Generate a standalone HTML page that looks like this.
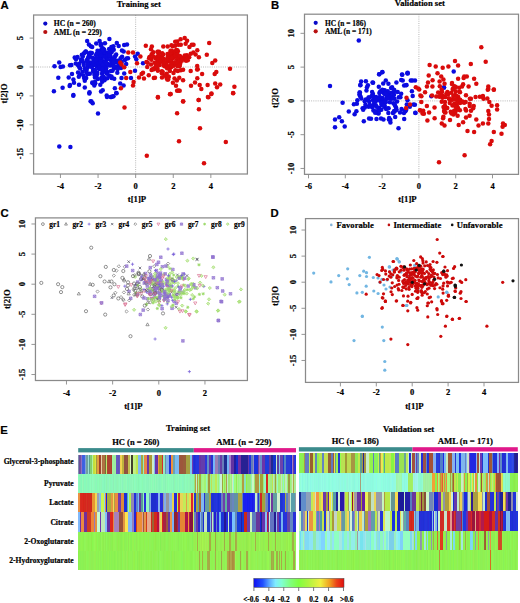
<!DOCTYPE html><html><head><meta charset="utf-8"><style>html,body{margin:0;padding:0;background:#fff}svg{display:block}text{stroke:#000;stroke-width:0.2px}</style></head><body>
<svg xmlns="http://www.w3.org/2000/svg" width="520" height="603" viewBox="0 0 520 603">
<rect width="520" height="603" fill="#fff"/>
<line x1="135.65" y1="15" x2="135.65" y2="174" stroke="#a0a0a0" stroke-width="0.75" stroke-dasharray="1,1.2"/>
<line x1="33.6" y1="67" x2="247.4" y2="67" stroke="#a0a0a0" stroke-width="0.75" stroke-dasharray="1,1.2"/>
<g fill="#0b0be0"><circle cx="103.02" cy="67.07" r="2.25"/><circle cx="106.73" cy="53.11" r="2.25"/><circle cx="99.57" cy="56.42" r="2.25"/><circle cx="91.87" cy="53.01" r="2.25"/><circle cx="97.32" cy="54.13" r="2.25"/><circle cx="90.6" cy="64.95" r="2.25"/><circle cx="103.75" cy="55.17" r="2.25"/><circle cx="119.75" cy="66.56" r="2.25"/><circle cx="96.85" cy="66.4" r="2.25"/><circle cx="95.24" cy="83.25" r="2.25"/><circle cx="109.12" cy="49.07" r="2.25"/><circle cx="107.46" cy="71.88" r="2.25"/><circle cx="104.32" cy="62.11" r="2.25"/><circle cx="91.37" cy="62.86" r="2.25"/><circle cx="102.63" cy="48.5" r="2.25"/><circle cx="111.69" cy="58.4" r="2.25"/><circle cx="86.2" cy="70.43" r="2.25"/><circle cx="97.28" cy="62.18" r="2.25"/><circle cx="79.23" cy="63.81" r="2.25"/><circle cx="86.88" cy="60.09" r="2.25"/><circle cx="79.98" cy="74.55" r="2.25"/><circle cx="100.06" cy="62.79" r="2.25"/><circle cx="87.16" cy="41" r="2.25"/><circle cx="106.39" cy="56.08" r="2.25"/><circle cx="104.96" cy="43.31" r="2.25"/><circle cx="96.27" cy="76.34" r="2.25"/><circle cx="102.39" cy="63.47" r="2.25"/><circle cx="104.42" cy="51.27" r="2.25"/><circle cx="83.87" cy="53.59" r="2.25"/><circle cx="97.03" cy="74.31" r="2.25"/><circle cx="90.77" cy="64.58" r="2.25"/><circle cx="92.89" cy="63.48" r="2.25"/><circle cx="116.26" cy="62.47" r="2.25"/><circle cx="92.91" cy="63.38" r="2.25"/><circle cx="102.59" cy="71.05" r="2.25"/><circle cx="114.05" cy="68.53" r="2.25"/><circle cx="95.7" cy="65.16" r="2.25"/><circle cx="101.6" cy="52.57" r="2.25"/><circle cx="104.38" cy="68.11" r="2.25"/><circle cx="103.8" cy="56.16" r="2.25"/><circle cx="87.69" cy="73.94" r="2.25"/><circle cx="103.95" cy="50.29" r="2.25"/><circle cx="119.99" cy="61.62" r="2.25"/><circle cx="83.66" cy="62.93" r="2.25"/><circle cx="113.74" cy="49.75" r="2.25"/><circle cx="104.49" cy="80.22" r="2.25"/><circle cx="94.98" cy="77.6" r="2.25"/><circle cx="128.01" cy="58.36" r="2.25"/><circle cx="112.53" cy="70.72" r="2.25"/><circle cx="88.01" cy="66.79" r="2.25"/><circle cx="110.21" cy="65.5" r="2.25"/><circle cx="100.64" cy="62.39" r="2.25"/><circle cx="111.54" cy="63.83" r="2.25"/><circle cx="102.17" cy="52.23" r="2.25"/><circle cx="111.34" cy="60.31" r="2.25"/><circle cx="120.98" cy="61.22" r="2.25"/><circle cx="94.55" cy="74.88" r="2.25"/><circle cx="105.54" cy="66.34" r="2.25"/><circle cx="97.21" cy="62.94" r="2.25"/><circle cx="104.59" cy="78.29" r="2.25"/><circle cx="88.16" cy="57.45" r="2.25"/><circle cx="95.76" cy="59.11" r="2.25"/><circle cx="100.55" cy="44.83" r="2.25"/><circle cx="114.23" cy="78.69" r="2.25"/><circle cx="117.32" cy="72.64" r="2.25"/><circle cx="86.46" cy="72.17" r="2.25"/><circle cx="93.07" cy="69.69" r="2.25"/><circle cx="111.09" cy="64.1" r="2.25"/><circle cx="78.09" cy="65.15" r="2.25"/><circle cx="97.21" cy="60.48" r="2.25"/><circle cx="101.78" cy="60.96" r="2.25"/><circle cx="118.71" cy="63.54" r="2.25"/><circle cx="111.62" cy="78.12" r="2.25"/><circle cx="98.91" cy="68.56" r="2.25"/><circle cx="98.39" cy="62.42" r="2.25"/><circle cx="99.87" cy="57.21" r="2.25"/><circle cx="122.04" cy="56.65" r="2.25"/><circle cx="97.65" cy="79.03" r="2.25"/><circle cx="99.2" cy="68.07" r="2.25"/><circle cx="107.41" cy="63.68" r="2.25"/><circle cx="101.49" cy="59.54" r="2.25"/><circle cx="100.53" cy="51.91" r="2.25"/><circle cx="89.07" cy="62.33" r="2.25"/><circle cx="102.86" cy="71.74" r="2.25"/><circle cx="97.46" cy="59.07" r="2.25"/><circle cx="117.58" cy="60.73" r="2.25"/><circle cx="111.16" cy="60.79" r="2.25"/><circle cx="102.7" cy="64.1" r="2.25"/><circle cx="111.35" cy="47.07" r="2.25"/><circle cx="98.75" cy="60.65" r="2.25"/><circle cx="116.15" cy="54.46" r="2.25"/><circle cx="102.93" cy="71.85" r="2.25"/><circle cx="110.29" cy="55.29" r="2.25"/><circle cx="86.86" cy="68.77" r="2.25"/><circle cx="107.33" cy="78.24" r="2.25"/><circle cx="81.9" cy="59.86" r="2.25"/><circle cx="77.56" cy="56.98" r="2.25"/><circle cx="99.19" cy="64.91" r="2.25"/><circle cx="91.75" cy="62.98" r="2.25"/><circle cx="105.05" cy="53.06" r="2.25"/><circle cx="92.6" cy="83.16" r="2.25"/><circle cx="95.2" cy="60.42" r="2.25"/><circle cx="105.57" cy="60.97" r="2.25"/><circle cx="109.16" cy="52.55" r="2.25"/><circle cx="100.79" cy="66.19" r="2.25"/><circle cx="100.43" cy="50.53" r="2.25"/><circle cx="111.78" cy="51.93" r="2.25"/><circle cx="109.5" cy="75.8" r="2.25"/><circle cx="90.08" cy="53.95" r="2.25"/><circle cx="102.01" cy="73.81" r="2.25"/><circle cx="103.44" cy="78.24" r="2.25"/><circle cx="89.82" cy="65.59" r="2.25"/><circle cx="106.25" cy="68.53" r="2.25"/><circle cx="92.28" cy="82.52" r="2.25"/><circle cx="115.15" cy="61.03" r="2.25"/><circle cx="105.41" cy="57.07" r="2.25"/><circle cx="104.12" cy="49.47" r="2.25"/><circle cx="95.61" cy="63.42" r="2.25"/><circle cx="101.52" cy="77.79" r="2.25"/><circle cx="78.03" cy="72.6" r="2.25"/><circle cx="88.86" cy="53.58" r="2.25"/><circle cx="107.54" cy="54.45" r="2.25"/><circle cx="113.58" cy="65.92" r="2.25"/><circle cx="81.17" cy="60.95" r="2.25"/><circle cx="112.46" cy="65.14" r="2.25"/><circle cx="92.43" cy="65.97" r="2.25"/><circle cx="112.74" cy="60.01" r="2.25"/><circle cx="104.64" cy="62.6" r="2.25"/><circle cx="83.79" cy="65.07" r="2.25"/><circle cx="118.61" cy="62.16" r="2.25"/><circle cx="121.02" cy="68.04" r="2.25"/><circle cx="102.18" cy="81.71" r="2.25"/><circle cx="99.58" cy="68.92" r="2.25"/><circle cx="101" cy="63.56" r="2.25"/><circle cx="90.81" cy="46.14" r="2.25"/><circle cx="116.73" cy="66.88" r="2.25"/><circle cx="96.21" cy="43.53" r="2.25"/><circle cx="102.36" cy="48.91" r="2.25"/><circle cx="93.08" cy="71.55" r="2.25"/><circle cx="95.17" cy="70.06" r="2.25"/><circle cx="87.03" cy="61.5" r="2.25"/><circle cx="118.71" cy="45.9" r="2.25"/><circle cx="101.07" cy="59.29" r="2.25"/><circle cx="115.07" cy="56.21" r="2.25"/><circle cx="103.17" cy="69.37" r="2.25"/><circle cx="94.32" cy="85.58" r="2.25"/><circle cx="98.92" cy="65.17" r="2.25"/><circle cx="96" cy="55.21" r="2.25"/><circle cx="103.1" cy="51.29" r="2.25"/><circle cx="98.31" cy="62.44" r="2.25"/><circle cx="99.25" cy="61.23" r="2.25"/><circle cx="85.77" cy="51.48" r="2.25"/><circle cx="92.91" cy="64.16" r="2.25"/><circle cx="123.68" cy="51.49" r="2.25"/><circle cx="94.61" cy="74.12" r="2.25"/><circle cx="89.82" cy="73.63" r="2.25"/><circle cx="107.22" cy="73.85" r="2.25"/><circle cx="120.59" cy="58.26" r="2.25"/><circle cx="84.82" cy="68.15" r="2.25"/><circle cx="100.39" cy="61.68" r="2.25"/><circle cx="95.1" cy="59.11" r="2.25"/><circle cx="80.99" cy="59.61" r="2.25"/><circle cx="112.19" cy="50" r="2.25"/><circle cx="102.71" cy="48.56" r="2.25"/><circle cx="103.89" cy="70.94" r="2.25"/><circle cx="93.6" cy="61.09" r="2.25"/><circle cx="108.68" cy="65.16" r="2.25"/><circle cx="96.26" cy="73.02" r="2.25"/><circle cx="101.21" cy="45.67" r="2.25"/><circle cx="89.15" cy="55.16" r="2.25"/><circle cx="87.8" cy="64.75" r="2.25"/><circle cx="119.69" cy="66.92" r="2.25"/><circle cx="96.66" cy="59.23" r="2.25"/><circle cx="106.65" cy="73.29" r="2.25"/><circle cx="102.58" cy="65.1" r="2.25"/><circle cx="97.49" cy="50.87" r="2.25"/><circle cx="96.65" cy="53.69" r="2.25"/><circle cx="110.88" cy="71.05" r="2.25"/><circle cx="99.23" cy="67.64" r="2.25"/><circle cx="101.11" cy="44.01" r="2.25"/><circle cx="103.28" cy="76.48" r="2.25"/><circle cx="117.71" cy="68.98" r="2.25"/><circle cx="111.51" cy="76.43" r="2.25"/><circle cx="107.78" cy="59.16" r="2.25"/><circle cx="95.96" cy="60.04" r="2.25"/><circle cx="85.73" cy="51.74" r="2.25"/><circle cx="114.87" cy="88.37" r="2.25"/><circle cx="115.08" cy="61.25" r="2.25"/><circle cx="101.24" cy="78.88" r="2.25"/><circle cx="109.77" cy="56.53" r="2.25"/><circle cx="112.77" cy="64.64" r="2.25"/><circle cx="113.39" cy="46.29" r="2.25"/><circle cx="114.52" cy="59.17" r="2.25"/><circle cx="97.3" cy="72.84" r="2.25"/><circle cx="121.94" cy="50.48" r="2.25"/><circle cx="87.42" cy="73.72" r="2.25"/><circle cx="113.77" cy="66.37" r="2.25"/><circle cx="109.17" cy="52.56" r="2.25"/><circle cx="113.92" cy="57.98" r="2.25"/><circle cx="126.49" cy="58.41" r="2.25"/><circle cx="121.56" cy="62.5" r="2.25"/><circle cx="88.69" cy="57.64" r="2.25"/><circle cx="81.89" cy="54.73" r="2.25"/><circle cx="113.21" cy="59.95" r="2.25"/><circle cx="90.31" cy="52.73" r="2.25"/><circle cx="102.84" cy="50.1" r="2.25"/><circle cx="113.5" cy="62.52" r="2.25"/><circle cx="82.45" cy="71.83" r="2.25"/><circle cx="106.24" cy="63.04" r="2.25"/><circle cx="103.55" cy="56.5" r="2.25"/><circle cx="99.93" cy="53.23" r="2.25"/><circle cx="103.48" cy="71.53" r="2.25"/><circle cx="92.24" cy="57.82" r="2.25"/><circle cx="84.08" cy="77.98" r="2.25"/><circle cx="100.92" cy="55.2" r="2.25"/><circle cx="90.85" cy="66.87" r="2.25"/><circle cx="82.46" cy="60.73" r="2.25"/><circle cx="109.32" cy="55.46" r="2.25"/><circle cx="102.23" cy="68.88" r="2.25"/><circle cx="54.5" cy="66.2" r="2.25"/><circle cx="59.2" cy="62.6" r="2.25"/><circle cx="60.6" cy="67" r="2.25"/><circle cx="62.9" cy="66.6" r="2.25"/><circle cx="58.3" cy="77.8" r="2.25"/><circle cx="53.9" cy="91.3" r="2.25"/><circle cx="62.6" cy="87.8" r="2.25"/><circle cx="70" cy="65.3" r="2.25"/><circle cx="71.4" cy="64.9" r="2.25"/><circle cx="73.4" cy="94.9" r="2.25"/><circle cx="69.6" cy="86.1" r="2.25"/><circle cx="70" cy="85" r="2.25"/><circle cx="68.7" cy="77.4" r="2.25"/><circle cx="72" cy="74" r="2.25"/><circle cx="73.4" cy="79.4" r="2.25"/><circle cx="74" cy="82.8" r="2.25"/><circle cx="74.7" cy="57.6" r="2.25"/><circle cx="76" cy="59.2" r="2.25"/><circle cx="75.8" cy="63.5" r="2.25"/><circle cx="79.4" cy="67.3" r="2.25"/><circle cx="80.1" cy="68.6" r="2.25"/><circle cx="79" cy="84.8" r="2.25"/><circle cx="78.8" cy="76.7" r="2.25"/><circle cx="84.8" cy="87.5" r="2.25"/><circle cx="83.5" cy="75.4" r="2.25"/><circle cx="84.8" cy="80.8" r="2.25"/><circle cx="86.2" cy="78" r="2.25"/><circle cx="89.5" cy="92.2" r="2.25"/><circle cx="89.3" cy="93.5" r="2.25"/><circle cx="91.5" cy="101.6" r="2.25"/><circle cx="82.8" cy="56.5" r="2.25"/><circle cx="84.8" cy="52.5" r="2.25"/><circle cx="88.9" cy="44.4" r="2.25"/><circle cx="99.6" cy="41" r="2.25"/><circle cx="92.2" cy="47.1" r="2.25"/><circle cx="94.9" cy="82.1" r="2.25"/><circle cx="101" cy="91.5" r="2.25"/><circle cx="100.3" cy="84.8" r="2.25"/><circle cx="109.4" cy="39" r="2.25"/><circle cx="116.8" cy="43" r="2.25"/><circle cx="127" cy="44.4" r="2.25"/><circle cx="124.2" cy="45.1" r="2.25"/><circle cx="135" cy="56.5" r="2.25"/><circle cx="137.7" cy="53.8" r="2.25"/><circle cx="136.3" cy="59.2" r="2.25"/><circle cx="143" cy="63.3" r="2.25"/><circle cx="124.9" cy="59.9" r="2.25"/><circle cx="126.2" cy="63.9" r="2.25"/><circle cx="135" cy="70.7" r="2.25"/><circle cx="131" cy="78" r="2.25"/><circle cx="124.2" cy="73.4" r="2.25"/><circle cx="121.5" cy="78.1" r="2.25"/><circle cx="120.2" cy="83.5" r="2.25"/><circle cx="123.6" cy="85.5" r="2.25"/><circle cx="116.2" cy="92.9" r="2.25"/><circle cx="113.5" cy="96.2" r="2.25"/><circle cx="106.7" cy="95.6" r="2.25"/><circle cx="110.8" cy="96.9" r="2.25"/><circle cx="102.7" cy="90.2" r="2.25"/><circle cx="73.3" cy="95.8" r="2.25"/><circle cx="90.6" cy="101.2" r="2.25"/><circle cx="92.7" cy="103.2" r="2.25"/><circle cx="98" cy="113.5" r="2.25"/><circle cx="107" cy="97" r="2.25"/><circle cx="111.2" cy="97" r="2.25"/><circle cx="59.3" cy="146.4" r="2.25"/><circle cx="70.4" cy="146.9" r="2.25"/><circle cx="116.6" cy="93.2" r="2.25"/><circle cx="112.6" cy="96.6" r="2.25"/></g>
<g fill="#d90b0b"><circle cx="169.91" cy="68.08" r="2.25"/><circle cx="180.14" cy="63.43" r="2.25"/><circle cx="171.36" cy="54.59" r="2.25"/><circle cx="157.34" cy="59.87" r="2.25"/><circle cx="170.62" cy="66.81" r="2.25"/><circle cx="184.94" cy="58.88" r="2.25"/><circle cx="159.77" cy="64.89" r="2.25"/><circle cx="171.47" cy="66.14" r="2.25"/><circle cx="148.75" cy="75.31" r="2.25"/><circle cx="180.8" cy="70.22" r="2.25"/><circle cx="157.4" cy="62.81" r="2.25"/><circle cx="147.61" cy="62.72" r="2.25"/><circle cx="171.2" cy="67.08" r="2.25"/><circle cx="186.93" cy="55.15" r="2.25"/><circle cx="151.42" cy="59.64" r="2.25"/><circle cx="157.31" cy="68.16" r="2.25"/><circle cx="161.97" cy="77.62" r="2.25"/><circle cx="156.75" cy="58.57" r="2.25"/><circle cx="177.12" cy="59.56" r="2.25"/><circle cx="161.1" cy="61.79" r="2.25"/><circle cx="162.26" cy="72.09" r="2.25"/><circle cx="179.87" cy="59.73" r="2.25"/><circle cx="161.8" cy="73.22" r="2.25"/><circle cx="177.84" cy="51.3" r="2.25"/><circle cx="158.89" cy="58.33" r="2.25"/><circle cx="155.64" cy="58.22" r="2.25"/><circle cx="147.22" cy="67.08" r="2.25"/><circle cx="197.13" cy="69.41" r="2.25"/><circle cx="167.68" cy="46.42" r="2.25"/><circle cx="175.29" cy="51.76" r="2.25"/><circle cx="171.58" cy="63.03" r="2.25"/><circle cx="174.16" cy="54.07" r="2.25"/><circle cx="172.67" cy="46.3" r="2.25"/><circle cx="197.76" cy="69.35" r="2.25"/><circle cx="157.97" cy="64.45" r="2.25"/><circle cx="150.97" cy="64.44" r="2.25"/><circle cx="158.34" cy="55.72" r="2.25"/><circle cx="153.98" cy="69.26" r="2.25"/><circle cx="182.08" cy="57.84" r="2.25"/><circle cx="183.08" cy="69.87" r="2.25"/><circle cx="159.02" cy="51.8" r="2.25"/><circle cx="153.23" cy="52.31" r="2.25"/><circle cx="167.21" cy="61.84" r="2.25"/><circle cx="190.78" cy="53.68" r="2.25"/><circle cx="179.11" cy="62.34" r="2.25"/><circle cx="157.48" cy="51.69" r="2.25"/><circle cx="186.04" cy="60.66" r="2.25"/><circle cx="157.45" cy="56.84" r="2.25"/><circle cx="168.15" cy="68.24" r="2.25"/><circle cx="151.67" cy="54.31" r="2.25"/><circle cx="158.81" cy="56.05" r="2.25"/><circle cx="190.71" cy="70.9" r="2.25"/><circle cx="183.08" cy="80.15" r="2.25"/><circle cx="166.58" cy="77.99" r="2.25"/><circle cx="160.25" cy="60.57" r="2.25"/><circle cx="146.43" cy="61.97" r="2.25"/><circle cx="166.69" cy="73.8" r="2.25"/><circle cx="171.58" cy="58.88" r="2.25"/><circle cx="170.87" cy="51.21" r="2.25"/><circle cx="170.73" cy="61.05" r="2.25"/><circle cx="156.86" cy="64.06" r="2.25"/><circle cx="171.11" cy="52.54" r="2.25"/><circle cx="171.48" cy="45.18" r="2.25"/><circle cx="189.42" cy="47.07" r="2.25"/><circle cx="197.2" cy="65.99" r="2.25"/><circle cx="170.15" cy="53.17" r="2.25"/><circle cx="161.65" cy="58.73" r="2.25"/><circle cx="171.12" cy="61.91" r="2.25"/><circle cx="163.8" cy="65.57" r="2.25"/><circle cx="161.98" cy="56.99" r="2.25"/><circle cx="171.21" cy="64.49" r="2.25"/><circle cx="157.92" cy="51.99" r="2.25"/><circle cx="180.18" cy="56.74" r="2.25"/><circle cx="170.6" cy="50.78" r="2.25"/><circle cx="175.38" cy="70.19" r="2.25"/><circle cx="169.53" cy="59.76" r="2.25"/><circle cx="162.18" cy="53.35" r="2.25"/><circle cx="159.2" cy="56.83" r="2.25"/><circle cx="168.8" cy="58" r="2.25"/><circle cx="164.59" cy="66.3" r="2.25"/><circle cx="175.16" cy="45.64" r="2.25"/><circle cx="171.94" cy="50.67" r="2.25"/><circle cx="153.61" cy="56.6" r="2.25"/><circle cx="172.91" cy="82.79" r="2.25"/><circle cx="153.87" cy="68.6" r="2.25"/><circle cx="163.68" cy="59" r="2.25"/><circle cx="168.03" cy="66.41" r="2.25"/><circle cx="143.98" cy="78.52" r="2.25"/><circle cx="173.24" cy="57.9" r="2.25"/><circle cx="174.04" cy="56.7" r="2.25"/><circle cx="169.87" cy="70.91" r="2.25"/><circle cx="166.27" cy="64.45" r="2.25"/><circle cx="166.96" cy="66.04" r="2.25"/><circle cx="158.82" cy="55.43" r="2.25"/><circle cx="168.36" cy="77.32" r="2.25"/><circle cx="164.54" cy="75.39" r="2.25"/><circle cx="173.24" cy="65.09" r="2.25"/><circle cx="155.74" cy="66.16" r="2.25"/><circle cx="175.18" cy="41.75" r="2.25"/><circle cx="173.93" cy="65.74" r="2.25"/><circle cx="170.09" cy="58.25" r="2.25"/><circle cx="166.07" cy="63.91" r="2.25"/><circle cx="179.46" cy="66.14" r="2.25"/><circle cx="149.53" cy="56.93" r="2.25"/><circle cx="178.22" cy="44.79" r="2.25"/><circle cx="175.28" cy="63.31" r="2.25"/><circle cx="175.83" cy="53.33" r="2.25"/><circle cx="177.17" cy="57.03" r="2.25"/><circle cx="163.18" cy="54.56" r="2.25"/><circle cx="168.5" cy="56.93" r="2.25"/><circle cx="180.6" cy="39.21" r="2.25"/><circle cx="177.81" cy="70.95" r="2.25"/><circle cx="174.79" cy="62.28" r="2.25"/><circle cx="151.56" cy="70" r="2.25"/><circle cx="179.26" cy="77.82" r="2.25"/><circle cx="187.79" cy="60.2" r="2.25"/><circle cx="185.63" cy="43.78" r="2.25"/><circle cx="175.16" cy="51.96" r="2.25"/><circle cx="150.97" cy="49.14" r="2.25"/><circle cx="184.72" cy="55.48" r="2.25"/><circle cx="170.01" cy="60.72" r="2.25"/><circle cx="177.09" cy="63.08" r="2.25"/><circle cx="151.86" cy="46.41" r="2.25"/><circle cx="154.5" cy="62.68" r="2.25"/><circle cx="163.43" cy="59.01" r="2.25"/><circle cx="189.18" cy="57.18" r="2.25"/><circle cx="166.99" cy="59.34" r="2.25"/><circle cx="175.66" cy="55.14" r="2.25"/><circle cx="195.6" cy="54.49" r="2.25"/><circle cx="193.52" cy="44.86" r="2.25"/><circle cx="170.6" cy="59.73" r="2.25"/><circle cx="168.74" cy="76.61" r="2.25"/><circle cx="154.98" cy="77.82" r="2.25"/><circle cx="162.62" cy="71.9" r="2.25"/><circle cx="177.74" cy="66.35" r="2.25"/><circle cx="177.34" cy="53.91" r="2.25"/><circle cx="173.49" cy="72.98" r="2.25"/><circle cx="185.43" cy="59.49" r="2.25"/><circle cx="161.57" cy="59.38" r="2.25"/><circle cx="171.24" cy="57.38" r="2.25"/><circle cx="181.87" cy="60.83" r="2.25"/><circle cx="179.89" cy="56.08" r="2.25"/><circle cx="186.46" cy="59.25" r="2.25"/><circle cx="177.36" cy="50.24" r="2.25"/><circle cx="167.82" cy="56.64" r="2.25"/><circle cx="176.89" cy="80.53" r="2.25"/><circle cx="158.46" cy="59.37" r="2.25"/><circle cx="149.87" cy="57.85" r="2.25"/><circle cx="179.84" cy="64.79" r="2.25"/><circle cx="171.26" cy="66.37" r="2.25"/><circle cx="176.16" cy="49.98" r="2.25"/><circle cx="149.08" cy="58.14" r="2.25"/><circle cx="167.07" cy="68.26" r="2.25"/><circle cx="163.9" cy="62.43" r="2.25"/><circle cx="160.33" cy="61.1" r="2.25"/><circle cx="141.56" cy="73.99" r="2.25"/><circle cx="167.48" cy="53.9" r="2.25"/><circle cx="128.3" cy="52.5" r="2.25"/><circle cx="133" cy="52.5" r="2.25"/><circle cx="120.2" cy="62.6" r="2.25"/><circle cx="121.5" cy="64.6" r="2.25"/><circle cx="124.2" cy="67.3" r="2.25"/><circle cx="130.3" cy="72" r="2.25"/><circle cx="126.2" cy="78.1" r="2.25"/><circle cx="133.6" cy="82.1" r="2.25"/><circle cx="133" cy="85.5" r="2.25"/><circle cx="120.9" cy="88.2" r="2.25"/><circle cx="139" cy="77.4" r="2.25"/><circle cx="143" cy="72.7" r="2.25"/><circle cx="137" cy="63.3" r="2.25"/><circle cx="140.4" cy="56.5" r="2.25"/><circle cx="153.8" cy="78.1" r="2.25"/><circle cx="152.5" cy="69.3" r="2.25"/><circle cx="157.9" cy="70.7" r="2.25"/><circle cx="161.9" cy="71.3" r="2.25"/><circle cx="157.9" cy="96.9" r="2.25"/><circle cx="166" cy="75.4" r="2.25"/><circle cx="167.3" cy="79.4" r="2.25"/><circle cx="170" cy="94.2" r="2.25"/><circle cx="145.8" cy="45.8" r="2.25"/><circle cx="163.3" cy="46.4" r="2.25"/><circle cx="184.7" cy="37.9" r="2.25"/><circle cx="187.1" cy="40.8" r="2.25"/><circle cx="177.3" cy="41.6" r="2.25"/><circle cx="180.8" cy="44.7" r="2.25"/><circle cx="191.8" cy="44.7" r="2.25"/><circle cx="209.2" cy="43.1" r="2.25"/><circle cx="197.3" cy="50.2" r="2.25"/><circle cx="193.4" cy="52.6" r="2.25"/><circle cx="206.8" cy="54.7" r="2.25"/><circle cx="198.9" cy="57.3" r="2.25"/><circle cx="212.3" cy="62.9" r="2.25"/><circle cx="215.2" cy="60.5" r="2.25"/><circle cx="230" cy="68.8" r="2.25"/><circle cx="216.3" cy="72" r="2.25"/><circle cx="214.7" cy="73.9" r="2.25"/><circle cx="202.1" cy="73.9" r="2.25"/><circle cx="197.3" cy="78.3" r="2.25"/><circle cx="207.6" cy="85" r="2.25"/><circle cx="215.2" cy="83.4" r="2.25"/><circle cx="217" cy="87.3" r="2.25"/><circle cx="220.2" cy="84.6" r="2.25"/><circle cx="234.4" cy="86.8" r="2.25"/><circle cx="233.1" cy="93.1" r="2.25"/><circle cx="211.5" cy="93.6" r="2.25"/><circle cx="208.4" cy="97.2" r="2.25"/><circle cx="198.6" cy="99.9" r="2.25"/><circle cx="183.1" cy="101.5" r="2.25"/><circle cx="170.5" cy="94.1" r="2.25"/><circle cx="178.4" cy="90.5" r="2.25"/><circle cx="176" cy="85.7" r="2.25"/><circle cx="191" cy="85.7" r="2.25"/><circle cx="195" cy="82.6" r="2.25"/><circle cx="199.7" cy="85" r="2.25"/><circle cx="201.3" cy="88.9" r="2.25"/><circle cx="168.2" cy="79.4" r="2.25"/><circle cx="174.5" cy="78.6" r="2.25"/><circle cx="124.5" cy="107.6" r="2.25"/><circle cx="157.9" cy="97.4" r="2.25"/><circle cx="170.5" cy="93.9" r="2.25"/><circle cx="177.1" cy="90.8" r="2.25"/><circle cx="179.7" cy="90.8" r="2.25"/><circle cx="183.2" cy="101.3" r="2.25"/><circle cx="198.7" cy="100" r="2.25"/><circle cx="207.9" cy="97.1" r="2.25"/><circle cx="211.3" cy="93.9" r="2.25"/><circle cx="233.2" cy="93.2" r="2.25"/><circle cx="198.9" cy="109.2" r="2.25"/><circle cx="177.1" cy="113.2" r="2.25"/><circle cx="200" cy="128.2" r="2.25"/><circle cx="179" cy="141.3" r="2.25"/><circle cx="225.8" cy="142.1" r="2.25"/><circle cx="146.8" cy="155.8" r="2.25"/><circle cx="204" cy="163.2" r="2.25"/></g>
<rect x="33.6" y="15" width="213.8" height="159" fill="none" stroke="#8a8a8a" stroke-width="1.25"/>
<line x1="60.45" y1="174" x2="60.45" y2="178" stroke="#8a8a8a" stroke-width="0.9"/>
<text x="60.45" y="189" text-anchor="middle" font-size="8.5" font-family='"Liberation Serif", serif' font-weight="bold" fill="#000">-4</text>
<line x1="98.05" y1="174" x2="98.05" y2="178" stroke="#8a8a8a" stroke-width="0.9"/>
<text x="98.05" y="189" text-anchor="middle" font-size="8.5" font-family='"Liberation Serif", serif' font-weight="bold" fill="#000">-2</text>
<line x1="135.65" y1="174" x2="135.65" y2="178" stroke="#8a8a8a" stroke-width="0.9"/>
<text x="135.65" y="189" text-anchor="middle" font-size="8.5" font-family='"Liberation Serif", serif' font-weight="bold" fill="#000">0</text>
<line x1="173.25" y1="174" x2="173.25" y2="178" stroke="#8a8a8a" stroke-width="0.9"/>
<text x="173.25" y="189" text-anchor="middle" font-size="8.5" font-family='"Liberation Serif", serif' font-weight="bold" fill="#000">2</text>
<line x1="210.85" y1="174" x2="210.85" y2="178" stroke="#8a8a8a" stroke-width="0.9"/>
<text x="210.85" y="189" text-anchor="middle" font-size="8.5" font-family='"Liberation Serif", serif' font-weight="bold" fill="#000">4</text>
<line x1="33.6" y1="38.1" x2="29.6" y2="38.1" stroke="#8a8a8a" stroke-width="0.9"/>
<text transform="translate(23,38.1) rotate(-90)" text-anchor="middle" font-size="8.5" font-family='"Liberation Serif", serif' font-weight="bold" fill="#000">5</text>
<line x1="33.6" y1="67" x2="29.6" y2="67" stroke="#8a8a8a" stroke-width="0.9"/>
<text transform="translate(23,67) rotate(-90)" text-anchor="middle" font-size="8.5" font-family='"Liberation Serif", serif' font-weight="bold" fill="#000">0</text>
<line x1="33.6" y1="95.9" x2="29.6" y2="95.9" stroke="#8a8a8a" stroke-width="0.9"/>
<text transform="translate(23,95.9) rotate(-90)" text-anchor="middle" font-size="8.5" font-family='"Liberation Serif", serif' font-weight="bold" fill="#000">-5</text>
<line x1="33.6" y1="124.8" x2="29.6" y2="124.8" stroke="#8a8a8a" stroke-width="0.9"/>
<text transform="translate(23,124.8) rotate(-90)" text-anchor="middle" font-size="8.5" font-family='"Liberation Serif", serif' font-weight="bold" fill="#000">-10</text>
<line x1="33.6" y1="153.7" x2="29.6" y2="153.7" stroke="#8a8a8a" stroke-width="0.9"/>
<text transform="translate(23,153.7) rotate(-90)" text-anchor="middle" font-size="8.5" font-family='"Liberation Serif", serif' font-weight="bold" fill="#000">-15</text>
<g fill="#0a0ac8"><circle cx="45.3" cy="23.6" r="2.1"/></g>
<g fill="#b81010"><circle cx="45.3" cy="32" r="2.1"/></g>
<text x="53.8" y="26.3" text-anchor="start" font-size="7.6" font-family='"Liberation Serif", serif' font-weight="bold" fill="#000">HC (n = 260)</text>
<text x="53.8" y="34.7" text-anchor="start" font-size="7.6" font-family='"Liberation Serif", serif' font-weight="bold" fill="#000">AML (n = 229)</text>
<text x="138.8" y="6.6" text-anchor="middle" font-size="8.6" font-family='"Liberation Serif", serif' font-weight="bold" fill="#000">Training set</text>
<text x="137" y="201.8" text-anchor="middle" font-size="8.7" font-family='"Liberation Serif", serif' font-weight="bold" fill="#000">t[1]P</text>
<text transform="translate(7,93.5) rotate(-90)" text-anchor="middle" font-size="8.7" font-family='"Liberation Serif", serif' font-weight="bold" fill="#000">t[2]O</text>
<text x="0.6" y="9.3" text-anchor="start" font-size="11.3" font-family='"Liberation Sans", sans-serif' font-weight="bold" fill="#000">A</text>
<line x1="418.9" y1="14.2" x2="418.9" y2="174.35" stroke="#a0a0a0" stroke-width="0.75" stroke-dasharray="1,1.2"/>
<line x1="304.5" y1="100.9" x2="518.5" y2="100.9" stroke="#a0a0a0" stroke-width="0.75" stroke-dasharray="1,1.2"/>
<g fill="#0b0be0"><circle cx="384.24" cy="102.48" r="2.25"/><circle cx="375.2" cy="101.68" r="2.25"/><circle cx="405.35" cy="111.36" r="2.25"/><circle cx="372.95" cy="93.93" r="2.25"/><circle cx="375.06" cy="99.11" r="2.25"/><circle cx="392.95" cy="112.89" r="2.25"/><circle cx="392.09" cy="87.13" r="2.25"/><circle cx="403.93" cy="112.92" r="2.25"/><circle cx="359.39" cy="94.61" r="2.25"/><circle cx="394.26" cy="89.99" r="2.25"/><circle cx="378.6" cy="113.6" r="2.25"/><circle cx="373.02" cy="100.03" r="2.25"/><circle cx="391.09" cy="88" r="2.25"/><circle cx="369.2" cy="97.41" r="2.25"/><circle cx="377.45" cy="112.92" r="2.25"/><circle cx="360.53" cy="96.73" r="2.25"/><circle cx="373.27" cy="105.06" r="2.25"/><circle cx="388.57" cy="108.14" r="2.25"/><circle cx="387.68" cy="94.55" r="2.25"/><circle cx="406.8" cy="104.55" r="2.25"/><circle cx="380.01" cy="100.68" r="2.25"/><circle cx="360" cy="95.64" r="2.25"/><circle cx="371.66" cy="96.08" r="2.25"/><circle cx="369.21" cy="101.67" r="2.25"/><circle cx="364.73" cy="101.3" r="2.25"/><circle cx="389.53" cy="95.35" r="2.25"/><circle cx="373.32" cy="96.74" r="2.25"/><circle cx="393.45" cy="103.14" r="2.25"/><circle cx="381.33" cy="109.85" r="2.25"/><circle cx="388.35" cy="113.02" r="2.25"/><circle cx="384.59" cy="106.89" r="2.25"/><circle cx="383.57" cy="92.75" r="2.25"/><circle cx="401.54" cy="109.08" r="2.25"/><circle cx="389.37" cy="97.82" r="2.25"/><circle cx="388.88" cy="119.56" r="2.25"/><circle cx="389.15" cy="118" r="2.25"/><circle cx="361.15" cy="81.46" r="2.25"/><circle cx="380.53" cy="91.31" r="2.25"/><circle cx="379.11" cy="107.64" r="2.25"/><circle cx="386.11" cy="108.9" r="2.25"/><circle cx="362.62" cy="108.37" r="2.25"/><circle cx="407.51" cy="100.29" r="2.25"/><circle cx="384.57" cy="105.55" r="2.25"/><circle cx="364.83" cy="107.53" r="2.25"/><circle cx="357.37" cy="100.22" r="2.25"/><circle cx="378.78" cy="111.27" r="2.25"/><circle cx="372.23" cy="107.34" r="2.25"/><circle cx="384.38" cy="90.66" r="2.25"/><circle cx="373.38" cy="110.59" r="2.25"/><circle cx="391.27" cy="98.71" r="2.25"/><circle cx="372.13" cy="92.11" r="2.25"/><circle cx="382.42" cy="104.74" r="2.25"/><circle cx="397.68" cy="91.89" r="2.25"/><circle cx="367.89" cy="85.33" r="2.25"/><circle cx="376.03" cy="100.73" r="2.25"/><circle cx="370.4" cy="105.97" r="2.25"/><circle cx="394.76" cy="111.23" r="2.25"/><circle cx="365.78" cy="99.58" r="2.25"/><circle cx="375.73" cy="111.48" r="2.25"/><circle cx="382.56" cy="101.18" r="2.25"/><circle cx="368.32" cy="100.07" r="2.25"/><circle cx="368.64" cy="106.74" r="2.25"/><circle cx="375.87" cy="111.58" r="2.25"/><circle cx="361.32" cy="98.56" r="2.25"/><circle cx="376.8" cy="99.39" r="2.25"/><circle cx="385.22" cy="101.83" r="2.25"/><circle cx="380.21" cy="92" r="2.25"/><circle cx="356.39" cy="111.28" r="2.25"/><circle cx="376.04" cy="97" r="2.25"/><circle cx="394.98" cy="105.62" r="2.25"/><circle cx="391.34" cy="92.75" r="2.25"/><circle cx="381.82" cy="104.59" r="2.25"/><circle cx="369.69" cy="104.92" r="2.25"/><circle cx="392.47" cy="96.79" r="2.25"/><circle cx="365.46" cy="104.71" r="2.25"/><circle cx="370.97" cy="118.77" r="2.25"/><circle cx="404.73" cy="110.59" r="2.25"/><circle cx="386.3" cy="94.38" r="2.25"/><circle cx="400.39" cy="97.18" r="2.25"/><circle cx="375.81" cy="105.36" r="2.25"/><circle cx="397.07" cy="101.61" r="2.25"/><circle cx="373.98" cy="101.49" r="2.25"/><circle cx="380.64" cy="98.14" r="2.25"/><circle cx="394.51" cy="98.75" r="2.25"/><circle cx="381.73" cy="104.72" r="2.25"/><circle cx="387.89" cy="93.74" r="2.25"/><circle cx="401.16" cy="93.85" r="2.25"/><circle cx="375.66" cy="98.81" r="2.25"/><circle cx="356.88" cy="103.73" r="2.25"/><circle cx="378.81" cy="86.68" r="2.25"/><circle cx="383.23" cy="83.51" r="2.25"/><circle cx="384.64" cy="90.34" r="2.25"/><circle cx="402.75" cy="80.58" r="2.25"/><circle cx="387.75" cy="91.33" r="2.25"/><circle cx="395.19" cy="116.91" r="2.25"/><circle cx="366.48" cy="90.43" r="2.25"/><circle cx="396.02" cy="107.51" r="2.25"/><circle cx="394.59" cy="103.99" r="2.25"/><circle cx="386.8" cy="97.8" r="2.25"/><circle cx="385.31" cy="100.4" r="2.25"/><circle cx="409.81" cy="106.69" r="2.25"/><circle cx="369.09" cy="118.56" r="2.25"/><circle cx="381.33" cy="102.95" r="2.25"/><circle cx="389.9" cy="102.24" r="2.25"/><circle cx="394.16" cy="91.27" r="2.25"/><circle cx="376.44" cy="106.83" r="2.25"/><circle cx="387.61" cy="98.54" r="2.25"/><circle cx="378.83" cy="109.32" r="2.25"/><circle cx="384.81" cy="100.56" r="2.25"/><circle cx="381.02" cy="118.41" r="2.25"/><circle cx="365.88" cy="81.17" r="2.25"/><circle cx="382.68" cy="98.03" r="2.25"/><circle cx="396.16" cy="109.81" r="2.25"/><circle cx="368.49" cy="97.49" r="2.25"/><circle cx="379.38" cy="93.08" r="2.25"/><circle cx="392.97" cy="98.34" r="2.25"/><circle cx="366.95" cy="87.2" r="2.25"/><circle cx="385.74" cy="102.19" r="2.25"/><circle cx="400.02" cy="112.45" r="2.25"/><circle cx="379.71" cy="96.95" r="2.25"/><circle cx="394.1" cy="111.04" r="2.25"/><circle cx="384.81" cy="92.79" r="2.25"/><circle cx="384.53" cy="94.1" r="2.25"/><circle cx="406.22" cy="109.85" r="2.25"/><circle cx="363.21" cy="109.65" r="2.25"/><circle cx="398.83" cy="97.26" r="2.25"/><circle cx="382.27" cy="89.82" r="2.25"/><circle cx="404.13" cy="85.5" r="2.25"/><circle cx="385.81" cy="94.01" r="2.25"/><circle cx="387.16" cy="108.5" r="2.25"/><circle cx="394.04" cy="94.7" r="2.25"/><circle cx="383.54" cy="105.81" r="2.25"/><circle cx="390.32" cy="119.68" r="2.25"/><circle cx="375.17" cy="112.73" r="2.25"/><circle cx="396.5" cy="109.69" r="2.25"/><circle cx="393.49" cy="112.58" r="2.25"/><circle cx="358.8" cy="40.5" r="2.25"/><circle cx="330" cy="85.9" r="2.25"/><circle cx="360.3" cy="85.2" r="2.25"/><circle cx="359.6" cy="92.5" r="2.25"/><circle cx="379.1" cy="74.2" r="2.25"/><circle cx="382.4" cy="72" r="2.25"/><circle cx="372.5" cy="82.6" r="2.25"/><circle cx="402.3" cy="74.8" r="2.25"/><circle cx="407.4" cy="73.3" r="2.25"/><circle cx="401.2" cy="79.9" r="2.25"/><circle cx="410.8" cy="80.4" r="2.25"/><circle cx="415" cy="80.4" r="2.25"/><circle cx="396.4" cy="82.6" r="2.25"/><circle cx="406.1" cy="85.2" r="2.25"/><circle cx="385.8" cy="80.4" r="2.25"/><circle cx="388.4" cy="83.7" r="2.25"/><circle cx="342.6" cy="102.8" r="2.25"/><circle cx="348.8" cy="111.5" r="2.25"/><circle cx="335" cy="119.6" r="2.25"/><circle cx="339.2" cy="117.3" r="2.25"/><circle cx="341.9" cy="121.2" r="2.25"/><circle cx="335" cy="127.2" r="2.25"/><circle cx="344.7" cy="126.5" r="2.25"/><circle cx="354.6" cy="114.3" r="2.25"/><circle cx="353.9" cy="104.2" r="2.25"/><circle cx="360.4" cy="85" r="2.25"/><circle cx="359.9" cy="92.6" r="2.25"/><circle cx="363.8" cy="121.2" r="2.25"/><circle cx="373.1" cy="82.7" r="2.25"/><circle cx="379.3" cy="74.2" r="2.25"/><circle cx="382.3" cy="72.3" r="2.25"/><circle cx="402" cy="74.6" r="2.25"/><circle cx="407.7" cy="73.5" r="2.25"/><circle cx="412.3" cy="80.4" r="2.25"/><circle cx="406.5" cy="85" r="2.25"/><circle cx="411.9" cy="91.2" r="2.25"/><circle cx="413.5" cy="104.6" r="2.25"/><circle cx="415.3" cy="112.7" r="2.25"/><circle cx="398.5" cy="128.2" r="2.25"/><circle cx="404.2" cy="118.9" r="2.25"/><circle cx="390.4" cy="122.6" r="2.25"/><circle cx="383.5" cy="119.6" r="2.25"/><circle cx="376.5" cy="118.9" r="2.25"/><circle cx="407.6" cy="72.8" r="2.25"/><circle cx="453.7" cy="71.5" r="2.25"/><circle cx="444" cy="87.5" r="2.25"/><circle cx="431.3" cy="96.2" r="2.25"/><circle cx="415.5" cy="113.1" r="2.25"/><circle cx="414.9" cy="104.7" r="2.25"/><circle cx="412.7" cy="96" r="2.25"/><circle cx="444" cy="87.6" r="2.25"/></g>
<g fill="#d90b0b"><circle cx="444.55" cy="83.63" r="2.25"/><circle cx="441.65" cy="89.64" r="2.25"/><circle cx="453.46" cy="114.56" r="2.25"/><circle cx="432.58" cy="80.31" r="2.25"/><circle cx="475.59" cy="96.96" r="2.25"/><circle cx="421.32" cy="101.97" r="2.25"/><circle cx="439.5" cy="96.63" r="2.25"/><circle cx="451.23" cy="92.73" r="2.25"/><circle cx="451.82" cy="99.45" r="2.25"/><circle cx="457.33" cy="99.96" r="2.25"/><circle cx="458.8" cy="99.26" r="2.25"/><circle cx="452.01" cy="83.1" r="2.25"/><circle cx="470.92" cy="98.67" r="2.25"/><circle cx="425.05" cy="92.3" r="2.25"/><circle cx="455" cy="95.07" r="2.25"/><circle cx="445" cy="102.04" r="2.25"/><circle cx="456.86" cy="105.77" r="2.25"/><circle cx="458.09" cy="108.07" r="2.25"/><circle cx="442.23" cy="95.53" r="2.25"/><circle cx="446.03" cy="108.32" r="2.25"/><circle cx="466.1" cy="110.56" r="2.25"/><circle cx="459.89" cy="110.23" r="2.25"/><circle cx="445.48" cy="112.51" r="2.25"/><circle cx="483.56" cy="98.69" r="2.25"/><circle cx="487.33" cy="98.43" r="2.25"/><circle cx="434.53" cy="107.43" r="2.25"/><circle cx="459.23" cy="87.7" r="2.25"/><circle cx="465.97" cy="95.22" r="2.25"/><circle cx="458.09" cy="96.68" r="2.25"/><circle cx="452.09" cy="84.33" r="2.25"/><circle cx="447.42" cy="91.99" r="2.25"/><circle cx="452.02" cy="99.82" r="2.25"/><circle cx="447.29" cy="108" r="2.25"/><circle cx="465.43" cy="108.91" r="2.25"/><circle cx="449.43" cy="99.28" r="2.25"/><circle cx="448.82" cy="98.3" r="2.25"/><circle cx="438.17" cy="92.52" r="2.25"/><circle cx="454.31" cy="103.62" r="2.25"/><circle cx="442.48" cy="97.77" r="2.25"/><circle cx="452.47" cy="105.45" r="2.25"/><circle cx="469.59" cy="115.77" r="2.25"/><circle cx="460.12" cy="99.71" r="2.25"/><circle cx="462.07" cy="86.52" r="2.25"/><circle cx="459.99" cy="92.25" r="2.25"/><circle cx="455.83" cy="86.88" r="2.25"/><circle cx="453.22" cy="89.23" r="2.25"/><circle cx="450.69" cy="111.75" r="2.25"/><circle cx="465.63" cy="102.04" r="2.25"/><circle cx="439.82" cy="86.32" r="2.25"/><circle cx="473.77" cy="105.88" r="2.25"/><circle cx="455.48" cy="111.34" r="2.25"/><circle cx="444.52" cy="96.76" r="2.25"/><circle cx="448.15" cy="93.92" r="2.25"/><circle cx="445.52" cy="96.96" r="2.25"/><circle cx="457.24" cy="102.56" r="2.25"/><circle cx="444.95" cy="105.76" r="2.25"/><circle cx="470.99" cy="110.64" r="2.25"/><circle cx="444.06" cy="110.91" r="2.25"/><circle cx="423.18" cy="110.67" r="2.25"/><circle cx="444.77" cy="112.26" r="2.25"/><circle cx="426.88" cy="105.95" r="2.25"/><circle cx="454.44" cy="86.22" r="2.25"/><circle cx="469.83" cy="98.82" r="2.25"/><circle cx="464.07" cy="102.83" r="2.25"/><circle cx="436.27" cy="96.55" r="2.25"/><circle cx="444.33" cy="108.2" r="2.25"/><circle cx="479.9" cy="96.76" r="2.25"/><circle cx="459.46" cy="91.67" r="2.25"/><circle cx="455.06" cy="113" r="2.25"/><circle cx="469.78" cy="105.99" r="2.25"/><circle cx="489.34" cy="101.97" r="2.25"/><circle cx="473.15" cy="108.34" r="2.25"/><circle cx="456.95" cy="109.56" r="2.25"/><circle cx="459.97" cy="103.07" r="2.25"/><circle cx="463.64" cy="77.88" r="2.25"/><circle cx="446.42" cy="93.92" r="2.25"/><circle cx="440.18" cy="95.89" r="2.25"/><circle cx="455.73" cy="91.14" r="2.25"/><circle cx="441.74" cy="101.79" r="2.25"/><circle cx="454.14" cy="110.73" r="2.25"/><circle cx="456.35" cy="95.64" r="2.25"/><circle cx="487.77" cy="89.79" r="2.25"/><circle cx="443.09" cy="118.25" r="2.25"/><circle cx="453.29" cy="95.94" r="2.25"/><circle cx="452.7" cy="88.9" r="2.25"/><circle cx="461.12" cy="102.14" r="2.25"/><circle cx="469.65" cy="103.83" r="2.25"/><circle cx="448.13" cy="93.65" r="2.25"/><circle cx="443.5" cy="107.11" r="2.25"/><circle cx="432.03" cy="95.61" r="2.25"/><circle cx="442.03" cy="91.69" r="2.25"/><circle cx="462.51" cy="101.61" r="2.25"/><circle cx="455.64" cy="106.94" r="2.25"/><circle cx="440.78" cy="94.3" r="2.25"/><circle cx="449.78" cy="102.98" r="2.25"/><circle cx="455.44" cy="99.16" r="2.25"/><circle cx="446.69" cy="93.62" r="2.25"/><circle cx="451.49" cy="112.46" r="2.25"/><circle cx="415.8" cy="87.3" r="2.25"/><circle cx="419.2" cy="89.6" r="2.25"/><circle cx="406.5" cy="97.7" r="2.25"/><circle cx="406.1" cy="108.1" r="2.25"/><circle cx="410" cy="104.6" r="2.25"/><circle cx="420.4" cy="95.4" r="2.25"/><circle cx="420.4" cy="110.4" r="2.25"/><circle cx="423.9" cy="113.8" r="2.25"/><circle cx="481.3" cy="47.3" r="2.25"/><circle cx="485.7" cy="61.8" r="2.25"/><circle cx="470.8" cy="64" r="2.25"/><circle cx="455" cy="61.1" r="2.25"/><circle cx="458.1" cy="65.5" r="2.25"/><circle cx="448.4" cy="66.6" r="2.25"/><circle cx="442.7" cy="67.7" r="2.25"/><circle cx="435.7" cy="66.6" r="2.25"/><circle cx="429.6" cy="64.9" r="2.25"/><circle cx="428.7" cy="75.4" r="2.25"/><circle cx="437.5" cy="73.2" r="2.25"/><circle cx="441.2" cy="76.5" r="2.25"/><circle cx="443.4" cy="79.4" r="2.25"/><circle cx="439.6" cy="81.5" r="2.25"/><circle cx="458.1" cy="78.7" r="2.25"/><circle cx="464.2" cy="76.5" r="2.25"/><circle cx="466.8" cy="76.5" r="2.25"/><circle cx="474.1" cy="78.7" r="2.25"/><circle cx="476.3" cy="83.7" r="2.25"/><circle cx="463.1" cy="84.2" r="2.25"/><circle cx="468.6" cy="86.4" r="2.25"/><circle cx="488.3" cy="86.4" r="2.25"/><circle cx="493.8" cy="89.7" r="2.25"/><circle cx="482.9" cy="96.9" r="2.25"/><circle cx="428" cy="82.4" r="2.25"/><circle cx="426.9" cy="86.4" r="2.25"/><circle cx="432.4" cy="86.4" r="2.25"/><circle cx="418.2" cy="88.6" r="2.25"/><circle cx="421.4" cy="96.2" r="2.25"/><circle cx="439" cy="162.2" r="2.25"/><circle cx="464.6" cy="155.2" r="2.25"/><circle cx="490.1" cy="144.2" r="2.25"/><circle cx="491.6" cy="140.9" r="2.25"/><circle cx="501.5" cy="133.7" r="2.25"/><circle cx="493.8" cy="132.1" r="2.25"/><circle cx="502.6" cy="126.7" r="2.25"/><circle cx="504.8" cy="124.9" r="2.25"/><circle cx="503" cy="123.4" r="2.25"/><circle cx="474.1" cy="132.1" r="2.25"/><circle cx="467.5" cy="131.1" r="2.25"/><circle cx="478.5" cy="125.6" r="2.25"/><circle cx="482.9" cy="123.4" r="2.25"/><circle cx="488.3" cy="123.4" r="2.25"/><circle cx="489" cy="119" r="2.25"/><circle cx="489" cy="114.6" r="2.25"/><circle cx="488.3" cy="110.9" r="2.25"/><circle cx="476.3" cy="119.6" r="2.25"/><circle cx="497.1" cy="109.6" r="2.25"/><circle cx="497.1" cy="105.2" r="2.25"/><circle cx="491.6" cy="105.8" r="2.25"/><circle cx="458.7" cy="124.9" r="2.25"/><circle cx="463.1" cy="122.3" r="2.25"/><circle cx="466" cy="117.5" r="2.25"/><circle cx="444.5" cy="125.6" r="2.25"/><circle cx="441.8" cy="123.4" r="2.25"/><circle cx="450" cy="120.1" r="2.25"/><circle cx="443.4" cy="116.8" r="2.25"/><circle cx="434.6" cy="118.3" r="2.25"/><circle cx="427.4" cy="120.5" r="2.25"/><circle cx="422.5" cy="113.5" r="2.25"/><circle cx="419.9" cy="110.2" r="2.25"/><circle cx="429.1" cy="112.4" r="2.25"/><circle cx="451.5" cy="113.5" r="2.25"/><circle cx="457.6" cy="115.7" r="2.25"/><circle cx="493.8" cy="89.4" r="2.25"/><circle cx="488.3" cy="89" r="2.25"/><circle cx="482.9" cy="96" r="2.25"/></g>
<rect x="304.5" y="14.2" width="214" height="160.15" fill="none" stroke="#8a8a8a" stroke-width="1.25"/>
<line x1="308.5" y1="174.35" x2="308.5" y2="178.35" stroke="#8a8a8a" stroke-width="0.9"/>
<text x="308.5" y="189" text-anchor="middle" font-size="8.5" font-family='"Liberation Serif", serif' font-weight="bold" fill="#000">-6</text>
<line x1="345.3" y1="174.35" x2="345.3" y2="178.35" stroke="#8a8a8a" stroke-width="0.9"/>
<text x="345.3" y="189" text-anchor="middle" font-size="8.5" font-family='"Liberation Serif", serif' font-weight="bold" fill="#000">-4</text>
<line x1="382.1" y1="174.35" x2="382.1" y2="178.35" stroke="#8a8a8a" stroke-width="0.9"/>
<text x="382.1" y="189" text-anchor="middle" font-size="8.5" font-family='"Liberation Serif", serif' font-weight="bold" fill="#000">-2</text>
<line x1="418.9" y1="174.35" x2="418.9" y2="178.35" stroke="#8a8a8a" stroke-width="0.9"/>
<text x="418.9" y="189" text-anchor="middle" font-size="8.5" font-family='"Liberation Serif", serif' font-weight="bold" fill="#000">0</text>
<line x1="455.7" y1="174.35" x2="455.7" y2="178.35" stroke="#8a8a8a" stroke-width="0.9"/>
<text x="455.7" y="189" text-anchor="middle" font-size="8.5" font-family='"Liberation Serif", serif' font-weight="bold" fill="#000">2</text>
<line x1="492.5" y1="174.35" x2="492.5" y2="178.35" stroke="#8a8a8a" stroke-width="0.9"/>
<text x="492.5" y="189" text-anchor="middle" font-size="8.5" font-family='"Liberation Serif", serif' font-weight="bold" fill="#000">4</text>
<line x1="304.5" y1="33.34" x2="300.5" y2="33.34" stroke="#8a8a8a" stroke-width="0.9"/>
<text transform="translate(294.3,33.34) rotate(-90)" text-anchor="middle" font-size="8.5" font-family='"Liberation Serif", serif' font-weight="bold" fill="#000">10</text>
<line x1="304.5" y1="67.12" x2="300.5" y2="67.12" stroke="#8a8a8a" stroke-width="0.9"/>
<text transform="translate(294.3,67.12) rotate(-90)" text-anchor="middle" font-size="8.5" font-family='"Liberation Serif", serif' font-weight="bold" fill="#000">5</text>
<line x1="304.5" y1="100.9" x2="300.5" y2="100.9" stroke="#8a8a8a" stroke-width="0.9"/>
<text transform="translate(294.3,100.9) rotate(-90)" text-anchor="middle" font-size="8.5" font-family='"Liberation Serif", serif' font-weight="bold" fill="#000">0</text>
<line x1="304.5" y1="134.68" x2="300.5" y2="134.68" stroke="#8a8a8a" stroke-width="0.9"/>
<text transform="translate(294.3,134.68) rotate(-90)" text-anchor="middle" font-size="8.5" font-family='"Liberation Serif", serif' font-weight="bold" fill="#000">-5</text>
<line x1="304.5" y1="168.46" x2="300.5" y2="168.46" stroke="#8a8a8a" stroke-width="0.9"/>
<text transform="translate(294.3,168.46) rotate(-90)" text-anchor="middle" font-size="8.5" font-family='"Liberation Serif", serif' font-weight="bold" fill="#000">-10</text>
<g fill="#0a0ac8"><circle cx="315.7" cy="22.8" r="2.1"/></g>
<g fill="#b81010"><circle cx="315.7" cy="31.3" r="2.1"/></g>
<text x="324.9" y="25.5" text-anchor="start" font-size="7.4" font-family='"Liberation Serif", serif' font-weight="bold" fill="#000">HC (n = 186)</text>
<text x="324.9" y="34" text-anchor="start" font-size="7.4" font-family='"Liberation Serif", serif' font-weight="bold" fill="#000">AML (n = 171)</text>
<text x="419.8" y="6.4" text-anchor="middle" font-size="8.6" font-family='"Liberation Serif", serif' font-weight="bold" fill="#000">Validation set</text>
<text x="407.5" y="202" text-anchor="middle" font-size="8.7" font-family='"Liberation Serif", serif' font-weight="bold" fill="#000">t[1]P</text>
<text transform="translate(278.2,98) rotate(-90)" text-anchor="middle" font-size="8.7" font-family='"Liberation Serif", serif' font-weight="bold" fill="#000">t[2]O</text>
<text x="271" y="9.3" text-anchor="start" font-size="11.3" font-family='"Liberation Sans", sans-serif' font-weight="bold" fill="#000">B</text>
<g><circle cx="146.82" cy="290.18" r="1.6" fill="none" stroke="#5a5a5a" stroke-width="0.65"/><path d="M176.18 273.6L178.74 276.16M176.18 276.16L178.74 273.6" stroke="#5a5a6a" stroke-width="0.75"/><path d="M167.94 276.33H171.14M169.54 274.73V277.93M168.34 275.13L170.74 277.53M168.34 277.53L170.74 275.13" stroke="#98d864" stroke-width="0.75"/><path d="M208.2 302L209.8 303.6L208.2 305.2L206.6 303.6Z" fill="#a2de6c" fill-opacity="0.5" stroke="#a2de6c" stroke-width="0.7"/><circle cx="134.46" cy="288.34" r="1.6" fill="none" stroke="#5a5a5a" stroke-width="0.65"/><path d="M165.04 294.22L166.64 295.82L165.04 297.42L163.44 295.82Z" fill="#a2de6c" fill-opacity="0.5" stroke="#a2de6c" stroke-width="0.7"/><path d="M172.78 291.42H175.98M174.38 289.82V293.02M173.18 290.22L175.58 292.62M173.18 292.62L175.58 290.22" stroke="#98d864" stroke-width="0.75"/><path d="M147.83 300.6L149.43 303.48L146.23 303.48Z" fill="none" stroke="#666666" stroke-width="0.65"/><path d="M182.11 284.99H185.31M183.71 283.39V286.59M182.51 283.79L184.91 286.19M182.51 286.19L184.91 283.79" stroke="#98d864" stroke-width="0.75"/><circle cx="111.5" cy="281.5" r="1.6" fill="none" stroke="#5a5a5a" stroke-width="0.65"/><path d="M138.1 281.71L140.66 284.27M138.1 284.27L140.66 281.71" stroke="#5a5a6a" stroke-width="0.75"/><path d="M121.04 295.51L122.64 297.11L121.04 298.71L119.44 297.11Z" fill="none" stroke="#6a6a6a" stroke-width="0.65"/><path d="M167.69 300.44L169.29 302.04L167.69 303.64L166.09 302.04Z" fill="#a2de6c" fill-opacity="0.5" stroke="#a2de6c" stroke-width="0.7"/><path d="M158.1 299.41L160.66 301.97M158.1 301.97L160.66 299.41" stroke="#5a5a6a" stroke-width="0.75"/><circle cx="158.75" cy="286.06" r="1.6" fill="none" stroke="#5a5a5a" stroke-width="0.65"/><path d="M171.59 282.03H174.79M173.19 280.43V283.63M171.99 280.83L174.39 283.23M171.99 283.23L174.39 280.83" stroke="#98d864" stroke-width="0.75"/><path d="M146.2 297.48h2.56v2.56h-2.56ZM146.2 297.48L148.76 300.04M146.2 300.04L148.76 297.48" fill="#9072d0" fill-opacity="0.3" stroke="#9072d0" stroke-width="0.7"/><path d="M150.5 297.4h2.56v2.56h-2.56ZM150.5 297.4L153.06 299.96M150.5 299.96L153.06 297.4" fill="#9072d0" fill-opacity="0.3" stroke="#9072d0" stroke-width="0.7"/><path d="M178.96 276.76H182.16M180.56 275.16V278.36M179.36 275.56L181.76 277.96M179.36 277.96L181.76 275.56" stroke="#98d864" stroke-width="0.75"/><path d="M169.79 280.77L171.39 277.89L168.19 277.89Z" fill="none" stroke="#d86a8e" stroke-width="0.65"/><path d="M148.04 288.97h2.56v2.56h-2.56ZM148.04 288.97L150.6 291.53M148.04 291.53L150.6 288.97" fill="#9072d0" fill-opacity="0.3" stroke="#9072d0" stroke-width="0.7"/><path d="M174.68 280.65H177.88M176.28 279.05V282.25" stroke="#7860d8" stroke-width="0.75"/><path d="M167.96 299.35L169.56 296.47L166.36 296.47Z" fill="none" stroke="#d86a8e" stroke-width="0.65"/><path d="M144.89 304.49H148.09M146.49 302.89V306.09M145.29 303.29L147.69 305.69M145.29 305.69L147.69 303.29" stroke="#98d864" stroke-width="0.75"/><path d="M221.42 289.72h2.56v2.56h-2.56ZM221.42 289.72L223.98 292.28M221.42 292.28L223.98 289.72" fill="#9072d0" fill-opacity="0.3" stroke="#9072d0" stroke-width="0.7"/><circle cx="150" cy="256" r="1.6" fill="none" stroke="#5a5a5a" stroke-width="0.65"/><path d="M169.2 279.16L170.8 280.76L169.2 282.36L167.6 280.76Z" fill="#a2de6c" fill-opacity="0.5" stroke="#a2de6c" stroke-width="0.7"/><path d="M209 297.7L210.6 299.3L209 300.9L207.4 299.3Z" fill="#a2de6c" fill-opacity="0.5" stroke="#a2de6c" stroke-width="0.7"/><path d="M154.96 282.63h2.56v2.56h-2.56ZM154.96 282.63L157.52 285.19M154.96 285.19L157.52 282.63" fill="#9072d0" fill-opacity="0.3" stroke="#9072d0" stroke-width="0.7"/><path d="M139.77 290.04L141.37 291.64L139.77 293.24L138.17 291.64Z" fill="none" stroke="#6a6a6a" stroke-width="0.65"/><path d="M180.41 293.59L182.01 295.19L180.41 296.79L178.81 295.19Z" fill="#a2de6c" fill-opacity="0.5" stroke="#a2de6c" stroke-width="0.7"/><path d="M193.21 282.14L194.81 283.74L193.21 285.34L191.61 283.74Z" fill="#a2de6c" fill-opacity="0.5" stroke="#a2de6c" stroke-width="0.7"/><path d="M170.37 291.06L172.93 293.62M170.37 293.62L172.93 291.06" stroke="#5a5a6a" stroke-width="0.75"/><path d="M159.49 288.13H162.69M161.09 286.53V289.73M159.89 286.93L162.29 289.33M159.89 289.33L162.29 286.93" stroke="#98d864" stroke-width="0.75"/><path d="M169.2 285.66H172.4M170.8 284.06V287.26M169.6 284.46L172 286.86M169.6 286.86L172 284.46" stroke="#98d864" stroke-width="0.75"/><path d="M161.35 296.04H164.55M162.95 294.44V297.64M161.75 294.84L164.15 297.24M161.75 297.24L164.15 294.84" stroke="#98d864" stroke-width="0.75"/><path d="M134.23 292.78H137.43M135.83 291.18V294.38M134.63 291.58L137.03 293.98M134.63 293.98L137.03 291.58" stroke="#98d864" stroke-width="0.75"/><path d="M178.27 291.32h2.56v2.56h-2.56ZM178.27 291.32L180.83 293.88M178.27 293.88L180.83 291.32" fill="#9072d0" fill-opacity="0.3" stroke="#9072d0" stroke-width="0.7"/><path d="M192.94 296.88H196.14M194.54 295.28V298.48M193.34 295.68L195.74 298.08M193.34 298.08L195.74 295.68" stroke="#98d864" stroke-width="0.75"/><path d="M217.12 319.32h2.56v2.56h-2.56ZM217.12 319.32L219.68 321.88M217.12 321.88L219.68 319.32" fill="#9072d0" fill-opacity="0.3" stroke="#9072d0" stroke-width="0.7"/><path d="M161.11 265.44h2.56v2.56h-2.56ZM161.11 265.44L163.67 268M161.11 268L163.67 265.44" fill="#9072d0" fill-opacity="0.3" stroke="#9072d0" stroke-width="0.7"/><path d="M153.5 339H156.7M155.1 337.4V340.6" stroke="#7860d8" stroke-width="0.75"/><path d="M212.12 276.52h2.56v2.56h-2.56ZM212.12 276.52L214.68 279.08M212.12 279.08L214.68 276.52" fill="#9072d0" fill-opacity="0.3" stroke="#9072d0" stroke-width="0.7"/><path d="M161.08 284.16H164.28M162.68 282.56V285.76M161.48 282.96L163.88 285.36M161.48 285.36L163.88 282.96" stroke="#98d864" stroke-width="0.75"/><path d="M144.21 272.24h2.56v2.56h-2.56ZM144.21 272.24L146.77 274.8M144.21 274.8L146.77 272.24" fill="#9072d0" fill-opacity="0.3" stroke="#9072d0" stroke-width="0.7"/><path d="M153.56 298.39L155.16 299.99L153.56 301.59L151.96 299.99Z" fill="none" stroke="#6a6a6a" stroke-width="0.65"/><path d="M135.12 275.24L136.72 276.84L135.12 278.44L133.52 276.84Z" fill="#a2de6c" fill-opacity="0.5" stroke="#a2de6c" stroke-width="0.7"/><path d="M141.04 287.41L142.64 289.01L141.04 290.61L139.44 289.01Z" fill="#a2de6c" fill-opacity="0.5" stroke="#a2de6c" stroke-width="0.7"/><path d="M136.35 280.83h2.56v2.56h-2.56ZM136.35 280.83L138.91 283.39M136.35 283.39L138.91 280.83" fill="#9072d0" fill-opacity="0.3" stroke="#9072d0" stroke-width="0.7"/><path d="M218.1 308.8L219.7 310.4L218.1 312L216.5 310.4Z" fill="#a2de6c" fill-opacity="0.5" stroke="#a2de6c" stroke-width="0.7"/><path d="M169.98 294.18L171.58 295.78L169.98 297.38L168.38 295.78Z" fill="#a2de6c" fill-opacity="0.5" stroke="#a2de6c" stroke-width="0.7"/><path d="M154.39 279.81H157.59M155.99 278.21V281.41" stroke="#7860d8" stroke-width="0.75"/><path d="M153.11 295.04h2.56v2.56h-2.56ZM153.11 295.04L155.67 297.6M153.11 297.6L155.67 295.04" fill="#9072d0" fill-opacity="0.3" stroke="#9072d0" stroke-width="0.7"/><path d="M145.05 292.18H148.25M146.65 290.58V293.78" stroke="#7860d8" stroke-width="0.75"/><path d="M159.18 271.79h2.56v2.56h-2.56ZM159.18 271.79L161.74 274.35M159.18 274.35L161.74 271.79" fill="#9072d0" fill-opacity="0.3" stroke="#9072d0" stroke-width="0.7"/><path d="M172.2 254H175.4M173.8 252.4V255.6" stroke="#7860d8" stroke-width="0.75"/><path d="M191.62 298.72H194.82M193.22 297.12V300.32M192.02 297.52L194.42 299.92M192.02 299.92L194.42 297.52" stroke="#98d864" stroke-width="0.75"/><path d="M171.47 279.44h2.56v2.56h-2.56ZM171.47 279.44L174.03 282M171.47 282L174.03 279.44" fill="#9072d0" fill-opacity="0.3" stroke="#9072d0" stroke-width="0.7"/><path d="M152.29 300.28L153.89 297.4L150.69 297.4Z" fill="none" stroke="#d86a8e" stroke-width="0.65"/><path d="M150.21 299.36H153.41M151.81 297.76V300.96M150.61 298.16L153.01 300.56M150.61 300.56L153.01 298.16" stroke="#98d864" stroke-width="0.75"/><path d="M186.88 284.77h2.56v2.56h-2.56ZM186.88 284.77L189.44 287.33M186.88 287.33L189.44 284.77" fill="#9072d0" fill-opacity="0.3" stroke="#9072d0" stroke-width="0.7"/><path d="M155.72 308.47H158.92M157.32 306.87V310.07M156.12 307.27L158.52 309.67M156.12 309.67L158.52 307.27" stroke="#98d864" stroke-width="0.75"/><path d="M149.2 279.34h2.56v2.56h-2.56ZM149.2 279.34L151.76 281.9M149.2 281.9L151.76 279.34" fill="#9072d0" fill-opacity="0.3" stroke="#9072d0" stroke-width="0.7"/><path d="M157.89 296.85h2.56v2.56h-2.56ZM157.89 296.85L160.45 299.41M157.89 299.41L160.45 296.85" fill="#9072d0" fill-opacity="0.3" stroke="#9072d0" stroke-width="0.7"/><path d="M144.33 292.55L145.93 289.67L142.73 289.67Z" fill="none" stroke="#d86a8e" stroke-width="0.65"/><path d="M155.09 276.64L157.65 279.2M155.09 279.2L157.65 276.64" stroke="#5a5a6a" stroke-width="0.75"/><path d="M154.35 297.36H157.55M155.95 295.76V298.96M154.75 296.16L157.15 298.56M154.75 298.56L157.15 296.16" stroke="#98d864" stroke-width="0.75"/><path d="M180.75 277.69H183.95M182.35 276.09V279.29M181.15 276.49L183.55 278.89M181.15 278.89L183.55 276.49" stroke="#98d864" stroke-width="0.75"/><path d="M202.24 286.45H205.44M203.84 284.85V288.05" stroke="#7860d8" stroke-width="0.75"/><path d="M133.89 284.96H137.09M135.49 283.36V286.56" stroke="#7860d8" stroke-width="0.75"/><path d="M141.53 273.95L143.13 275.55L141.53 277.15L139.93 275.55Z" fill="none" stroke="#6a6a6a" stroke-width="0.65"/><path d="M149.26 295.93L150.86 293.05L147.66 293.05Z" fill="none" stroke="#d86a8e" stroke-width="0.65"/><path d="M183.67 281.05L185.27 278.17L182.07 278.17Z" fill="none" stroke="#d86a8e" stroke-width="0.65"/><path d="M155.27 288.99H158.47M156.87 287.39V290.59" stroke="#7860d8" stroke-width="0.75"/><path d="M166.67 299.39h2.56v2.56h-2.56ZM166.67 299.39L169.23 301.95M166.67 301.95L169.23 299.39" fill="#9072d0" fill-opacity="0.3" stroke="#9072d0" stroke-width="0.7"/><path d="M148.55 278.28h2.56v2.56h-2.56ZM148.55 278.28L151.11 280.84M148.55 280.84L151.11 278.28" fill="#9072d0" fill-opacity="0.3" stroke="#9072d0" stroke-width="0.7"/><circle cx="159.87" cy="282.24" r="1.6" fill="none" stroke="#5a5a5a" stroke-width="0.65"/><path d="M159.07 304.04L160.67 301.16L157.47 301.16Z" fill="none" stroke="#d86a8e" stroke-width="0.65"/><path d="M163.73 272.88L165.33 274.48L163.73 276.08L162.13 274.48Z" fill="#a2de6c" fill-opacity="0.5" stroke="#a2de6c" stroke-width="0.7"/><path d="M180.82 278.84H184.02M182.42 277.24V280.44M181.22 277.64L183.62 280.04M181.22 280.04L183.62 277.64" stroke="#98d864" stroke-width="0.75"/><path d="M175.55 295.08L177.15 296.68L175.55 298.28L173.95 296.68Z" fill="#a2de6c" fill-opacity="0.5" stroke="#a2de6c" stroke-width="0.7"/><circle cx="123.29" cy="271.05" r="1.6" fill="none" stroke="#5a5a5a" stroke-width="0.65"/><path d="M158.89 292.01H162.09M160.49 290.41V293.61" stroke="#7860d8" stroke-width="0.75"/><path d="M196.5 309.7L198.1 311.3L196.5 312.9L194.9 311.3Z" fill="#a2de6c" fill-opacity="0.5" stroke="#a2de6c" stroke-width="0.7"/><path d="M165.36 283.14H168.56M166.96 281.54V284.74M165.76 281.94L168.16 284.34M165.76 284.34L168.16 281.94" stroke="#98d864" stroke-width="0.75"/><path d="M186.71 291.95L188.31 293.55L186.71 295.15L185.11 293.55Z" fill="#a2de6c" fill-opacity="0.5" stroke="#a2de6c" stroke-width="0.7"/><path d="M170.8 307.02h2.56v2.56h-2.56ZM170.8 307.02L173.36 309.58M170.8 309.58L173.36 307.02" fill="#9072d0" fill-opacity="0.3" stroke="#9072d0" stroke-width="0.7"/><path d="M181.43 291.94H184.63M183.03 290.34V293.54" stroke="#7860d8" stroke-width="0.75"/><path d="M160.02 285.06H163.22M161.62 283.46V286.66M160.42 283.86L162.82 286.26M160.42 286.26L162.82 283.86" stroke="#98d864" stroke-width="0.75"/><path d="M141.31 289.32L142.91 292.2L139.71 292.2Z" fill="none" stroke="#666666" stroke-width="0.65"/><path d="M171.86 304.78L173.46 306.38L171.86 307.98L170.26 306.38Z" fill="#a2de6c" fill-opacity="0.5" stroke="#a2de6c" stroke-width="0.7"/><path d="M151.93 287.28h2.56v2.56h-2.56ZM151.93 287.28L154.49 289.84M151.93 289.84L154.49 287.28" fill="#9072d0" fill-opacity="0.3" stroke="#9072d0" stroke-width="0.7"/><path d="M154.25 286.75L156.81 289.31M154.25 289.31L156.81 286.75" stroke="#5a5a6a" stroke-width="0.75"/><path d="M164.21 290.22L165.81 291.82L164.21 293.42L162.61 291.82Z" fill="#a2de6c" fill-opacity="0.5" stroke="#a2de6c" stroke-width="0.7"/><circle cx="127.94" cy="285.46" r="1.6" fill="none" stroke="#5a5a5a" stroke-width="0.65"/><path d="M149 257.24L150.6 260.12L147.4 260.12Z" fill="none" stroke="#666666" stroke-width="0.65"/><circle cx="163" cy="313.4" r="1.6" fill="none" stroke="#5a5a5a" stroke-width="0.65"/><path d="M172.1 275.02H175.3M173.7 273.42V276.62M172.5 273.82L174.9 276.22M172.5 276.22L174.9 273.82" stroke="#98d864" stroke-width="0.75"/><path d="M176.34 286.29H179.54M177.94 284.69V287.89M176.74 285.09L179.14 287.49M176.74 287.49L179.14 285.09" stroke="#98d864" stroke-width="0.75"/><path d="M152.54 291.93L155.1 294.49M152.54 294.49L155.1 291.93" stroke="#5a5a6a" stroke-width="0.75"/><path d="M150.37 300.76L151.97 302.36L150.37 303.96L148.77 302.36Z" fill="none" stroke="#6a6a6a" stroke-width="0.65"/><path d="M123.93 290.77L125.53 292.37L123.93 293.97L122.33 292.37Z" fill="none" stroke="#6a6a6a" stroke-width="0.65"/><path d="M151.53 274.26L153.13 275.86L151.53 277.46L149.93 275.86Z" fill="none" stroke="#6a6a6a" stroke-width="0.65"/><path d="M158.08 276.01h2.56v2.56h-2.56ZM158.08 276.01L160.64 278.57M158.08 278.57L160.64 276.01" fill="#9072d0" fill-opacity="0.3" stroke="#9072d0" stroke-width="0.7"/><path d="M129.43 297.03h2.56v2.56h-2.56ZM129.43 297.03L131.99 299.59M129.43 299.59L131.99 297.03" fill="#9072d0" fill-opacity="0.3" stroke="#9072d0" stroke-width="0.7"/><path d="M115.36 291.17L116.96 292.77L115.36 294.37L113.76 292.77Z" fill="none" stroke="#6a6a6a" stroke-width="0.65"/><circle cx="160.14" cy="291.06" r="1.6" fill="none" stroke="#5a5a5a" stroke-width="0.65"/><path d="M155.15 269.32h2.56v2.56h-2.56ZM155.15 269.32L157.71 271.88M155.15 271.88L157.71 269.32" fill="#9072d0" fill-opacity="0.3" stroke="#9072d0" stroke-width="0.7"/><path d="M124.18 277.92L125.78 280.8L122.58 280.8Z" fill="none" stroke="#666666" stroke-width="0.65"/><path d="M97.5 289.9L99.1 291.5L97.5 293.1L95.9 291.5Z" fill="none" stroke="#6a6a6a" stroke-width="0.65"/><path d="M158.35 281.89H161.55M159.95 280.29V283.49" stroke="#7860d8" stroke-width="0.75"/><path d="M176.93 291.78H180.13M178.53 290.18V293.38M177.33 290.58L179.73 292.98M177.33 292.98L179.73 290.58" stroke="#98d864" stroke-width="0.75"/><path d="M169.22 288.83L170.82 290.43L169.22 292.03L167.62 290.43Z" fill="#a2de6c" fill-opacity="0.5" stroke="#a2de6c" stroke-width="0.7"/><path d="M229.22 292.52h2.56v2.56h-2.56ZM229.22 292.52L231.78 295.08M229.22 295.08L231.78 292.52" fill="#9072d0" fill-opacity="0.3" stroke="#9072d0" stroke-width="0.7"/><circle cx="62.3" cy="287.1" r="1.6" fill="none" stroke="#5a5a5a" stroke-width="0.65"/><path d="M149.36 282.56H152.56M150.96 280.96V284.16M149.76 281.36L152.16 283.76M149.76 283.76L152.16 281.36" stroke="#98d864" stroke-width="0.75"/><path d="M165.13 278.2h2.56v2.56h-2.56ZM165.13 278.2L167.69 280.76M165.13 280.76L167.69 278.2" fill="#9072d0" fill-opacity="0.3" stroke="#9072d0" stroke-width="0.7"/><path d="M135.64 292.9L137.24 295.78L134.04 295.78Z" fill="none" stroke="#666666" stroke-width="0.65"/><path d="M170.55 290.92H173.75M172.15 289.32V292.52M170.95 289.72L173.35 292.12M170.95 292.12L173.35 289.72" stroke="#98d864" stroke-width="0.75"/><path d="M159.6 285.75L161.2 287.35L159.6 288.95L158 287.35Z" fill="none" stroke="#6a6a6a" stroke-width="0.65"/><path d="M213.4 265.7L215 267.3L213.4 268.9L211.8 267.3Z" fill="#a2de6c" fill-opacity="0.5" stroke="#a2de6c" stroke-width="0.7"/><path d="M155.91 279.03h2.56v2.56h-2.56ZM155.91 279.03L158.47 281.59M155.91 281.59L158.47 279.03" fill="#9072d0" fill-opacity="0.3" stroke="#9072d0" stroke-width="0.7"/><path d="M173.99 295.13L175.59 296.73L173.99 298.33L172.39 296.73Z" fill="#a2de6c" fill-opacity="0.5" stroke="#a2de6c" stroke-width="0.7"/><path d="M181.84 272.7h2.56v2.56h-2.56ZM181.84 272.7L184.4 275.26M181.84 275.26L184.4 272.7" fill="#9072d0" fill-opacity="0.3" stroke="#9072d0" stroke-width="0.7"/><path d="M200.06 281.02L201.66 282.62L200.06 284.22L198.46 282.62Z" fill="#a2de6c" fill-opacity="0.5" stroke="#a2de6c" stroke-width="0.7"/><path d="M186.16 307.31H189.36M187.76 305.71V308.91M186.56 306.11L188.96 308.51M186.56 308.51L188.96 306.11" stroke="#98d864" stroke-width="0.75"/><path d="M168.48 277.46L170.08 279.06L168.48 280.66L166.88 279.06Z" fill="#a2de6c" fill-opacity="0.5" stroke="#a2de6c" stroke-width="0.7"/><path d="M165.7 303.87H168.9M167.3 302.27V305.47" stroke="#7860d8" stroke-width="0.75"/><path d="M156.58 275.23L158.18 276.83L156.58 278.43L154.98 276.83Z" fill="#a2de6c" fill-opacity="0.5" stroke="#a2de6c" stroke-width="0.7"/><path d="M166.4 249H169.6M168 247.4V250.6" stroke="#7860d8" stroke-width="0.75"/><path d="M149.85 290.21H153.05M151.45 288.61V291.81M150.25 289.01L152.65 291.41M150.25 291.41L152.65 289.01" stroke="#98d864" stroke-width="0.75"/><path d="M164.93 293.39h2.56v2.56h-2.56ZM164.93 293.39L167.49 295.95M164.93 295.95L167.49 293.39" fill="#9072d0" fill-opacity="0.3" stroke="#9072d0" stroke-width="0.7"/><path d="M124.74 265.15L126.34 266.75L124.74 268.35L123.14 266.75Z" fill="none" stroke="#6a6a6a" stroke-width="0.65"/><path d="M113.8 274L115.4 275.6L113.8 277.2L112.2 275.6Z" fill="none" stroke="#6a6a6a" stroke-width="0.65"/><path d="M174.93 302.11h2.56v2.56h-2.56ZM174.93 302.11L177.49 304.67M174.93 304.67L177.49 302.11" fill="#9072d0" fill-opacity="0.3" stroke="#9072d0" stroke-width="0.7"/><path d="M174.32 288.72L175.92 290.32L174.32 291.92L172.72 290.32Z" fill="#a2de6c" fill-opacity="0.5" stroke="#a2de6c" stroke-width="0.7"/><circle cx="140.93" cy="279.17" r="1.6" fill="none" stroke="#5a5a5a" stroke-width="0.65"/><path d="M241 287.8L242.6 289.4L241 291L239.4 289.4Z" fill="#a2de6c" fill-opacity="0.5" stroke="#a2de6c" stroke-width="0.7"/><path d="M192.2 293.38L193.8 294.98L192.2 296.58L190.6 294.98Z" fill="#a2de6c" fill-opacity="0.5" stroke="#a2de6c" stroke-width="0.7"/><path d="M146.69 282.87L148.29 284.47L146.69 286.07L145.09 284.47Z" fill="#a2de6c" fill-opacity="0.5" stroke="#a2de6c" stroke-width="0.7"/><path d="M169.13 283.82L170.73 285.42L169.13 287.02L167.53 285.42Z" fill="#a2de6c" fill-opacity="0.5" stroke="#a2de6c" stroke-width="0.7"/><circle cx="104.6" cy="281.5" r="1.6" fill="none" stroke="#5a5a5a" stroke-width="0.65"/><circle cx="156.97" cy="285.76" r="1.6" fill="none" stroke="#5a5a5a" stroke-width="0.65"/><path d="M167.89 287h2.56v2.56h-2.56ZM167.89 287L170.45 289.56M167.89 289.56L170.45 287" fill="#9072d0" fill-opacity="0.3" stroke="#9072d0" stroke-width="0.7"/><path d="M147.92 307.92L149.52 309.52L147.92 311.12L146.32 309.52Z" fill="none" stroke="#6a6a6a" stroke-width="0.65"/><circle cx="133" cy="276.12" r="1.6" fill="none" stroke="#5a5a5a" stroke-width="0.65"/><path d="M162.05 286.22H165.25M163.65 284.62V287.82" stroke="#7860d8" stroke-width="0.75"/><path d="M191.15 287.82L192.75 289.42L191.15 291.02L189.55 289.42Z" fill="#a2de6c" fill-opacity="0.5" stroke="#a2de6c" stroke-width="0.7"/><path d="M93.32 295.02h2.56v2.56h-2.56ZM93.32 295.02L95.88 297.58M93.32 297.58L95.88 295.02" fill="#9072d0" fill-opacity="0.3" stroke="#9072d0" stroke-width="0.7"/><path d="M118.3 288.45L119.9 285.57L116.7 285.57Z" fill="none" stroke="#d86a8e" stroke-width="0.65"/><path d="M154.15 264.58L155.75 266.18L154.15 267.78L152.55 266.18Z" fill="none" stroke="#6a6a6a" stroke-width="0.65"/><circle cx="110.47" cy="287.33" r="1.6" fill="none" stroke="#5a5a5a" stroke-width="0.65"/><path d="M160.84 307.38h2.56v2.56h-2.56ZM160.84 307.38L163.4 309.94M160.84 309.94L163.4 307.38" fill="#9072d0" fill-opacity="0.3" stroke="#9072d0" stroke-width="0.7"/><path d="M157.43 294.98H160.63M159.03 293.38V296.58M157.83 293.78L160.23 296.18M157.83 296.18L160.23 293.78" stroke="#98d864" stroke-width="0.75"/><path d="M239 300.2L240.6 301.8L239 303.4L237.4 301.8Z" fill="#a2de6c" fill-opacity="0.5" stroke="#a2de6c" stroke-width="0.7"/><path d="M194.36 286.58h2.56v2.56h-2.56ZM194.36 286.58L196.92 289.14M194.36 289.14L196.92 286.58" fill="#9072d0" fill-opacity="0.3" stroke="#9072d0" stroke-width="0.7"/><path d="M176.97 287.07H180.17M178.57 285.47V288.67" stroke="#7860d8" stroke-width="0.75"/><path d="M151.04 276.16h2.56v2.56h-2.56ZM151.04 276.16L153.6 278.72M151.04 278.72L153.6 276.16" fill="#9072d0" fill-opacity="0.3" stroke="#9072d0" stroke-width="0.7"/><path d="M149.08 289.64L150.68 291.24L149.08 292.84L147.48 291.24Z" fill="#a2de6c" fill-opacity="0.5" stroke="#a2de6c" stroke-width="0.7"/><path d="M154.76 291.3L156.36 288.42L153.16 288.42Z" fill="none" stroke="#d86a8e" stroke-width="0.65"/><path d="M167.58 264.88L169.18 266.48L167.58 268.08L165.98 266.48Z" fill="#a2de6c" fill-opacity="0.5" stroke="#a2de6c" stroke-width="0.7"/><path d="M125.4 305.76L127 302.88L123.8 302.88Z" fill="none" stroke="#d86a8e" stroke-width="0.65"/><circle cx="105.2" cy="314.6" r="1.6" fill="none" stroke="#5a5a5a" stroke-width="0.65"/><path d="M177.99 303.56L179.59 300.68L176.39 300.68Z" fill="none" stroke="#d86a8e" stroke-width="0.65"/><path d="M162.19 279.56L163.79 281.16L162.19 282.76L160.59 281.16Z" fill="#a2de6c" fill-opacity="0.5" stroke="#a2de6c" stroke-width="0.7"/><path d="M165.8 237.6L167.4 239.2L165.8 240.8L164.2 239.2Z" fill="#a2de6c" fill-opacity="0.5" stroke="#a2de6c" stroke-width="0.7"/><path d="M211.52 255.62h2.56v2.56h-2.56ZM211.52 255.62L214.08 258.18M211.52 258.18L214.08 255.62" fill="#9072d0" fill-opacity="0.3" stroke="#9072d0" stroke-width="0.7"/><path d="M116.47 269.08L118.07 270.68L116.47 272.28L114.87 270.68Z" fill="none" stroke="#6a6a6a" stroke-width="0.65"/><path d="M156.07 272.25h2.56v2.56h-2.56ZM156.07 272.25L158.63 274.81M156.07 274.81L158.63 272.25" fill="#9072d0" fill-opacity="0.3" stroke="#9072d0" stroke-width="0.7"/><path d="M183.43 276.93h2.56v2.56h-2.56ZM183.43 276.93L185.99 279.49M183.43 279.49L185.99 276.93" fill="#9072d0" fill-opacity="0.3" stroke="#9072d0" stroke-width="0.7"/><path d="M174.96 293.11h2.56v2.56h-2.56ZM174.96 293.11L177.52 295.67M174.96 295.67L177.52 293.11" fill="#9072d0" fill-opacity="0.3" stroke="#9072d0" stroke-width="0.7"/><circle cx="137.28" cy="294.69" r="1.6" fill="none" stroke="#5a5a5a" stroke-width="0.65"/><path d="M201.6 293.8H204.8M203.2 292.2V295.4M202 292.6L204.4 295M202 295L204.4 292.6" stroke="#98d864" stroke-width="0.75"/><path d="M179.42 297.81H182.62M181.02 296.21V299.41M179.82 296.61L182.22 299.01M179.82 299.01L182.22 296.61" stroke="#98d864" stroke-width="0.75"/><path d="M101.3 304.86L102.9 301.98L99.7 301.98Z" fill="none" stroke="#d86a8e" stroke-width="0.65"/><path d="M189.6 316.66L191.2 313.78L188 313.78Z" fill="none" stroke="#d86a8e" stroke-width="0.65"/><path d="M153.77 292.1h2.56v2.56h-2.56ZM153.77 292.1L156.33 294.66M153.77 294.66L156.33 292.1" fill="#9072d0" fill-opacity="0.3" stroke="#9072d0" stroke-width="0.7"/><path d="M166.38 293.57L167.98 295.17L166.38 296.77L164.78 295.17Z" fill="#a2de6c" fill-opacity="0.5" stroke="#a2de6c" stroke-width="0.7"/><path d="M136.17 285.19H139.37M137.77 283.59V286.79M136.57 283.99L138.97 286.39M136.57 286.39L138.97 283.99" stroke="#98d864" stroke-width="0.75"/><path d="M144.51 281.82H147.71M146.11 280.22V283.42M144.91 280.62L147.31 283.02M144.91 283.02L147.31 280.62" stroke="#98d864" stroke-width="0.75"/><path d="M162.5 300.23H165.7M164.1 298.63V301.83" stroke="#7860d8" stroke-width="0.75"/><path d="M182.18 304L183.78 305.6L182.18 307.2L180.58 305.6Z" fill="#a2de6c" fill-opacity="0.5" stroke="#a2de6c" stroke-width="0.7"/><path d="M161.2 293.32L162.8 290.44L159.6 290.44Z" fill="none" stroke="#d86a8e" stroke-width="0.65"/><path d="M162.85 293.16h2.56v2.56h-2.56ZM162.85 293.16L165.41 295.72M162.85 295.72L165.41 293.16" fill="#9072d0" fill-opacity="0.3" stroke="#9072d0" stroke-width="0.7"/><path d="M171.7 254.5H174.9M173.3 252.9V256.1" stroke="#7860d8" stroke-width="0.75"/><path d="M167.8 276.49L169.4 278.09L167.8 279.69L166.2 278.09Z" fill="#a2de6c" fill-opacity="0.5" stroke="#a2de6c" stroke-width="0.7"/><circle cx="61" cy="292.1" r="1.6" fill="none" stroke="#5a5a5a" stroke-width="0.65"/><path d="M134.71 273.58L136.31 275.18L134.71 276.78L133.11 275.18Z" fill="none" stroke="#6a6a6a" stroke-width="0.65"/><path d="M164.56 292.3h2.56v2.56h-2.56ZM164.56 292.3L167.12 294.86M164.56 294.86L167.12 292.3" fill="#9072d0" fill-opacity="0.3" stroke="#9072d0" stroke-width="0.7"/><path d="M189.94 288.47L191.54 290.07L189.94 291.67L188.34 290.07Z" fill="#a2de6c" fill-opacity="0.5" stroke="#a2de6c" stroke-width="0.7"/><path d="M153.09 298.09H156.29M154.69 296.49V299.69M153.49 296.89L155.89 299.29M153.49 299.29L155.89 296.89" stroke="#98d864" stroke-width="0.75"/><path d="M174.84 290.65L176.44 292.25L174.84 293.85L173.24 292.25Z" fill="#a2de6c" fill-opacity="0.5" stroke="#a2de6c" stroke-width="0.7"/><path d="M183.86 289.68L185.46 291.28L183.86 292.88L182.26 291.28Z" fill="#a2de6c" fill-opacity="0.5" stroke="#a2de6c" stroke-width="0.7"/><path d="M168.7 285.83L170.3 287.43L168.7 289.03L167.1 287.43Z" fill="#a2de6c" fill-opacity="0.5" stroke="#a2de6c" stroke-width="0.7"/><path d="M166.3 288.88L167.9 290.48L166.3 292.08L164.7 290.48Z" fill="#a2de6c" fill-opacity="0.5" stroke="#a2de6c" stroke-width="0.7"/><path d="M125.1 306.46L126.7 303.58L123.5 303.58Z" fill="none" stroke="#d86a8e" stroke-width="0.65"/><path d="M192.74 285.6L194.34 287.2L192.74 288.8L191.14 287.2Z" fill="#a2de6c" fill-opacity="0.5" stroke="#a2de6c" stroke-width="0.7"/><path d="M149.15 273.25h2.56v2.56h-2.56ZM149.15 273.25L151.71 275.81M149.15 275.81L151.71 273.25" fill="#9072d0" fill-opacity="0.3" stroke="#9072d0" stroke-width="0.7"/><circle cx="151.05" cy="294.11" r="1.6" fill="none" stroke="#5a5a5a" stroke-width="0.65"/><path d="M173.01 300.19h2.56v2.56h-2.56ZM173.01 300.19L175.57 302.75M173.01 302.75L175.57 300.19" fill="#9072d0" fill-opacity="0.3" stroke="#9072d0" stroke-width="0.7"/><path d="M159.11 286.15L160.71 289.03L157.51 289.03Z" fill="none" stroke="#666666" stroke-width="0.65"/><path d="M136.31 294.71H139.51M137.91 293.11V296.31" stroke="#7860d8" stroke-width="0.75"/><circle cx="113.8" cy="270" r="1.6" fill="none" stroke="#5a5a5a" stroke-width="0.65"/><path d="M158.48 287.24L161.04 289.8M158.48 289.8L161.04 287.24" stroke="#5a5a6a" stroke-width="0.75"/><circle cx="122.4" cy="277.91" r="1.6" fill="none" stroke="#5a5a5a" stroke-width="0.65"/><path d="M145.86 277.75L147.46 274.87L144.26 274.87Z" fill="none" stroke="#d86a8e" stroke-width="0.65"/><path d="M164.6 264.76h2.56v2.56h-2.56ZM164.6 264.76L167.16 267.32M164.6 267.32L167.16 264.76" fill="#9072d0" fill-opacity="0.3" stroke="#9072d0" stroke-width="0.7"/><path d="M167.83 293.53h2.56v2.56h-2.56ZM167.83 293.53L170.39 296.09M167.83 296.09L170.39 293.53" fill="#9072d0" fill-opacity="0.3" stroke="#9072d0" stroke-width="0.7"/><path d="M196.7 310L198.3 311.6L196.7 313.2L195.1 311.6Z" fill="#a2de6c" fill-opacity="0.5" stroke="#a2de6c" stroke-width="0.7"/><circle cx="86" cy="311.2" r="1.6" fill="none" stroke="#5a5a5a" stroke-width="0.65"/><path d="M201.49 274.29L203.09 275.89L201.49 277.49L199.89 275.89Z" fill="#a2de6c" fill-opacity="0.5" stroke="#a2de6c" stroke-width="0.7"/><path d="M188.77 299.33H191.97M190.37 297.73V300.93" stroke="#7860d8" stroke-width="0.75"/><path d="M137.75 295.45L139.35 292.57L136.15 292.57Z" fill="none" stroke="#d86a8e" stroke-width="0.65"/><path d="M143.41 281.59H146.61M145.01 279.99V283.19" stroke="#7860d8" stroke-width="0.75"/><path d="M187.8 371.6H191M189.4 370V373.2" stroke="#7860d8" stroke-width="0.75"/><path d="M148.8 288.94h2.56v2.56h-2.56ZM148.8 288.94L151.36 291.5M148.8 291.5L151.36 288.94" fill="#9072d0" fill-opacity="0.3" stroke="#9072d0" stroke-width="0.7"/><path d="M168.72 287.44L170.32 289.04L168.72 290.64L167.12 289.04Z" fill="#a2de6c" fill-opacity="0.5" stroke="#a2de6c" stroke-width="0.7"/><path d="M156.26 297.69H159.46M157.86 296.09V299.29M156.66 296.49L159.06 298.89M156.66 298.89L159.06 296.49" stroke="#98d864" stroke-width="0.75"/><path d="M178.78 289.03h2.56v2.56h-2.56ZM178.78 289.03L181.34 291.59M178.78 291.59L181.34 289.03" fill="#9072d0" fill-opacity="0.3" stroke="#9072d0" stroke-width="0.7"/><path d="M153.1 262.86L154.7 259.98L151.5 259.98Z" fill="none" stroke="#d86a8e" stroke-width="0.65"/><path d="M124.08 279.24L125.68 280.84L124.08 282.44L122.48 280.84Z" fill="none" stroke="#6a6a6a" stroke-width="0.65"/><path d="M149.88 276.2L151.48 277.8L149.88 279.4L148.28 277.8Z" fill="none" stroke="#6a6a6a" stroke-width="0.65"/><circle cx="135.51" cy="286.23" r="1.6" fill="none" stroke="#5a5a5a" stroke-width="0.65"/><path d="M205.7 278.56L207.3 275.68L204.1 275.68Z" fill="none" stroke="#d86a8e" stroke-width="0.65"/><path d="M164.77 296.68L166.37 298.28L164.77 299.88L163.17 298.28Z" fill="#a2de6c" fill-opacity="0.5" stroke="#a2de6c" stroke-width="0.7"/><path d="M202.86 283.93L204.46 285.53L202.86 287.13L201.26 285.53Z" fill="#a2de6c" fill-opacity="0.5" stroke="#a2de6c" stroke-width="0.7"/><path d="M131.26 286.52L132.86 283.64L129.66 283.64Z" fill="none" stroke="#d86a8e" stroke-width="0.65"/><path d="M164.81 297.86L166.41 299.46L164.81 301.06L163.21 299.46Z" fill="#a2de6c" fill-opacity="0.5" stroke="#a2de6c" stroke-width="0.7"/><circle cx="144.79" cy="305.62" r="1.6" fill="none" stroke="#5a5a5a" stroke-width="0.65"/><path d="M167.94 291.35H171.14M169.54 289.75V292.95M168.34 290.15L170.74 292.55M168.34 292.55L170.74 290.15" stroke="#98d864" stroke-width="0.75"/><path d="M174.55 278.95L176.15 280.55L174.55 282.15L172.95 280.55Z" fill="#a2de6c" fill-opacity="0.5" stroke="#a2de6c" stroke-width="0.7"/><path d="M156.01 281.22H159.21M157.61 279.62V282.82M156.41 280.02L158.81 282.42M156.41 282.42L158.81 280.02" stroke="#98d864" stroke-width="0.75"/><path d="M182.51 293.59H185.71M184.11 291.99V295.19M182.91 292.39L185.31 294.79M182.91 294.79L185.31 292.39" stroke="#98d864" stroke-width="0.75"/><path d="M178.94 307.48L180.54 309.08L178.94 310.68L177.34 309.08Z" fill="#a2de6c" fill-opacity="0.5" stroke="#a2de6c" stroke-width="0.7"/><circle cx="135.21" cy="290.72" r="1.6" fill="none" stroke="#5a5a5a" stroke-width="0.65"/><path d="M171.56 268.21h2.56v2.56h-2.56ZM171.56 268.21L174.12 270.77M171.56 270.77L174.12 268.21" fill="#9072d0" fill-opacity="0.3" stroke="#9072d0" stroke-width="0.7"/><path d="M155.58 263.13h2.56v2.56h-2.56ZM155.58 263.13L158.14 265.69M155.58 265.69L158.14 263.13" fill="#9072d0" fill-opacity="0.3" stroke="#9072d0" stroke-width="0.7"/><path d="M159.24 294h2.56v2.56h-2.56ZM159.24 294L161.8 296.56M159.24 296.56L161.8 294" fill="#9072d0" fill-opacity="0.3" stroke="#9072d0" stroke-width="0.7"/><path d="M100.32 301.62h2.56v2.56h-2.56ZM100.32 301.62L102.88 304.18M100.32 304.18L102.88 301.62" fill="#9072d0" fill-opacity="0.3" stroke="#9072d0" stroke-width="0.7"/><path d="M178.1 296.1L179.7 297.7L178.1 299.3L176.5 297.7Z" fill="#a2de6c" fill-opacity="0.5" stroke="#a2de6c" stroke-width="0.7"/><path d="M137.16 281.85L138.76 283.45L137.16 285.05L135.56 283.45Z" fill="none" stroke="#6a6a6a" stroke-width="0.65"/><path d="M174.54 281.34L176.14 282.94L174.54 284.54L172.94 282.94Z" fill="#a2de6c" fill-opacity="0.5" stroke="#a2de6c" stroke-width="0.7"/><path d="M219.82 300.02h2.56v2.56h-2.56ZM219.82 300.02L222.38 302.58M219.82 302.58L222.38 300.02" fill="#9072d0" fill-opacity="0.3" stroke="#9072d0" stroke-width="0.7"/><path d="M166.05 287.7L167.65 289.3L166.05 290.9L164.45 289.3Z" fill="#a2de6c" fill-opacity="0.5" stroke="#a2de6c" stroke-width="0.7"/><path d="M163.9 272.57h2.56v2.56h-2.56ZM163.9 272.57L166.46 275.13M163.9 275.13L166.46 272.57" fill="#9072d0" fill-opacity="0.3" stroke="#9072d0" stroke-width="0.7"/><path d="M159.52 255.92h2.56v2.56h-2.56ZM159.52 255.92L162.08 258.48M159.52 258.48L162.08 255.92" fill="#9072d0" fill-opacity="0.3" stroke="#9072d0" stroke-width="0.7"/><path d="M153.84 285.61h2.56v2.56h-2.56ZM153.84 285.61L156.4 288.17M153.84 288.17L156.4 285.61" fill="#9072d0" fill-opacity="0.3" stroke="#9072d0" stroke-width="0.7"/><path d="M141.92 308.82h2.56v2.56h-2.56ZM141.92 308.82L144.48 311.38M141.92 311.38L144.48 308.82" fill="#9072d0" fill-opacity="0.3" stroke="#9072d0" stroke-width="0.7"/><path d="M170.84 278.48H174.04M172.44 276.88V280.08M171.24 277.28L173.64 279.68M171.24 279.68L173.64 277.28" stroke="#98d864" stroke-width="0.75"/><path d="M158.28 291.07L159.88 292.67L158.28 294.27L156.68 292.67Z" fill="#a2de6c" fill-opacity="0.5" stroke="#a2de6c" stroke-width="0.7"/><path d="M155.82 285.4H159.02M157.42 283.8V287M156.22 284.2L158.62 286.6M156.22 286.6L158.62 284.2" stroke="#98d864" stroke-width="0.75"/><path d="M185.8 309.7L187.4 311.3L185.8 312.9L184.2 311.3Z" fill="#a2de6c" fill-opacity="0.5" stroke="#a2de6c" stroke-width="0.7"/><path d="M158.8 286.07H162M160.4 284.47V287.67" stroke="#7860d8" stroke-width="0.75"/><path d="M177.57 276.77H180.77M179.17 275.17V278.37M177.97 275.57L180.37 277.97M177.97 277.97L180.37 275.57" stroke="#98d864" stroke-width="0.75"/><path d="M146.83 298.68H150.03M148.43 297.08V300.28M147.23 297.48L149.63 299.88M147.23 299.88L149.63 297.48" stroke="#98d864" stroke-width="0.75"/><circle cx="118.31" cy="298.46" r="1.6" fill="none" stroke="#5a5a5a" stroke-width="0.65"/><path d="M195.24 304.86L196.84 301.98L193.64 301.98Z" fill="none" stroke="#d86a8e" stroke-width="0.65"/><path d="M185.8 310L187.4 311.6L185.8 313.2L184.2 311.6Z" fill="#a2de6c" fill-opacity="0.5" stroke="#a2de6c" stroke-width="0.7"/><path d="M172.06 270.73L173.66 272.33L172.06 273.93L170.46 272.33Z" fill="#a2de6c" fill-opacity="0.5" stroke="#a2de6c" stroke-width="0.7"/><path d="M151.34 282.54L152.94 279.66L149.74 279.66Z" fill="none" stroke="#d86a8e" stroke-width="0.65"/><path d="M90.2 282.44L91.8 285.32L88.6 285.32Z" fill="none" stroke="#666666" stroke-width="0.65"/><path d="M123.23 286.19H126.43M124.83 284.59V287.79" stroke="#7860d8" stroke-width="0.75"/><path d="M170.81 300.26H174.01M172.41 298.66V301.86" stroke="#7860d8" stroke-width="0.75"/><path d="M189.1 316.26L190.7 313.38L187.5 313.38Z" fill="none" stroke="#d86a8e" stroke-width="0.65"/><path d="M109 279.74L110.6 282.62L107.4 282.62Z" fill="none" stroke="#666666" stroke-width="0.65"/><path d="M182.65 273.95H185.85M184.25 272.35V275.55" stroke="#7860d8" stroke-width="0.75"/><path d="M159.12 277.84H162.32M160.72 276.24V279.44" stroke="#7860d8" stroke-width="0.75"/><path d="M197.79 294.38H200.99M199.39 292.78V295.98M198.19 293.18L200.59 295.58M198.19 295.58L200.59 293.18" stroke="#98d864" stroke-width="0.75"/><path d="M218 309.2L219.6 310.8L218 312.4L216.4 310.8Z" fill="#a2de6c" fill-opacity="0.5" stroke="#a2de6c" stroke-width="0.7"/><path d="M127.75 289.99h2.56v2.56h-2.56ZM127.75 289.99L130.31 292.55M127.75 292.55L130.31 289.99" fill="#9072d0" fill-opacity="0.3" stroke="#9072d0" stroke-width="0.7"/><path d="M140.07 277.84h2.56v2.56h-2.56ZM140.07 277.84L142.63 280.4M140.07 280.4L142.63 277.84" fill="#9072d0" fill-opacity="0.3" stroke="#9072d0" stroke-width="0.7"/><path d="M141.2 295.21L142.8 292.33L139.6 292.33Z" fill="none" stroke="#d86a8e" stroke-width="0.65"/><path d="M151.48 302.82H154.68M153.08 301.22V304.42M151.88 301.62L154.28 304.02M151.88 304.02L154.28 301.62" stroke="#98d864" stroke-width="0.75"/><path d="M192.22 286.99H195.42M193.82 285.39V288.59M192.62 285.79L195.02 288.19M192.62 288.19L195.02 285.79" stroke="#98d864" stroke-width="0.75"/><path d="M139.02 313.22h2.56v2.56h-2.56ZM139.02 313.22L141.58 315.78M139.02 315.78L141.58 313.22" fill="#9072d0" fill-opacity="0.3" stroke="#9072d0" stroke-width="0.7"/><path d="M217.12 319.12h2.56v2.56h-2.56ZM217.12 319.12L219.68 321.68M217.12 321.68L219.68 319.12" fill="#9072d0" fill-opacity="0.3" stroke="#9072d0" stroke-width="0.7"/><path d="M177.11 293.01L178.71 294.61L177.11 296.21L175.51 294.61Z" fill="none" stroke="#6a6a6a" stroke-width="0.65"/><path d="M148.52 281.42h2.56v2.56h-2.56ZM148.52 281.42L151.08 283.98M148.52 283.98L151.08 281.42" fill="#9072d0" fill-opacity="0.3" stroke="#9072d0" stroke-width="0.7"/><path d="M155.8 291.08h2.56v2.56h-2.56ZM155.8 291.08L158.36 293.64M155.8 293.64L158.36 291.08" fill="#9072d0" fill-opacity="0.3" stroke="#9072d0" stroke-width="0.7"/><path d="M154.67 282.67L156.27 284.27L154.67 285.87L153.07 284.27Z" fill="#a2de6c" fill-opacity="0.5" stroke="#a2de6c" stroke-width="0.7"/><circle cx="149.41" cy="271.28" r="1.6" fill="none" stroke="#5a5a5a" stroke-width="0.65"/><path d="M163.89 302.17L165.49 299.29L162.29 299.29Z" fill="none" stroke="#d86a8e" stroke-width="0.65"/><circle cx="91.2" cy="247.7" r="1.6" fill="none" stroke="#5a5a5a" stroke-width="0.65"/><path d="M176.75 275.47L178.35 277.07L176.75 278.67L175.15 277.07Z" fill="#a2de6c" fill-opacity="0.5" stroke="#a2de6c" stroke-width="0.7"/><path d="M160.84 267.51L162.44 269.11L160.84 270.71L159.24 269.11Z" fill="#a2de6c" fill-opacity="0.5" stroke="#a2de6c" stroke-width="0.7"/><path d="M156.77 279.93L158.37 281.53L156.77 283.13L155.17 281.53Z" fill="#a2de6c" fill-opacity="0.5" stroke="#a2de6c" stroke-width="0.7"/><path d="M145 281.11h2.56v2.56h-2.56ZM145 281.11L147.56 283.67M145 283.67L147.56 281.11" fill="#9072d0" fill-opacity="0.3" stroke="#9072d0" stroke-width="0.7"/><circle cx="130.5" cy="336.2" r="1.6" fill="none" stroke="#5a5a5a" stroke-width="0.65"/><path d="M165.85 282.28L167.45 283.88L165.85 285.48L164.25 283.88Z" fill="#a2de6c" fill-opacity="0.5" stroke="#a2de6c" stroke-width="0.7"/><path d="M154.97 281.39H158.17M156.57 279.79V282.99M155.37 280.19L157.77 282.59M155.37 282.59L157.77 280.19" stroke="#98d864" stroke-width="0.75"/><circle cx="144.71" cy="277.95" r="1.6" fill="none" stroke="#5a5a5a" stroke-width="0.65"/><circle cx="92.7" cy="284.8" r="1.6" fill="none" stroke="#5a5a5a" stroke-width="0.65"/><path d="M178.98 275.9L180.58 277.5L178.98 279.1L177.38 277.5Z" fill="#a2de6c" fill-opacity="0.5" stroke="#a2de6c" stroke-width="0.7"/><circle cx="138.81" cy="273.69" r="1.6" fill="none" stroke="#5a5a5a" stroke-width="0.65"/><path d="M157.14 276.27h2.56v2.56h-2.56ZM157.14 276.27L159.7 278.83M157.14 278.83L159.7 276.27" fill="#9072d0" fill-opacity="0.3" stroke="#9072d0" stroke-width="0.7"/><path d="M149.17 291.88h2.56v2.56h-2.56ZM149.17 291.88L151.73 294.44M149.17 294.44L151.73 291.88" fill="#9072d0" fill-opacity="0.3" stroke="#9072d0" stroke-width="0.7"/><path d="M159.81 279.01h2.56v2.56h-2.56ZM159.81 279.01L162.37 281.57M159.81 281.57L162.37 279.01" fill="#9072d0" fill-opacity="0.3" stroke="#9072d0" stroke-width="0.7"/><path d="M185.68 274.37L188.24 276.93M185.68 276.93L188.24 274.37" stroke="#5a5a6a" stroke-width="0.75"/><path d="M171.3 292.52L172.9 289.64L169.7 289.64Z" fill="none" stroke="#d86a8e" stroke-width="0.65"/><path d="M163.34 277.8L164.94 274.92L161.74 274.92Z" fill="none" stroke="#d86a8e" stroke-width="0.65"/><path d="M188.83 276.79L190.43 278.39L188.83 279.99L187.23 278.39Z" fill="#a2de6c" fill-opacity="0.5" stroke="#a2de6c" stroke-width="0.7"/><path d="M168.22 288.33L169.82 289.93L168.22 291.53L166.62 289.93Z" fill="#a2de6c" fill-opacity="0.5" stroke="#a2de6c" stroke-width="0.7"/><path d="M180.63 293.4H183.83M182.23 291.8V295M181.03 292.2L183.43 294.6M181.03 294.6L183.43 292.2" stroke="#98d864" stroke-width="0.75"/><path d="M192.59 283.47h2.56v2.56h-2.56ZM192.59 283.47L195.15 286.03M192.59 286.03L195.15 283.47" fill="#9072d0" fill-opacity="0.3" stroke="#9072d0" stroke-width="0.7"/><path d="M179.43 286.42h2.56v2.56h-2.56ZM179.43 286.42L181.99 288.98M179.43 288.98L181.99 286.42" fill="#9072d0" fill-opacity="0.3" stroke="#9072d0" stroke-width="0.7"/><path d="M168.36 268.6H171.56M169.96 267V270.2M168.76 267.4L171.16 269.8M168.76 269.8L171.16 267.4" stroke="#98d864" stroke-width="0.75"/><path d="M142.97 281.8h2.56v2.56h-2.56ZM142.97 281.8L145.53 284.36M142.97 284.36L145.53 281.8" fill="#9072d0" fill-opacity="0.3" stroke="#9072d0" stroke-width="0.7"/><path d="M147.5 322.84L149.1 325.72L145.9 325.72Z" fill="none" stroke="#666666" stroke-width="0.65"/><path d="M153.27 279.43h2.56v2.56h-2.56ZM153.27 279.43L155.83 281.99M153.27 281.99L155.83 279.43" fill="#9072d0" fill-opacity="0.3" stroke="#9072d0" stroke-width="0.7"/><path d="M143.37 276.75L144.97 279.63L141.77 279.63Z" fill="none" stroke="#666666" stroke-width="0.65"/><path d="M141.85 277.95L144.41 280.51M141.85 280.51L144.41 277.95" stroke="#5a5a6a" stroke-width="0.75"/><path d="M179.05 276.18L180.65 277.78L179.05 279.38L177.45 277.78Z" fill="#a2de6c" fill-opacity="0.5" stroke="#a2de6c" stroke-width="0.7"/><circle cx="151.9" cy="286.3" r="1.6" fill="none" stroke="#5a5a5a" stroke-width="0.65"/><path d="M158.92 303.25L160.52 304.85L158.92 306.45L157.32 304.85Z" fill="#a2de6c" fill-opacity="0.5" stroke="#a2de6c" stroke-width="0.7"/><path d="M175.89 297.41H179.09M177.49 295.81V299.01M176.29 296.21L178.69 298.61M176.29 298.61L178.69 296.21" stroke="#98d864" stroke-width="0.75"/><path d="M156.05 297.81L158.61 300.37M156.05 300.37L158.61 297.81" stroke="#5a5a6a" stroke-width="0.75"/><path d="M144.52 280.6L146.12 277.72L142.92 277.72Z" fill="none" stroke="#d86a8e" stroke-width="0.65"/><path d="M147.65 276.97h2.56v2.56h-2.56ZM147.65 276.97L150.21 279.53M147.65 279.53L150.21 276.97" fill="#9072d0" fill-opacity="0.3" stroke="#9072d0" stroke-width="0.7"/><path d="M151.67 278.27L154.23 280.83M151.67 280.83L154.23 278.27" stroke="#5a5a6a" stroke-width="0.75"/><path d="M155.57 278.71H158.77M157.17 277.11V280.31M155.97 277.51L158.37 279.91M155.97 279.91L158.37 277.51" stroke="#98d864" stroke-width="0.75"/><path d="M133.64 288.14L135.24 289.74L133.64 291.34L132.04 289.74Z" fill="none" stroke="#6a6a6a" stroke-width="0.65"/><path d="M157.35 281.83h2.56v2.56h-2.56ZM157.35 281.83L159.91 284.39M157.35 284.39L159.91 281.83" fill="#9072d0" fill-opacity="0.3" stroke="#9072d0" stroke-width="0.7"/><path d="M166.08 284.12h2.56v2.56h-2.56ZM166.08 284.12L168.64 286.68M166.08 286.68L168.64 284.12" fill="#9072d0" fill-opacity="0.3" stroke="#9072d0" stroke-width="0.7"/><path d="M168.01 293.74h2.56v2.56h-2.56ZM168.01 293.74L170.57 296.3M168.01 296.3L170.57 293.74" fill="#9072d0" fill-opacity="0.3" stroke="#9072d0" stroke-width="0.7"/><path d="M220.92 277.62h2.56v2.56h-2.56ZM220.92 277.62L223.48 280.18M220.92 280.18L223.48 277.62" fill="#9072d0" fill-opacity="0.3" stroke="#9072d0" stroke-width="0.7"/><path d="M167.02 286.98L168.62 284.1L165.42 284.1Z" fill="none" stroke="#d86a8e" stroke-width="0.65"/><path d="M165.88 282.98h2.56v2.56h-2.56ZM165.88 282.98L168.44 285.54M165.88 285.54L168.44 282.98" fill="#9072d0" fill-opacity="0.3" stroke="#9072d0" stroke-width="0.7"/><path d="M151.47 290.15H154.67M153.07 288.55V291.75M151.87 288.95L154.27 291.35M151.87 291.35L154.27 288.95" stroke="#98d864" stroke-width="0.75"/><circle cx="128.04" cy="282.31" r="1.6" fill="none" stroke="#5a5a5a" stroke-width="0.65"/><path d="M150.96 283.89H154.16M152.56 282.29V285.49M151.36 282.69L153.76 285.09M151.36 285.09L153.76 282.69" stroke="#98d864" stroke-width="0.75"/><path d="M159.06 273.47h2.56v2.56h-2.56ZM159.06 273.47L161.62 276.03M159.06 276.03L161.62 273.47" fill="#9072d0" fill-opacity="0.3" stroke="#9072d0" stroke-width="0.7"/><path d="M136.91 287.34L139.47 289.9M136.91 289.9L139.47 287.34" stroke="#5a5a6a" stroke-width="0.75"/><path d="M163.73 297.55h2.56v2.56h-2.56ZM163.73 297.55L166.29 300.11M163.73 300.11L166.29 297.55" fill="#9072d0" fill-opacity="0.3" stroke="#9072d0" stroke-width="0.7"/><circle cx="138.63" cy="274.12" r="1.6" fill="none" stroke="#5a5a5a" stroke-width="0.65"/><circle cx="58.1" cy="284.2" r="1.6" fill="none" stroke="#5a5a5a" stroke-width="0.65"/><circle cx="105.8" cy="266.9" r="1.6" fill="none" stroke="#5a5a5a" stroke-width="0.65"/><path d="M155.72 299.96L157.32 301.56L155.72 303.16L154.12 301.56Z" fill="#a2de6c" fill-opacity="0.5" stroke="#a2de6c" stroke-width="0.7"/><path d="M123.44 298.62L125.04 300.22L123.44 301.82L121.84 300.22Z" fill="none" stroke="#6a6a6a" stroke-width="0.65"/><path d="M154.41 274.52L156.01 276.12L154.41 277.72L152.81 276.12Z" fill="#a2de6c" fill-opacity="0.5" stroke="#a2de6c" stroke-width="0.7"/><path d="M169.86 287.14H173.06M171.46 285.54V288.74M170.26 285.94L172.66 288.34M170.26 288.34L172.66 285.94" stroke="#98d864" stroke-width="0.75"/><path d="M168.1 262L169.7 263.6L168.1 265.2L166.5 263.6Z" fill="none" stroke="#6a6a6a" stroke-width="0.65"/><path d="M181.62 339.62h2.56v2.56h-2.56ZM181.62 339.62L184.18 342.18M181.62 342.18L184.18 339.62" fill="#9072d0" fill-opacity="0.3" stroke="#9072d0" stroke-width="0.7"/><path d="M180.62 251.92h2.56v2.56h-2.56ZM180.62 251.92L183.18 254.48M180.62 254.48L183.18 251.92" fill="#9072d0" fill-opacity="0.3" stroke="#9072d0" stroke-width="0.7"/><path d="M182.49 312.66L184.09 309.78L180.89 309.78Z" fill="none" stroke="#d86a8e" stroke-width="0.65"/><circle cx="134.1" cy="283.54" r="1.6" fill="none" stroke="#5a5a5a" stroke-width="0.65"/><path d="M170.03 297.27H173.23M171.63 295.67V298.87" stroke="#7860d8" stroke-width="0.75"/><path d="M172.96 281.57H176.16M174.56 279.97V283.17" stroke="#7860d8" stroke-width="0.75"/><path d="M184.77 288.36L186.37 289.96L184.77 291.56L183.17 289.96Z" fill="#a2de6c" fill-opacity="0.5" stroke="#a2de6c" stroke-width="0.7"/><path d="M142.39 289.47H145.59M143.99 287.87V291.07" stroke="#7860d8" stroke-width="0.75"/><path d="M161.33 289.96H164.53M162.93 288.36V291.56M161.73 288.76L164.13 291.16M161.73 291.16L164.13 288.76" stroke="#98d864" stroke-width="0.75"/><path d="M145.98 281.59L147.58 283.19L145.98 284.79L144.38 283.19Z" fill="none" stroke="#6a6a6a" stroke-width="0.65"/><path d="M145.02 289.07L147.58 291.63M145.02 291.63L147.58 289.07" stroke="#5a5a6a" stroke-width="0.75"/><path d="M168.26 291.42L169.86 293.02L168.26 294.62L166.66 293.02Z" fill="#a2de6c" fill-opacity="0.5" stroke="#a2de6c" stroke-width="0.7"/><circle cx="139.88" cy="287.09" r="1.6" fill="none" stroke="#5a5a5a" stroke-width="0.65"/><path d="M174.85 305.98L177.41 308.54M174.85 308.54L177.41 305.98" stroke="#5a5a6a" stroke-width="0.75"/><path d="M220.32 300.52h2.56v2.56h-2.56ZM220.32 300.52L222.88 303.08M220.32 303.08L222.88 300.52" fill="#9072d0" fill-opacity="0.3" stroke="#9072d0" stroke-width="0.7"/><path d="M199 277.36L200.6 274.48L197.4 274.48Z" fill="none" stroke="#d86a8e" stroke-width="0.65"/><path d="M171.49 281.18L173.09 282.78L171.49 284.38L169.89 282.78Z" fill="#a2de6c" fill-opacity="0.5" stroke="#a2de6c" stroke-width="0.7"/><path d="M159.73 303.67L161.33 305.27L159.73 306.87L158.13 305.27Z" fill="#a2de6c" fill-opacity="0.5" stroke="#a2de6c" stroke-width="0.7"/><path d="M171.03 286.01H174.23M172.63 284.41V287.61" stroke="#7860d8" stroke-width="0.75"/><path d="M180.51 275.87H183.71M182.11 274.27V277.47M180.91 274.67L183.31 277.07M180.91 277.07L183.31 274.67" stroke="#98d864" stroke-width="0.75"/><path d="M169.06 276.92L170.66 278.52L169.06 280.12L167.46 278.52Z" fill="#a2de6c" fill-opacity="0.5" stroke="#a2de6c" stroke-width="0.7"/><path d="M158.27 274.74h2.56v2.56h-2.56ZM158.27 274.74L160.83 277.3M158.27 277.3L160.83 274.74" fill="#9072d0" fill-opacity="0.3" stroke="#9072d0" stroke-width="0.7"/><path d="M156.78 285.2L158.38 282.32L155.18 282.32Z" fill="none" stroke="#d86a8e" stroke-width="0.65"/><path d="M157.57 284.73H160.77M159.17 283.13V286.33" stroke="#7860d8" stroke-width="0.75"/><path d="M129.23 298.71L130.83 300.31L129.23 301.91L127.63 300.31Z" fill="none" stroke="#6a6a6a" stroke-width="0.65"/><path d="M209.8 286.4L211.4 288L209.8 289.6L208.2 288Z" fill="#a2de6c" fill-opacity="0.5" stroke="#a2de6c" stroke-width="0.7"/><path d="M181.98 287.86L183.58 284.98L180.38 284.98Z" fill="none" stroke="#d86a8e" stroke-width="0.65"/><path d="M154.97 272.03L156.57 273.63L154.97 275.23L153.37 273.63Z" fill="#a2de6c" fill-opacity="0.5" stroke="#a2de6c" stroke-width="0.7"/><path d="M137.29 298.01L138.89 295.13L135.69 295.13Z" fill="none" stroke="#d86a8e" stroke-width="0.65"/><path d="M140.09 276.19H143.29M141.69 274.59V277.79" stroke="#7860d8" stroke-width="0.75"/><path d="M154.24 284.21L155.84 285.81L154.24 287.41L152.64 285.81Z" fill="none" stroke="#6a6a6a" stroke-width="0.65"/><path d="M185.66 289.68H188.86M187.26 288.08V291.28M186.06 288.48L188.46 290.88M186.06 290.88L188.46 288.48" stroke="#98d864" stroke-width="0.75"/><path d="M126.5 309.86L128.1 311.46L126.5 313.06L124.9 311.46Z" fill="none" stroke="#6a6a6a" stroke-width="0.65"/><path d="M180.1 275.53H183.3M181.7 273.93V277.13" stroke="#7860d8" stroke-width="0.75"/><circle cx="41.3" cy="282.9" r="1.6" fill="none" stroke="#5a5a5a" stroke-width="0.65"/><path d="M211.72 255.92h2.56v2.56h-2.56ZM211.72 255.92L214.28 258.48M211.72 258.48L214.28 255.92" fill="#9072d0" fill-opacity="0.3" stroke="#9072d0" stroke-width="0.7"/><path d="M147.84 288.11H151.04M149.44 286.51V289.71M148.24 286.91L150.64 289.31M148.24 289.31L150.64 286.91" stroke="#98d864" stroke-width="0.75"/><path d="M127.42 260.42L129.98 262.98M127.42 262.98L129.98 260.42" stroke="#5a5a6a" stroke-width="0.75"/><path d="M158.51 291.89h2.56v2.56h-2.56ZM158.51 291.89L161.07 294.45M158.51 294.45L161.07 291.89" fill="#9072d0" fill-opacity="0.3" stroke="#9072d0" stroke-width="0.7"/><path d="M171.46 305.12H174.66M173.06 303.52V306.72M171.86 303.92L174.26 306.32M171.86 306.32L174.26 303.92" stroke="#98d864" stroke-width="0.75"/><path d="M110.62 296.42L113.18 298.98M110.62 298.98L113.18 296.42" stroke="#5a5a6a" stroke-width="0.75"/><circle cx="154.48" cy="291.07" r="1.6" fill="none" stroke="#5a5a5a" stroke-width="0.65"/><path d="M239.7 300L241.3 301.6L239.7 303.2L238.1 301.6Z" fill="#a2de6c" fill-opacity="0.5" stroke="#a2de6c" stroke-width="0.7"/><path d="M169.71 272.35L171.31 273.95L169.71 275.55L168.11 273.95Z" fill="#a2de6c" fill-opacity="0.5" stroke="#a2de6c" stroke-width="0.7"/><path d="M158.71 288.61H161.91M160.31 287.01V290.21M159.11 287.41L161.51 289.81M159.11 289.81L161.51 287.41" stroke="#98d864" stroke-width="0.75"/><path d="M138.72 266.72L141.28 269.28M138.72 269.28L141.28 266.72" stroke="#5a5a6a" stroke-width="0.75"/><path d="M168.26 285.39H171.46M169.86 283.79V286.99" stroke="#7860d8" stroke-width="0.75"/><path d="M161.53 284.92L163.13 282.04L159.93 282.04Z" fill="none" stroke="#d86a8e" stroke-width="0.65"/><path d="M162.12 290.94H165.32M163.72 289.34V292.54M162.52 289.74L164.92 292.14M162.52 292.14L164.92 289.74" stroke="#98d864" stroke-width="0.75"/><circle cx="100.4" cy="276.2" r="1.6" fill="none" stroke="#5a5a5a" stroke-width="0.65"/><path d="M163.42 280.91L165.02 282.51L163.42 284.11L161.82 282.51Z" fill="#a2de6c" fill-opacity="0.5" stroke="#a2de6c" stroke-width="0.7"/><circle cx="155.01" cy="292.86" r="1.6" fill="none" stroke="#5a5a5a" stroke-width="0.65"/><path d="M147.75 277.48h2.56v2.56h-2.56ZM147.75 277.48L150.31 280.04M147.75 280.04L150.31 277.48" fill="#9072d0" fill-opacity="0.3" stroke="#9072d0" stroke-width="0.7"/><path d="M152.69 282.73L154.29 279.85L151.09 279.85Z" fill="none" stroke="#d86a8e" stroke-width="0.65"/><path d="M196.02 257.92L198.58 260.48M196.02 260.48L198.58 257.92" stroke="#5a5a6a" stroke-width="0.75"/><circle cx="114.43" cy="284.23" r="1.6" fill="none" stroke="#5a5a5a" stroke-width="0.65"/><path d="M193.2 256.9L194.8 258.5L193.2 260.1L191.6 258.5Z" fill="#a2de6c" fill-opacity="0.5" stroke="#a2de6c" stroke-width="0.7"/><path d="M160.72 286.55h2.56v2.56h-2.56ZM160.72 286.55L163.28 289.11M160.72 289.11L163.28 286.55" fill="#9072d0" fill-opacity="0.3" stroke="#9072d0" stroke-width="0.7"/><path d="M173.21 299.46H176.41M174.81 297.86V301.06M173.61 298.26L176.01 300.66M173.61 300.66L176.01 298.26" stroke="#98d864" stroke-width="0.75"/><path d="M154.01 270.51H157.21M155.61 268.91V272.11" stroke="#7860d8" stroke-width="0.75"/><path d="M147.35 293.39H150.55M148.95 291.79V294.99" stroke="#7860d8" stroke-width="0.75"/><path d="M156.25 286.66h2.56v2.56h-2.56ZM156.25 286.66L158.81 289.22M156.25 289.22L158.81 286.66" fill="#9072d0" fill-opacity="0.3" stroke="#9072d0" stroke-width="0.7"/><path d="M187.4 259.1L189 260.7L187.4 262.3L185.8 260.7Z" fill="#a2de6c" fill-opacity="0.5" stroke="#a2de6c" stroke-width="0.7"/><path d="M158.8 299.25L160.4 300.85L158.8 302.45L157.2 300.85Z" fill="#a2de6c" fill-opacity="0.5" stroke="#a2de6c" stroke-width="0.7"/><path d="M149.92 286.72L151.52 288.32L149.92 289.92L148.32 288.32Z" fill="#a2de6c" fill-opacity="0.5" stroke="#a2de6c" stroke-width="0.7"/><circle cx="138.47" cy="272.7" r="1.6" fill="none" stroke="#5a5a5a" stroke-width="0.65"/><path d="M174.59 294.88L176.19 296.48L174.59 298.08L172.99 296.48Z" fill="#a2de6c" fill-opacity="0.5" stroke="#a2de6c" stroke-width="0.7"/><path d="M131.4 269.27h2.56v2.56h-2.56ZM131.4 269.27L133.96 271.83M131.4 271.83L133.96 269.27" fill="#9072d0" fill-opacity="0.3" stroke="#9072d0" stroke-width="0.7"/><path d="M188.28 277.52L189.88 279.12L188.28 280.72L186.68 279.12Z" fill="#a2de6c" fill-opacity="0.5" stroke="#a2de6c" stroke-width="0.7"/><path d="M162.74 292.72H165.94M164.34 291.12V294.32" stroke="#7860d8" stroke-width="0.75"/><path d="M153.32 299.85L154.92 301.45L153.32 303.05L151.72 301.45Z" fill="#a2de6c" fill-opacity="0.5" stroke="#a2de6c" stroke-width="0.7"/><path d="M157.22 260.92h2.56v2.56h-2.56ZM157.22 260.92L159.78 263.48M157.22 263.48L159.78 260.92" fill="#9072d0" fill-opacity="0.3" stroke="#9072d0" stroke-width="0.7"/><path d="M167.69 280.24L169.29 281.84L167.69 283.44L166.09 281.84Z" fill="#a2de6c" fill-opacity="0.5" stroke="#a2de6c" stroke-width="0.7"/><path d="M130.9 264.2H134.1M132.5 262.6V265.8" stroke="#7860d8" stroke-width="0.75"/><path d="M172.35 277.96L173.95 279.56L172.35 281.16L170.75 279.56Z" fill="none" stroke="#6a6a6a" stroke-width="0.65"/><circle cx="161.73" cy="289.74" r="1.6" fill="none" stroke="#5a5a5a" stroke-width="0.65"/><path d="M158.3 296.25h2.56v2.56h-2.56ZM158.3 296.25L160.86 298.81M158.3 298.81L160.86 296.25" fill="#9072d0" fill-opacity="0.3" stroke="#9072d0" stroke-width="0.7"/><path d="M156.25 275.67h2.56v2.56h-2.56ZM156.25 275.67L158.81 278.23M156.25 278.23L158.81 275.67" fill="#9072d0" fill-opacity="0.3" stroke="#9072d0" stroke-width="0.7"/><path d="M165.87 279.84h2.56v2.56h-2.56ZM165.87 279.84L168.43 282.4M165.87 282.4L168.43 279.84" fill="#9072d0" fill-opacity="0.3" stroke="#9072d0" stroke-width="0.7"/><path d="M125.42 264.82h2.56v2.56h-2.56ZM125.42 264.82L127.98 267.38M125.42 267.38L127.98 264.82" fill="#9072d0" fill-opacity="0.3" stroke="#9072d0" stroke-width="0.7"/><path d="M171.58 294.81H174.78M173.18 293.21V296.41M171.98 293.61L174.38 296.01M171.98 296.01L174.38 293.61" stroke="#98d864" stroke-width="0.75"/><path d="M195.62 258.22L198.18 260.78M195.62 260.78L198.18 258.22" stroke="#5a5a6a" stroke-width="0.75"/><path d="M177.93 281.63L179.53 283.23L177.93 284.83L176.33 283.23Z" fill="#a2de6c" fill-opacity="0.5" stroke="#a2de6c" stroke-width="0.7"/><path d="M185.25 284.2L186.85 285.8L185.25 287.4L183.65 285.8Z" fill="#a2de6c" fill-opacity="0.5" stroke="#a2de6c" stroke-width="0.7"/><path d="M191.15 282.27L192.75 283.87L191.15 285.47L189.55 283.87Z" fill="#a2de6c" fill-opacity="0.5" stroke="#a2de6c" stroke-width="0.7"/><path d="M165.6 326.2L167.2 327.8L165.6 329.4L164 327.8Z" fill="#a2de6c" fill-opacity="0.5" stroke="#a2de6c" stroke-width="0.7"/><path d="M150.16 296.35L151.76 293.47L148.56 293.47Z" fill="none" stroke="#d86a8e" stroke-width="0.65"/><path d="M162.54 279.73L164.14 276.85L160.94 276.85Z" fill="none" stroke="#d86a8e" stroke-width="0.65"/><path d="M134.1 308.2L135.7 309.8L134.1 311.4L132.5 309.8Z" fill="#a2de6c" fill-opacity="0.5" stroke="#a2de6c" stroke-width="0.7"/><path d="M199.76 287.21L201.36 284.33L198.16 284.33Z" fill="none" stroke="#d86a8e" stroke-width="0.65"/><path d="M123.05 297.61L124.65 299.21L123.05 300.81L121.45 299.21Z" fill="none" stroke="#6a6a6a" stroke-width="0.65"/><path d="M160.31 305.69H163.51M161.91 304.09V307.29" stroke="#7860d8" stroke-width="0.75"/><path d="M148.95 266.36h2.56v2.56h-2.56ZM148.95 266.36L151.51 268.92M148.95 268.92L151.51 266.36" fill="#9072d0" fill-opacity="0.3" stroke="#9072d0" stroke-width="0.7"/><path d="M143.93 272.46L145.53 275.34L142.33 275.34Z" fill="none" stroke="#666666" stroke-width="0.65"/><path d="M197.4 264.8H200.6M199 263.2V266.4M197.8 263.6L200.2 266M197.8 266L200.2 263.6" stroke="#98d864" stroke-width="0.75"/><path d="M128.67 291.96L130.27 294.84L127.07 294.84Z" fill="none" stroke="#666666" stroke-width="0.65"/><path d="M180.45 290.73L182.05 292.33L180.45 293.93L178.85 292.33Z" fill="#a2de6c" fill-opacity="0.5" stroke="#a2de6c" stroke-width="0.7"/><path d="M216.02 286.42h2.56v2.56h-2.56ZM216.02 286.42L218.58 288.98M216.02 288.98L218.58 286.42" fill="#9072d0" fill-opacity="0.3" stroke="#9072d0" stroke-width="0.7"/><path d="M154.09 288.36h2.56v2.56h-2.56ZM154.09 288.36L156.65 290.92M154.09 290.92L156.65 288.36" fill="#9072d0" fill-opacity="0.3" stroke="#9072d0" stroke-width="0.7"/><circle cx="142.28" cy="296.43" r="1.6" fill="none" stroke="#5a5a5a" stroke-width="0.65"/><circle cx="126.99" cy="288.98" r="1.6" fill="none" stroke="#5a5a5a" stroke-width="0.65"/><path d="M169.72 282.66L171.32 284.26L169.72 285.86L168.12 284.26Z" fill="#a2de6c" fill-opacity="0.5" stroke="#a2de6c" stroke-width="0.7"/><path d="M162.46 289.77L164.06 291.37L162.46 292.97L160.86 291.37Z" fill="#a2de6c" fill-opacity="0.5" stroke="#a2de6c" stroke-width="0.7"/><path d="M166.88 275.66H170.08M168.48 274.06V277.26" stroke="#7860d8" stroke-width="0.75"/><circle cx="113.72" cy="295.45" r="1.6" fill="none" stroke="#5a5a5a" stroke-width="0.65"/><path d="M179.93 313.11L181.53 310.23L178.33 310.23Z" fill="none" stroke="#d86a8e" stroke-width="0.65"/><path d="M118.84 264.68L120.44 266.28L118.84 267.88L117.24 266.28Z" fill="none" stroke="#6a6a6a" stroke-width="0.65"/><path d="M153.62 280.16L155.22 281.76L153.62 283.36L152.02 281.76Z" fill="#a2de6c" fill-opacity="0.5" stroke="#a2de6c" stroke-width="0.7"/><path d="M191.28 283.12L192.88 284.72L191.28 286.32L189.68 284.72Z" fill="#a2de6c" fill-opacity="0.5" stroke="#a2de6c" stroke-width="0.7"/><path d="M224.7 293.1L226.3 294.7L224.7 296.3L223.1 294.7Z" fill="#a2de6c" fill-opacity="0.5" stroke="#a2de6c" stroke-width="0.7"/><path d="M160.69 283.09h2.56v2.56h-2.56ZM160.69 283.09L163.25 285.65M160.69 285.65L163.25 283.09" fill="#9072d0" fill-opacity="0.3" stroke="#9072d0" stroke-width="0.7"/><path d="M177.39 296.34L178.99 297.94L177.39 299.54L175.79 297.94Z" fill="#a2de6c" fill-opacity="0.5" stroke="#a2de6c" stroke-width="0.7"/><path d="M78.8 292.04L80.4 294.92L77.2 294.92Z" fill="none" stroke="#666666" stroke-width="0.65"/><path d="M175.12 286.55L176.72 288.15L175.12 289.75L173.52 288.15Z" fill="#a2de6c" fill-opacity="0.5" stroke="#a2de6c" stroke-width="0.7"/><path d="M163.6 295.72h2.56v2.56h-2.56ZM163.6 295.72L166.16 298.28M163.6 298.28L166.16 295.72" fill="#9072d0" fill-opacity="0.3" stroke="#9072d0" stroke-width="0.7"/><path d="M146.03 284.74h2.56v2.56h-2.56ZM146.03 284.74L148.59 287.3M146.03 287.3L148.59 284.74" fill="#9072d0" fill-opacity="0.3" stroke="#9072d0" stroke-width="0.7"/><path d="M134.13 293.25L135.73 294.85L134.13 296.45L132.53 294.85Z" fill="none" stroke="#6a6a6a" stroke-width="0.65"/><path d="M197.26 286.72L198.86 288.32L197.26 289.92L195.66 288.32Z" fill="#a2de6c" fill-opacity="0.5" stroke="#a2de6c" stroke-width="0.7"/><path d="M163.29 290.43h2.56v2.56h-2.56ZM163.29 290.43L165.85 292.99M163.29 292.99L165.85 290.43" fill="#9072d0" fill-opacity="0.3" stroke="#9072d0" stroke-width="0.7"/><path d="M146.39 283.08L147.99 280.2L144.79 280.2Z" fill="none" stroke="#d86a8e" stroke-width="0.65"/><path d="M166.36 295.53h2.56v2.56h-2.56ZM166.36 295.53L168.92 298.09M166.36 298.09L168.92 295.53" fill="#9072d0" fill-opacity="0.3" stroke="#9072d0" stroke-width="0.7"/><path d="M166.3 297.38H169.5M167.9 295.78V298.98" stroke="#7860d8" stroke-width="0.75"/><path d="M154.78 295.65L156.38 292.77L153.18 292.77Z" fill="none" stroke="#d86a8e" stroke-width="0.65"/><path d="M142.65 296.71h2.56v2.56h-2.56ZM142.65 296.71L145.21 299.27M142.65 299.27L145.21 296.71" fill="#9072d0" fill-opacity="0.3" stroke="#9072d0" stroke-width="0.7"/><path d="M153.87 278.47h2.56v2.56h-2.56ZM153.87 278.47L156.43 281.03M153.87 281.03L156.43 278.47" fill="#9072d0" fill-opacity="0.3" stroke="#9072d0" stroke-width="0.7"/><path d="M149.78 285.17L151.38 282.29L148.18 282.29Z" fill="none" stroke="#d86a8e" stroke-width="0.65"/><path d="M177.9 276.97h2.56v2.56h-2.56ZM177.9 276.97L180.46 279.53M177.9 279.53L180.46 276.97" fill="#9072d0" fill-opacity="0.3" stroke="#9072d0" stroke-width="0.7"/><path d="M154.96 282.8L156.56 284.4L154.96 286L153.36 284.4Z" fill="none" stroke="#6a6a6a" stroke-width="0.65"/></g>
<rect x="35.45" y="217.9" width="211.95" height="162.6" fill="none" stroke="#8a8a8a" stroke-width="1.25"/>
<line x1="66.48" y1="380.5" x2="66.48" y2="384.5" stroke="#8a8a8a" stroke-width="0.9"/>
<text x="66.48" y="395.5" text-anchor="middle" font-size="8.5" font-family='"Liberation Serif", serif' font-weight="bold" fill="#000">-4</text>
<line x1="112.64" y1="380.5" x2="112.64" y2="384.5" stroke="#8a8a8a" stroke-width="0.9"/>
<text x="112.64" y="395.5" text-anchor="middle" font-size="8.5" font-family='"Liberation Serif", serif' font-weight="bold" fill="#000">-2</text>
<line x1="158.8" y1="380.5" x2="158.8" y2="384.5" stroke="#8a8a8a" stroke-width="0.9"/>
<text x="158.8" y="395.5" text-anchor="middle" font-size="8.5" font-family='"Liberation Serif", serif' font-weight="bold" fill="#000">0</text>
<line x1="204.96" y1="380.5" x2="204.96" y2="384.5" stroke="#8a8a8a" stroke-width="0.9"/>
<text x="204.96" y="395.5" text-anchor="middle" font-size="8.5" font-family='"Liberation Serif", serif' font-weight="bold" fill="#000">2</text>
<line x1="35.45" y1="223.98" x2="31.45" y2="223.98" stroke="#8a8a8a" stroke-width="0.9"/>
<text transform="translate(25,223.98) rotate(-90)" text-anchor="middle" font-size="8.5" font-family='"Liberation Serif", serif' font-weight="bold" fill="#000">10</text>
<line x1="35.45" y1="254.09" x2="31.45" y2="254.09" stroke="#8a8a8a" stroke-width="0.9"/>
<text transform="translate(25,254.09) rotate(-90)" text-anchor="middle" font-size="8.5" font-family='"Liberation Serif", serif' font-weight="bold" fill="#000">5</text>
<line x1="35.45" y1="284.2" x2="31.45" y2="284.2" stroke="#8a8a8a" stroke-width="0.9"/>
<text transform="translate(25,284.2) rotate(-90)" text-anchor="middle" font-size="8.5" font-family='"Liberation Serif", serif' font-weight="bold" fill="#000">0</text>
<line x1="35.45" y1="314.31" x2="31.45" y2="314.31" stroke="#8a8a8a" stroke-width="0.9"/>
<text transform="translate(25,314.31) rotate(-90)" text-anchor="middle" font-size="8.5" font-family='"Liberation Serif", serif' font-weight="bold" fill="#000">-5</text>
<line x1="35.45" y1="344.42" x2="31.45" y2="344.42" stroke="#8a8a8a" stroke-width="0.9"/>
<text transform="translate(25,344.42) rotate(-90)" text-anchor="middle" font-size="8.5" font-family='"Liberation Serif", serif' font-weight="bold" fill="#000">-10</text>
<line x1="35.45" y1="374.53" x2="31.45" y2="374.53" stroke="#8a8a8a" stroke-width="0.9"/>
<text transform="translate(25,374.53) rotate(-90)" text-anchor="middle" font-size="8.5" font-family='"Liberation Serif", serif' font-weight="bold" fill="#000">-15</text>
<circle cx="42.9" cy="224.1" r="1.4" fill="none" stroke="#5a5a5a" stroke-width="0.65"/>
<text x="49.3" y="226.8" text-anchor="start" font-size="7.4" font-family='"Liberation Serif", serif' font-weight="bold" fill="#000">gr1</text>
<path d="M66 222.56L67.4 225.08L64.6 225.08Z" fill="none" stroke="#666666" stroke-width="0.65"/>
<text x="72.4" y="226.8" text-anchor="start" font-size="7.4" font-family='"Liberation Serif", serif' font-weight="bold" fill="#000">gr2</text>
<path d="M87.7 224.1H90.5M89.1 222.7V225.5" stroke="#7860d8" stroke-width="0.75"/>
<text x="95.5" y="226.8" text-anchor="start" font-size="7.4" font-family='"Liberation Serif", serif' font-weight="bold" fill="#000">gr3</text>
<path d="M111.08 222.98L113.32 225.22M111.08 225.22L113.32 222.98" stroke="#5a5a6a" stroke-width="0.75"/>
<text x="118.6" y="226.8" text-anchor="start" font-size="7.4" font-family='"Liberation Serif", serif' font-weight="bold" fill="#000">gr4</text>
<path d="M135.3 222.7L136.7 224.1L135.3 225.5L133.9 224.1Z" fill="none" stroke="#6a6a6a" stroke-width="0.65"/>
<text x="141.7" y="226.8" text-anchor="start" font-size="7.4" font-family='"Liberation Serif", serif' font-weight="bold" fill="#000">gr5</text>
<path d="M158.4 225.64L159.8 223.12L157 223.12Z" fill="none" stroke="#d86a8e" stroke-width="0.65"/>
<text x="164.8" y="226.8" text-anchor="start" font-size="7.4" font-family='"Liberation Serif", serif' font-weight="bold" fill="#000">gr6</text>
<path d="M180.38 222.98h2.24v2.24h-2.24ZM180.38 222.98L182.62 225.22M180.38 225.22L182.62 222.98" fill="#9072d0" fill-opacity="0.3" stroke="#9072d0" stroke-width="0.7"/>
<text x="187.9" y="226.8" text-anchor="start" font-size="7.4" font-family='"Liberation Serif", serif' font-weight="bold" fill="#000">gr7</text>
<path d="M203.2 224.1H206M204.6 222.7V225.5M203.55 223.05L205.65 225.15M203.55 225.15L205.65 223.05" stroke="#98d864" stroke-width="0.75"/>
<text x="211" y="226.8" text-anchor="start" font-size="7.4" font-family='"Liberation Serif", serif' font-weight="bold" fill="#000">gr8</text>
<path d="M227.7 222.7L229.1 224.1L227.7 225.5L226.3 224.1Z" fill="#a2de6c" fill-opacity="0.5" stroke="#a2de6c" stroke-width="0.7"/>
<text x="234.1" y="226.8" text-anchor="start" font-size="7.4" font-family='"Liberation Serif", serif' font-weight="bold" fill="#000">gr9</text>
<text x="133.3" y="409" text-anchor="middle" font-size="8.7" font-family='"Liberation Serif", serif' font-weight="bold" fill="#000">t[1]P</text>
<text transform="translate(10.3,299.2) rotate(-90)" text-anchor="middle" font-size="8.7" font-family='"Liberation Serif", serif' font-weight="bold" fill="#000">t[2]O</text>
<text x="0.5" y="216.6" text-anchor="start" font-size="11.3" font-family='"Liberation Sans", sans-serif' font-weight="bold" fill="#000">C</text>
<g fill="#72b6e2"><circle cx="313.7" cy="273.1" r="1.6"/><circle cx="331" cy="281.9" r="1.6"/><circle cx="338.7" cy="275.6" r="1.6"/><circle cx="347.7" cy="268.8" r="1.6"/><circle cx="347.3" cy="278.8" r="1.6"/><circle cx="349.2" cy="284.6" r="1.6"/><circle cx="369.4" cy="257.3" r="1.6"/><circle cx="359.8" cy="275.6" r="1.6"/><circle cx="363.7" cy="271.2" r="1.6"/><circle cx="366.5" cy="272.7" r="1.6"/><circle cx="366.5" cy="276.5" r="1.6"/><circle cx="366.2" cy="286.2" r="1.6"/><circle cx="373.3" cy="277.5" r="1.6"/><circle cx="356.9" cy="292.9" r="1.6"/><circle cx="362.3" cy="292.3" r="1.6"/><circle cx="373.8" cy="291" r="1.6"/><circle cx="378.1" cy="293.5" r="1.6"/><circle cx="362.3" cy="316.5" r="1.6"/><circle cx="380" cy="282.3" r="1.6"/><circle cx="381.9" cy="279.4" r="1.6"/><circle cx="389.6" cy="266.9" r="1.6"/><circle cx="397.3" cy="259.2" r="1.6"/><circle cx="399.2" cy="261.5" r="1.6"/><circle cx="389.6" cy="271.7" r="1.6"/><circle cx="395.4" cy="268.8" r="1.6"/><circle cx="396.9" cy="258.5" r="1.6"/><circle cx="399.2" cy="262" r="1.6"/><circle cx="389.2" cy="266.9" r="1.6"/><circle cx="429.2" cy="266.2" r="1.6"/><circle cx="414.6" cy="265.4" r="1.6"/><circle cx="446.9" cy="292.3" r="1.6"/><circle cx="438.2" cy="296.9" r="1.6"/><circle cx="406.9" cy="305.4" r="1.6"/><circle cx="417.7" cy="289.2" r="1.6"/><circle cx="446.7" cy="292.2" r="1.6"/><circle cx="362.3" cy="316" r="1.6"/><circle cx="382.3" cy="327.1" r="1.6"/><circle cx="354" cy="340.6" r="1.6"/><circle cx="383.8" cy="340.6" r="1.6"/><circle cx="384.8" cy="361.5" r="1.6"/><circle cx="384.8" cy="370.2" r="1.6"/><circle cx="406.3" cy="305.5" r="1.6"/><circle cx="384" cy="285" r="1.6"/><circle cx="387" cy="280" r="1.6"/><circle cx="392" cy="276" r="1.6"/><circle cx="386" cy="289" r="1.6"/><circle cx="393" cy="270" r="1.6"/><circle cx="401" cy="272" r="1.6"/><circle cx="404" cy="283" r="1.6"/><circle cx="378" cy="278" r="1.6"/><circle cx="390" cy="287" r="1.6"/><circle cx="409" cy="276" r="1.6"/></g>
<g fill="#cc0a0a"><circle cx="396.82" cy="268.38" r="1.6"/><circle cx="418.77" cy="279.99" r="1.6"/><circle cx="412.25" cy="277.65" r="1.6"/><circle cx="417.29" cy="269.57" r="1.6"/><circle cx="412.99" cy="280.83" r="1.6"/><circle cx="424.32" cy="279.3" r="1.6"/><circle cx="409.68" cy="275.51" r="1.6"/><circle cx="429.67" cy="282.37" r="1.6"/><circle cx="419.86" cy="266.94" r="1.6"/><circle cx="411.31" cy="278.54" r="1.6"/><circle cx="414.21" cy="282.67" r="1.6"/><circle cx="408.95" cy="281.41" r="1.6"/><circle cx="429.02" cy="288.15" r="1.6"/><circle cx="411.66" cy="268.79" r="1.6"/><circle cx="420.72" cy="266.18" r="1.6"/><circle cx="409.72" cy="281.03" r="1.6"/><circle cx="392.24" cy="282.87" r="1.6"/><circle cx="430.5" cy="297.02" r="1.6"/><circle cx="399.07" cy="284.24" r="1.6"/><circle cx="426.87" cy="271.57" r="1.6"/><circle cx="422.72" cy="285.85" r="1.6"/><circle cx="389.5" cy="271.81" r="1.6"/><circle cx="400.89" cy="266.37" r="1.6"/><circle cx="407.77" cy="301.18" r="1.6"/><circle cx="402.87" cy="281.77" r="1.6"/><circle cx="397.09" cy="285.08" r="1.6"/><circle cx="427.84" cy="283.79" r="1.6"/><circle cx="412.17" cy="294.4" r="1.6"/><circle cx="422.17" cy="281.41" r="1.6"/><circle cx="409.11" cy="289.35" r="1.6"/><circle cx="420.89" cy="270.27" r="1.6"/><circle cx="403.98" cy="267.17" r="1.6"/><circle cx="415.58" cy="291.13" r="1.6"/><circle cx="425.31" cy="291.54" r="1.6"/><circle cx="416.72" cy="283.34" r="1.6"/><circle cx="408.69" cy="280.92" r="1.6"/><circle cx="398.61" cy="280.41" r="1.6"/><circle cx="418.68" cy="273.15" r="1.6"/><circle cx="421.52" cy="292.08" r="1.6"/><circle cx="411.87" cy="284.6" r="1.6"/><circle cx="403.69" cy="283.3" r="1.6"/><circle cx="424.68" cy="282.2" r="1.6"/><circle cx="455.71" cy="287.91" r="1.6"/><circle cx="411.16" cy="283.29" r="1.6"/><circle cx="421.39" cy="285.34" r="1.6"/><circle cx="422.04" cy="269.06" r="1.6"/><circle cx="417.98" cy="297.59" r="1.6"/><circle cx="404.7" cy="274.59" r="1.6"/><circle cx="438.16" cy="277.9" r="1.6"/><circle cx="411.94" cy="286.58" r="1.6"/><circle cx="403.56" cy="287.14" r="1.6"/><circle cx="412.5" cy="284.31" r="1.6"/><circle cx="418.66" cy="265.25" r="1.6"/><circle cx="407.04" cy="283.26" r="1.6"/><circle cx="415.16" cy="268.94" r="1.6"/><circle cx="394.33" cy="271.99" r="1.6"/><circle cx="412.4" cy="283.66" r="1.6"/><circle cx="428.41" cy="276.49" r="1.6"/><circle cx="447.51" cy="285.88" r="1.6"/><circle cx="427.3" cy="305.76" r="1.6"/><circle cx="420.35" cy="285.61" r="1.6"/><circle cx="434.94" cy="285.14" r="1.6"/><circle cx="432.31" cy="271.39" r="1.6"/><circle cx="442.62" cy="273.53" r="1.6"/><circle cx="433.32" cy="269.96" r="1.6"/><circle cx="414.11" cy="274.47" r="1.6"/><circle cx="420.14" cy="269.72" r="1.6"/><circle cx="418.87" cy="273.39" r="1.6"/><circle cx="420.83" cy="277.23" r="1.6"/><circle cx="419.21" cy="270.5" r="1.6"/><circle cx="403.48" cy="266.94" r="1.6"/><circle cx="382.34" cy="267.43" r="1.6"/><circle cx="405.25" cy="282.86" r="1.6"/><circle cx="383.58" cy="279.51" r="1.6"/><circle cx="417.09" cy="287.72" r="1.6"/><circle cx="416.07" cy="287.88" r="1.6"/><circle cx="389.19" cy="276.1" r="1.6"/><circle cx="427.01" cy="284.7" r="1.6"/><circle cx="429.87" cy="266.76" r="1.6"/><circle cx="417.53" cy="298.41" r="1.6"/><circle cx="442.68" cy="289.16" r="1.6"/><circle cx="445.95" cy="277.17" r="1.6"/><circle cx="396.7" cy="269.11" r="1.6"/><circle cx="432.59" cy="282.23" r="1.6"/><circle cx="423.05" cy="263.1" r="1.6"/><circle cx="422.69" cy="272.38" r="1.6"/><circle cx="430.95" cy="285.36" r="1.6"/><circle cx="404.49" cy="279.64" r="1.6"/><circle cx="406.52" cy="274.83" r="1.6"/><circle cx="402.77" cy="287.08" r="1.6"/><circle cx="403.92" cy="270.17" r="1.6"/><circle cx="414.42" cy="281.42" r="1.6"/><circle cx="392.77" cy="274.77" r="1.6"/><circle cx="399.27" cy="271.8" r="1.6"/><circle cx="425.24" cy="282.94" r="1.6"/><circle cx="414.86" cy="270.56" r="1.6"/><circle cx="422.13" cy="295.17" r="1.6"/><circle cx="385.77" cy="274.03" r="1.6"/><circle cx="403.46" cy="295.91" r="1.6"/><circle cx="407.11" cy="269.7" r="1.6"/><circle cx="416.52" cy="284.15" r="1.6"/><circle cx="406.62" cy="268.8" r="1.6"/><circle cx="430.93" cy="267.6" r="1.6"/><circle cx="415.07" cy="280.36" r="1.6"/><circle cx="416.27" cy="284.76" r="1.6"/><circle cx="416.22" cy="268.17" r="1.6"/><circle cx="427.33" cy="289.07" r="1.6"/><circle cx="408.45" cy="272.22" r="1.6"/><circle cx="433.96" cy="280.12" r="1.6"/><circle cx="423.36" cy="282.23" r="1.6"/><circle cx="418.46" cy="284.05" r="1.6"/><circle cx="416.67" cy="263.72" r="1.6"/><circle cx="424.32" cy="292.76" r="1.6"/><circle cx="432.25" cy="283.78" r="1.6"/><circle cx="431.13" cy="275.38" r="1.6"/><circle cx="422.01" cy="270.29" r="1.6"/><circle cx="430.03" cy="264.6" r="1.6"/><circle cx="417.89" cy="267.43" r="1.6"/><circle cx="436.04" cy="283.63" r="1.6"/><circle cx="415.57" cy="276.1" r="1.6"/><circle cx="382.8" cy="269.38" r="1.6"/><circle cx="437.41" cy="274.52" r="1.6"/><circle cx="417.73" cy="292.29" r="1.6"/><circle cx="397.26" cy="276.19" r="1.6"/><circle cx="412.83" cy="274.03" r="1.6"/><circle cx="401.86" cy="290.48" r="1.6"/><circle cx="449.6" cy="282.93" r="1.6"/><circle cx="423.96" cy="279.38" r="1.6"/><circle cx="390.9" cy="273.83" r="1.6"/><circle cx="424.74" cy="265.8" r="1.6"/><circle cx="409.62" cy="269.05" r="1.6"/><circle cx="446.67" cy="274.92" r="1.6"/><circle cx="399.16" cy="277.13" r="1.6"/><circle cx="380.05" cy="282.03" r="1.6"/><circle cx="417.05" cy="283.69" r="1.6"/><circle cx="410.43" cy="280.89" r="1.6"/><circle cx="409.33" cy="280.87" r="1.6"/><circle cx="381.74" cy="270.44" r="1.6"/><circle cx="422.83" cy="260.68" r="1.6"/><circle cx="442.77" cy="274.57" r="1.6"/><circle cx="385.46" cy="270.89" r="1.6"/><circle cx="434.74" cy="273.45" r="1.6"/><circle cx="406.9" cy="276.67" r="1.6"/><circle cx="453.58" cy="268.43" r="1.6"/><circle cx="422.98" cy="269.56" r="1.6"/><circle cx="412.99" cy="278.15" r="1.6"/><circle cx="433.69" cy="279.98" r="1.6"/><circle cx="424.42" cy="273.42" r="1.6"/><circle cx="406.52" cy="283.24" r="1.6"/><circle cx="427.36" cy="277.13" r="1.6"/><circle cx="407.83" cy="270.33" r="1.6"/><circle cx="387.38" cy="279.35" r="1.6"/><circle cx="448.51" cy="295" r="1.6"/><circle cx="410.41" cy="273.26" r="1.6"/><circle cx="406.26" cy="288.91" r="1.6"/><circle cx="421.42" cy="290.71" r="1.6"/><circle cx="391.05" cy="291.73" r="1.6"/><circle cx="394.34" cy="272.01" r="1.6"/><circle cx="408.01" cy="296.13" r="1.6"/><circle cx="407.68" cy="279.99" r="1.6"/><circle cx="417.15" cy="276.84" r="1.6"/><circle cx="433.96" cy="277.04" r="1.6"/><circle cx="408.42" cy="284.11" r="1.6"/><circle cx="423.88" cy="279.43" r="1.6"/><circle cx="425.62" cy="277.5" r="1.6"/><circle cx="398.65" cy="289.91" r="1.6"/><circle cx="419.66" cy="272.86" r="1.6"/><circle cx="400.92" cy="270.13" r="1.6"/><circle cx="433.02" cy="285.74" r="1.6"/><circle cx="423.28" cy="284.98" r="1.6"/><circle cx="416.26" cy="288.3" r="1.6"/><circle cx="394.56" cy="269.89" r="1.6"/><circle cx="417.86" cy="288.19" r="1.6"/><circle cx="403.73" cy="283.1" r="1.6"/><circle cx="427.3" cy="293.98" r="1.6"/><circle cx="414.09" cy="268.39" r="1.6"/><circle cx="403" cy="280.86" r="1.6"/><circle cx="430.81" cy="276.64" r="1.6"/><circle cx="427.54" cy="265.49" r="1.6"/><circle cx="406.51" cy="272.92" r="1.6"/><circle cx="434.59" cy="288.58" r="1.6"/><circle cx="411.23" cy="275.01" r="1.6"/><circle cx="411.05" cy="272.86" r="1.6"/><circle cx="417.98" cy="286.38" r="1.6"/><circle cx="403.96" cy="287.41" r="1.6"/><circle cx="408.93" cy="287.39" r="1.6"/><circle cx="413.43" cy="272.29" r="1.6"/><circle cx="440.48" cy="278.51" r="1.6"/><circle cx="439.99" cy="287.76" r="1.6"/><circle cx="411.86" cy="273.42" r="1.6"/><circle cx="441.77" cy="272.63" r="1.6"/><circle cx="415.31" cy="286.04" r="1.6"/><circle cx="422.09" cy="292.28" r="1.6"/><circle cx="430.14" cy="269.21" r="1.6"/><circle cx="420.67" cy="256.92" r="1.6"/><circle cx="454.64" cy="266.67" r="1.6"/><circle cx="419.89" cy="270.39" r="1.6"/><circle cx="396.84" cy="277.83" r="1.6"/><circle cx="436.89" cy="284.23" r="1.6"/><circle cx="409.41" cy="277.75" r="1.6"/><circle cx="411.13" cy="273.05" r="1.6"/><circle cx="432.02" cy="270.82" r="1.6"/><circle cx="429.1" cy="278.6" r="1.6"/><circle cx="428.78" cy="273.55" r="1.6"/><circle cx="431.65" cy="301.78" r="1.6"/><circle cx="443.06" cy="285.94" r="1.6"/><circle cx="415.26" cy="271.9" r="1.6"/><circle cx="431" cy="270.53" r="1.6"/><circle cx="404.1" cy="275.28" r="1.6"/><circle cx="410.34" cy="265.02" r="1.6"/><circle cx="432.91" cy="272.79" r="1.6"/><circle cx="422.26" cy="272.73" r="1.6"/><circle cx="394.67" cy="286.51" r="1.6"/><circle cx="421.78" cy="275.37" r="1.6"/><circle cx="413.07" cy="272.28" r="1.6"/><circle cx="402.9" cy="267.61" r="1.6"/><circle cx="422.95" cy="269" r="1.6"/><circle cx="409.53" cy="278.44" r="1.6"/><circle cx="390.87" cy="277.17" r="1.6"/><circle cx="398.22" cy="288.64" r="1.6"/><circle cx="444.31" cy="273.65" r="1.6"/><circle cx="391.76" cy="288" r="1.6"/><circle cx="419.56" cy="281.19" r="1.6"/><circle cx="425.76" cy="278.96" r="1.6"/><circle cx="426.23" cy="261.93" r="1.6"/><circle cx="396.39" cy="268.03" r="1.6"/><circle cx="410.86" cy="285.3" r="1.6"/><circle cx="418.25" cy="290.88" r="1.6"/><circle cx="428.8" cy="280.75" r="1.6"/><circle cx="405.68" cy="285.48" r="1.6"/><circle cx="397.38" cy="275.53" r="1.6"/><circle cx="432.04" cy="275.84" r="1.6"/><circle cx="433.68" cy="273.36" r="1.6"/><circle cx="421.92" cy="287.28" r="1.6"/><circle cx="406.26" cy="281.91" r="1.6"/><circle cx="422.51" cy="277.01" r="1.6"/><circle cx="417.75" cy="276.21" r="1.6"/><circle cx="429.4" cy="283.73" r="1.6"/><circle cx="366.2" cy="294.2" r="1.6"/><circle cx="381.9" cy="308.3" r="1.6"/><circle cx="385.4" cy="301.5" r="1.6"/><circle cx="382.9" cy="298.1" r="1.6"/><circle cx="383.5" cy="293.8" r="1.6"/><circle cx="393.5" cy="261.5" r="1.6"/><circle cx="377.1" cy="274.6" r="1.6"/><circle cx="379" cy="275.6" r="1.6"/><circle cx="437.2" cy="239.5" r="1.6"/><circle cx="439.7" cy="253.1" r="1.6"/><circle cx="442.8" cy="256.5" r="1.6"/><circle cx="422.3" cy="258.5" r="1.6"/><circle cx="433.1" cy="261.5" r="1.6"/><circle cx="436.9" cy="262.3" r="1.6"/><circle cx="393.1" cy="261.5" r="1.6"/><circle cx="413.8" cy="260.5" r="1.6"/><circle cx="382.3" cy="297.7" r="1.6"/><circle cx="385.4" cy="300.8" r="1.6"/><circle cx="392.3" cy="294.6" r="1.6"/><circle cx="396.6" cy="300.8" r="1.6"/><circle cx="402.8" cy="305.4" r="1.6"/><circle cx="410.8" cy="302.3" r="1.6"/><circle cx="416.9" cy="298.5" r="1.6"/><circle cx="422.3" cy="293.1" r="1.6"/><circle cx="429.2" cy="297.7" r="1.6"/><circle cx="428.5" cy="303" r="1.6"/><circle cx="436.9" cy="308.5" r="1.6"/><circle cx="441.5" cy="301.5" r="1.6"/><circle cx="443.1" cy="293.1" r="1.6"/><circle cx="448.5" cy="296.2" r="1.6"/><circle cx="452.3" cy="278.5" r="1.6"/><circle cx="447.7" cy="282.3" r="1.6"/><circle cx="455.4" cy="291.5" r="1.6"/><circle cx="416.9" cy="307.7" r="1.6"/><circle cx="502.7" cy="282.3" r="1.6"/><circle cx="443" cy="256.5" r="1.6"/><circle cx="445" cy="267" r="1.6"/><circle cx="447.5" cy="270.7" r="1.6"/><circle cx="445.2" cy="275.2" r="1.6"/><circle cx="447.2" cy="276" r="1.6"/><circle cx="453.2" cy="278.2" r="1.6"/><circle cx="465.8" cy="279.7" r="1.6"/><circle cx="460.2" cy="281.2" r="1.6"/><circle cx="461.7" cy="282.4" r="1.6"/><circle cx="451.2" cy="282.3" r="1.6"/><circle cx="447.2" cy="282" r="1.6"/><circle cx="443.7" cy="283.2" r="1.6"/><circle cx="455" cy="291" r="1.6"/><circle cx="461" cy="291.7" r="1.6"/><circle cx="460.2" cy="293.2" r="1.6"/><circle cx="448.2" cy="295.8" r="1.6"/><circle cx="461" cy="298.5" r="1.6"/><circle cx="466.2" cy="301.5" r="1.6"/><circle cx="446.7" cy="300.3" r="1.6"/><circle cx="441.5" cy="300.7" r="1.6"/><circle cx="443" cy="303.7" r="1.6"/><circle cx="446.7" cy="316.5" r="1.6"/><circle cx="452.3" cy="319.2" r="1.6"/><circle cx="459.5" cy="318.3" r="1.6"/><circle cx="385.4" cy="301.5" r="1.6"/><circle cx="396.2" cy="301" r="1.6"/><circle cx="382.3" cy="307.7" r="1.6"/><circle cx="403.2" cy="305.5" r="1.6"/><circle cx="410.6" cy="303" r="1.6"/><circle cx="407.8" cy="310.8" r="1.6"/><circle cx="417.7" cy="310.2" r="1.6"/><circle cx="427.8" cy="303" r="1.6"/><circle cx="427.8" cy="316.9" r="1.6"/><circle cx="437.1" cy="309.8" r="1.6"/><circle cx="437.7" cy="314.5" r="1.6"/><circle cx="442.3" cy="303.7" r="1.6"/><circle cx="446.9" cy="316" r="1.6"/><circle cx="452.5" cy="319.4" r="1.6"/><circle cx="459.2" cy="318.5" r="1.6"/><circle cx="445.4" cy="326.2" r="1.6"/><circle cx="486.9" cy="326.2" r="1.6"/><circle cx="440.8" cy="336.3" r="1.6"/><circle cx="390.9" cy="339.1" r="1.6"/><circle cx="407.8" cy="344.6" r="1.6"/><circle cx="466" cy="301.5" r="1.6"/></g>
<g fill="#111"><circle cx="404.6" cy="266.9" r="1.6"/><circle cx="416.2" cy="270" r="1.6"/><circle cx="419.2" cy="265.4" r="1.6"/><circle cx="412.3" cy="282.3" r="1.6"/><circle cx="424.6" cy="283.8" r="1.6"/><circle cx="434.6" cy="279.2" r="1.6"/><circle cx="443.8" cy="271.2" r="1.6"/><circle cx="455.4" cy="285.4" r="1.6"/><circle cx="454.6" cy="297.4" r="1.6"/><circle cx="461.4" cy="265" r="1.6"/><circle cx="513" cy="280.8" r="1.6"/><circle cx="443.7" cy="271.2" r="1.6"/><circle cx="455" cy="285" r="1.6"/><circle cx="455.3" cy="286.5" r="1.6"/><circle cx="454.2" cy="297.3" r="1.6"/></g>
<rect x="305.5" y="218.6" width="213" height="163.8" fill="none" stroke="#8a8a8a" stroke-width="1.25"/>
<line x1="340.4" y1="382.4" x2="340.4" y2="386.4" stroke="#8a8a8a" stroke-width="0.9"/>
<text x="340.4" y="395" text-anchor="middle" font-size="8.5" font-family='"Liberation Serif", serif' font-weight="bold" fill="#000">-4</text>
<line x1="376.3" y1="382.4" x2="376.3" y2="386.4" stroke="#8a8a8a" stroke-width="0.9"/>
<text x="376.3" y="395" text-anchor="middle" font-size="8.5" font-family='"Liberation Serif", serif' font-weight="bold" fill="#000">-2</text>
<line x1="412.2" y1="382.4" x2="412.2" y2="386.4" stroke="#8a8a8a" stroke-width="0.9"/>
<text x="412.2" y="395" text-anchor="middle" font-size="8.5" font-family='"Liberation Serif", serif' font-weight="bold" fill="#000">0</text>
<line x1="448.1" y1="382.4" x2="448.1" y2="386.4" stroke="#8a8a8a" stroke-width="0.9"/>
<text x="448.1" y="395" text-anchor="middle" font-size="8.5" font-family='"Liberation Serif", serif' font-weight="bold" fill="#000">2</text>
<line x1="484" y1="382.4" x2="484" y2="386.4" stroke="#8a8a8a" stroke-width="0.9"/>
<text x="484" y="395" text-anchor="middle" font-size="8.5" font-family='"Liberation Serif", serif' font-weight="bold" fill="#000">4</text>
<line x1="305.5" y1="230.02" x2="301.5" y2="230.02" stroke="#8a8a8a" stroke-width="0.9"/>
<text transform="translate(296.3,230.02) rotate(-90)" text-anchor="middle" font-size="8.5" font-family='"Liberation Serif", serif' font-weight="bold" fill="#000">10</text>
<line x1="305.5" y1="256.11" x2="301.5" y2="256.11" stroke="#8a8a8a" stroke-width="0.9"/>
<text transform="translate(296.3,256.11) rotate(-90)" text-anchor="middle" font-size="8.5" font-family='"Liberation Serif", serif' font-weight="bold" fill="#000">5</text>
<line x1="305.5" y1="282.2" x2="301.5" y2="282.2" stroke="#8a8a8a" stroke-width="0.9"/>
<text transform="translate(296.3,282.2) rotate(-90)" text-anchor="middle" font-size="8.5" font-family='"Liberation Serif", serif' font-weight="bold" fill="#000">0</text>
<line x1="305.5" y1="308.29" x2="301.5" y2="308.29" stroke="#8a8a8a" stroke-width="0.9"/>
<text transform="translate(296.3,308.29) rotate(-90)" text-anchor="middle" font-size="8.5" font-family='"Liberation Serif", serif' font-weight="bold" fill="#000">-5</text>
<line x1="305.5" y1="334.38" x2="301.5" y2="334.38" stroke="#8a8a8a" stroke-width="0.9"/>
<text transform="translate(296.3,334.38) rotate(-90)" text-anchor="middle" font-size="8.5" font-family='"Liberation Serif", serif' font-weight="bold" fill="#000">-10</text>
<line x1="305.5" y1="360.47" x2="301.5" y2="360.47" stroke="#8a8a8a" stroke-width="0.9"/>
<text transform="translate(296.3,360.47) rotate(-90)" text-anchor="middle" font-size="8.5" font-family='"Liberation Serif", serif' font-weight="bold" fill="#000">-15</text>
<g fill="#86b4d8"><circle cx="331.3" cy="224.9" r="1.3"/></g>
<g fill="#c01010"><circle cx="388.9" cy="224.9" r="1.3"/></g>
<g fill="#111"><circle cx="452.2" cy="224.9" r="1.3"/></g>
<text x="336.5" y="227.7" text-anchor="start" font-size="8.6" font-family='"Liberation Serif", serif' font-weight="bold" fill="#000">Favorable</text>
<text x="393.5" y="227.7" text-anchor="start" font-size="8.6" font-family='"Liberation Serif", serif' font-weight="bold" fill="#000">Intermediate</text>
<text x="456.7" y="227.7" text-anchor="start" font-size="8.6" font-family='"Liberation Serif", serif' font-weight="bold" fill="#000">Unfavorable</text>
<text x="414.4" y="409" text-anchor="middle" font-size="8.7" font-family='"Liberation Serif", serif' font-weight="bold" fill="#000">t[1]P</text>
<text transform="translate(277.6,296) rotate(-90)" text-anchor="middle" font-size="8.7" font-family='"Liberation Serif", serif' font-weight="bold" fill="#000">t[2]O</text>
<text x="270.5" y="217.2" text-anchor="start" font-size="11.3" font-family='"Liberation Sans", sans-serif' font-weight="bold" fill="#000">D</text>
<text x="0.3" y="433.6" text-anchor="start" font-size="11.3" font-family='"Liberation Sans", sans-serif' font-weight="bold" fill="#000">E</text>
<text x="188" y="431.3" text-anchor="middle" font-size="8.6" font-family='"Liberation Serif", serif' font-weight="bold" fill="#000">Training set</text>
<text x="408.6" y="431.5" text-anchor="middle" font-size="8.8" font-family='"Liberation Serif", serif' font-weight="bold" fill="#000">Validation set</text>
<text x="135.8" y="444.8" text-anchor="middle" font-size="8.5" font-family='"Liberation Serif", serif' font-weight="bold" fill="#000">HC (n = 260)</text>
<text x="243.8" y="444.8" text-anchor="middle" font-size="8.75" font-family='"Liberation Serif", serif' font-weight="bold" fill="#000">AML (n = 229)</text>
<text x="355.3" y="444.4" text-anchor="middle" font-size="8.5" font-family='"Liberation Serif", serif' font-weight="bold" fill="#000">HC (n = 186)</text>
<text x="465.4" y="444.4" text-anchor="middle" font-size="8.75" font-family='"Liberation Serif", serif' font-weight="bold" fill="#000">AML (n = 171)</text>
<rect x="78.2" y="448.1" width="115.6" height="4.3" fill="#3b8b8c"/>
<rect x="193.8" y="448.1" width="102.2" height="4.3" fill="#e0198a"/>
<rect x="298.9" y="447.2" width="113.6" height="4.3" fill="#3b8b8c"/>
<rect x="412.5" y="447.2" width="105.3" height="4.3" fill="#e0198a"/>
<text x="73.6" y="464.35" text-anchor="end" font-size="7.6" font-family='"Liberation Serif", serif' font-weight="bold" fill="#000">Glycerol-3-phosphate</text>
<text x="73.6" y="486.05" text-anchor="end" font-size="7.6" font-family='"Liberation Serif", serif' font-weight="bold" fill="#000">Pyruvate</text>
<text x="73.6" y="505.35" text-anchor="end" font-size="7.6" font-family='"Liberation Serif", serif' font-weight="bold" fill="#000">Lactate</text>
<text x="73.6" y="524.65" text-anchor="end" font-size="7.6" font-family='"Liberation Serif", serif' font-weight="bold" fill="#000">Citrate</text>
<text x="73.6" y="543.95" text-anchor="end" font-size="7.6" font-family='"Liberation Serif", serif' font-weight="bold" fill="#000">2-Oxoglutarate</text>
<text x="73.6" y="563.25" text-anchor="end" font-size="7.6" font-family='"Liberation Serif", serif' font-weight="bold" fill="#000">2-Hydroxyglutarate</text>
<g shape-rendering="crispEdges"><rect x="78.1" y="454.5" width="0.92" height="19.3" fill="#838eb1"/><rect x="79" y="454.5" width="1.02" height="19.3" fill="#6a4d9b"/><rect x="80" y="454.5" width="1.02" height="19.3" fill="#7150a3"/><rect x="81" y="454.5" width="1.02" height="19.3" fill="#916ec1"/><rect x="82" y="454.5" width="1.02" height="19.3" fill="#3f62e1"/><rect x="83" y="454.5" width="1.02" height="19.3" fill="#3d60e0"/><rect x="84" y="454.5" width="1.02" height="19.3" fill="#3f63e5"/><rect x="85" y="454.5" width="1.02" height="19.3" fill="#809fda"/><rect x="86" y="454.5" width="1.02" height="19.3" fill="#71a29e"/><rect x="87" y="454.5" width="1.02" height="19.3" fill="#6f9da2"/><rect x="88" y="454.5" width="1.02" height="19.3" fill="#9bdfd6"/><rect x="89" y="454.5" width="1.02" height="19.3" fill="#5ca091"/><rect x="90" y="454.5" width="1.02" height="19.3" fill="#7dd174"/><rect x="91" y="454.5" width="1.02" height="19.3" fill="#83cb6d"/><rect x="92" y="454.5" width="1.02" height="19.3" fill="#abf3a2"/><rect x="93" y="454.5" width="1.02" height="19.3" fill="#c2dd3d"/><rect x="94" y="454.5" width="1.02" height="19.3" fill="#c0e03d"/><rect x="95" y="454.5" width="1.02" height="19.3" fill="#e0e241"/><rect x="96" y="454.5" width="1.02" height="19.3" fill="#9d9a3f"/><rect x="97" y="454.5" width="1.02" height="19.3" fill="#e09f3f"/><rect x="98" y="454.5" width="1.02" height="19.3" fill="#dea240"/><rect x="99" y="454.5" width="1.02" height="19.3" fill="#a03d2c"/><rect x="100" y="454.5" width="1.02" height="19.3" fill="#9f4431"/><rect x="101" y="454.5" width="1.02" height="19.3" fill="#e4d09f"/><rect x="102" y="454.5" width="1.02" height="19.3" fill="#ac6e44"/><rect x="103" y="454.5" width="1.02" height="19.3" fill="#b17242"/><rect x="104" y="454.5" width="1.02" height="19.3" fill="#b06f40"/><rect x="105" y="454.5" width="1.02" height="19.3" fill="#727131"/><rect x="106" y="454.5" width="1.02" height="19.3" fill="#c0e66f"/><rect x="107" y="454.5" width="1.02" height="19.3" fill="#af472f"/><rect x="108" y="454.5" width="1.02" height="19.3" fill="#ad4034"/><rect x="109" y="454.5" width="1.02" height="19.3" fill="#b04230"/><rect x="110" y="454.5" width="1.02" height="19.3" fill="#af4930"/><rect x="111" y="454.5" width="1.02" height="19.3" fill="#ae3f31"/><rect x="112" y="454.5" width="1.02" height="19.3" fill="#a1f2a0"/><rect x="113" y="454.5" width="1.02" height="19.3" fill="#9cf29f"/><rect x="114" y="454.5" width="1.02" height="19.3" fill="#9fec9e"/><rect x="115" y="454.5" width="1.02" height="19.3" fill="#9ef09c"/><rect x="116" y="454.5" width="1.02" height="19.3" fill="#6858bd"/><rect x="117" y="454.5" width="1.02" height="19.3" fill="#6655c3"/><rect x="118" y="454.5" width="1.02" height="19.3" fill="#6057bb"/><rect x="119" y="454.5" width="1.02" height="19.3" fill="#675bbe"/><rect x="120" y="454.5" width="1.02" height="19.3" fill="#f0cd56"/><rect x="121" y="454.5" width="1.02" height="19.3" fill="#f3d34c"/><rect x="122" y="454.5" width="1.02" height="19.3" fill="#bdb33f"/><rect x="123" y="454.5" width="1.02" height="19.3" fill="#bfb13c"/><rect x="124" y="454.5" width="1.02" height="19.3" fill="#925041"/><rect x="125" y="454.5" width="1.02" height="19.3" fill="#8e523e"/><rect x="126" y="454.5" width="1.02" height="19.3" fill="#935343"/><rect x="127" y="454.5" width="1.02" height="19.3" fill="#925238"/><rect x="128" y="454.5" width="1.02" height="19.3" fill="#c3bf50"/><rect x="129" y="454.5" width="1.02" height="19.3" fill="#bfbc4e"/><rect x="130" y="454.5" width="1.02" height="19.3" fill="#e2f4be"/><rect x="131" y="454.5" width="1.02" height="19.3" fill="#3d442d"/><rect x="132" y="454.5" width="1.02" height="19.3" fill="#46402d"/><rect x="133" y="454.5" width="1.02" height="19.3" fill="#c3f57c"/><rect x="134" y="454.5" width="1.02" height="19.3" fill="#c5ef84"/><rect x="135" y="454.5" width="1.02" height="19.3" fill="#bfeb82"/><rect x="136" y="454.5" width="2.02" height="19.3" fill="#bfe54d"/><rect x="138" y="454.5" width="3.02" height="19.3" fill="#80b8f5"/><rect x="141" y="454.5" width="2.02" height="19.3" fill="#a7a441"/><rect x="143" y="454.5" width="1.02" height="19.3" fill="#90f3bb"/><rect x="144" y="454.5" width="3.02" height="19.3" fill="#e78648"/><rect x="147" y="454.5" width="2.02" height="19.3" fill="#6c37a4"/><rect x="149" y="454.5" width="3.02" height="19.3" fill="#ab9936"/><rect x="152" y="454.5" width="2.02" height="19.3" fill="#ccedcb"/><rect x="154" y="454.5" width="1.02" height="19.3" fill="#83b9f1"/><rect x="155" y="454.5" width="3.02" height="19.3" fill="#6c32a5"/><rect x="158" y="454.5" width="1.02" height="19.3" fill="#eb9740"/><rect x="159" y="454.5" width="3.02" height="19.3" fill="#ab9d2c"/><rect x="162" y="454.5" width="1.02" height="19.3" fill="#d72b2d"/><rect x="163" y="454.5" width="2.02" height="19.3" fill="#95e6c1"/><rect x="165" y="454.5" width="1.02" height="19.3" fill="#6198a7"/><rect x="166" y="454.5" width="3.02" height="19.3" fill="#80aee6"/><rect x="169" y="454.5" width="1.02" height="19.3" fill="#1f32d8"/><rect x="170" y="454.5" width="1.02" height="19.3" fill="#242ecf"/><rect x="171" y="454.5" width="2.02" height="19.3" fill="#ed953e"/><rect x="173" y="454.5" width="2.02" height="19.3" fill="#69a3b1"/><rect x="175" y="454.5" width="4.02" height="19.3" fill="#79b9f2"/><rect x="179" y="454.5" width="4.02" height="19.3" fill="#9d563c"/><rect x="183" y="454.5" width="3.02" height="19.3" fill="#995d3b"/><rect x="186" y="454.5" width="4.02" height="19.3" fill="#a49f41"/><rect x="190" y="454.5" width="2.02" height="19.3" fill="#7dc6ee"/><rect x="192" y="454.5" width="1.02" height="19.3" fill="#763aac"/><rect x="193" y="454.5" width="1.02" height="19.3" fill="#2534d8"/><rect x="194" y="454.5" width="1.02" height="19.3" fill="#1e2dd9"/><rect x="195" y="454.5" width="1.02" height="19.3" fill="#2434d4"/><rect x="196" y="454.5" width="3.02" height="19.3" fill="#2337de"/><rect x="199" y="454.5" width="2.02" height="19.3" fill="#6934a3"/><rect x="201" y="454.5" width="4.02" height="19.3" fill="#643dac"/><rect x="205" y="454.5" width="2.02" height="19.3" fill="#2d36da"/><rect x="207" y="454.5" width="2.02" height="19.3" fill="#648ec4"/><rect x="209" y="454.5" width="2.02" height="19.3" fill="#6337aa"/><rect x="211" y="454.5" width="2.02" height="19.3" fill="#2733d1"/><rect x="213" y="454.5" width="2.02" height="19.3" fill="#78b8f7"/><rect x="215" y="454.5" width="3.02" height="19.3" fill="#9a7fb4"/><rect x="218" y="454.5" width="2.02" height="19.3" fill="#657bb6"/><rect x="220" y="454.5" width="2.02" height="19.3" fill="#673ea6"/><rect x="222" y="454.5" width="2.02" height="19.3" fill="#687db9"/><rect x="224" y="454.5" width="3.02" height="19.3" fill="#1f2c91"/><rect x="227" y="454.5" width="2.02" height="19.3" fill="#74b4f4"/><rect x="229" y="454.5" width="2.02" height="19.3" fill="#a57cc9"/><rect x="231" y="454.5" width="3.02" height="19.3" fill="#6232a1"/><rect x="234" y="454.5" width="2.02" height="19.3" fill="#211d9e"/><rect x="236" y="454.5" width="2.02" height="19.3" fill="#142dd0"/><rect x="238" y="454.5" width="3.02" height="19.3" fill="#752fa2"/><rect x="241" y="454.5" width="7.02" height="19.3" fill="#272193"/><rect x="248" y="454.5" width="1.02" height="19.3" fill="#6735a8"/><rect x="249" y="454.5" width="2.02" height="19.3" fill="#2233d8"/><rect x="251" y="454.5" width="2.02" height="19.3" fill="#637db9"/><rect x="253" y="454.5" width="1.02" height="19.3" fill="#948cc0"/><rect x="254" y="454.5" width="4.02" height="19.3" fill="#1a31de"/><rect x="258" y="454.5" width="1.02" height="19.3" fill="#6d47a2"/><rect x="259" y="454.5" width="1.02" height="19.3" fill="#a178c3"/><rect x="260" y="454.5" width="2.02" height="19.3" fill="#658ac7"/><rect x="262" y="454.5" width="3.02" height="19.3" fill="#6c33a9"/><rect x="265" y="454.5" width="4.02" height="19.3" fill="#203bdb"/><rect x="269" y="454.5" width="2.02" height="19.3" fill="#633ba3"/><rect x="271" y="454.5" width="2.02" height="19.3" fill="#22298e"/><rect x="273" y="454.5" width="3.02" height="19.3" fill="#1434ce"/><rect x="276" y="454.5" width="1.02" height="19.3" fill="#ccecc7"/><rect x="277" y="454.5" width="2.02" height="19.3" fill="#5e419f"/><rect x="279" y="454.5" width="1.02" height="19.3" fill="#7ebdef"/><rect x="280" y="454.5" width="3.02" height="19.3" fill="#6c43ab"/><rect x="283" y="454.5" width="1.02" height="19.3" fill="#1d3cd0"/><rect x="284" y="454.5" width="2.02" height="19.3" fill="#5185c5"/><rect x="286" y="454.5" width="4.02" height="19.3" fill="#293dd6"/><rect x="290" y="454.5" width="1.02" height="19.3" fill="#2a32d5"/><rect x="291" y="454.5" width="1.02" height="19.3" fill="#132be4"/><rect x="292" y="454.5" width="1.02" height="19.3" fill="#a07fbf"/><rect x="293" y="454.5" width="1.02" height="19.3" fill="#6738a2"/><rect x="294" y="454.5" width="1.02" height="19.3" fill="#2b35d7"/><rect x="295" y="454.5" width="1.02" height="19.3" fill="#1e36e5"/><rect x="78.1" y="473.8" width="0.92" height="19.3" fill="#8ffebd"/><rect x="79" y="473.8" width="1.02" height="19.3" fill="#8ef7b6"/><rect x="80" y="473.8" width="1.02" height="19.3" fill="#8bf6b7"/><rect x="81" y="473.8" width="1.02" height="19.3" fill="#84f9b8"/><rect x="82" y="473.8" width="1.02" height="19.3" fill="#94fab7"/><rect x="83" y="473.8" width="1.02" height="19.3" fill="#8ef4b6"/><rect x="84" y="473.8" width="1.02" height="19.3" fill="#86fcba"/><rect x="85" y="473.8" width="1.02" height="19.3" fill="#88f8bb"/><rect x="86" y="473.8" width="1.02" height="19.3" fill="#8df9b5"/><rect x="87" y="473.8" width="1.02" height="19.3" fill="#8af8bb"/><rect x="88" y="473.8" width="1.02" height="19.3" fill="#8af5bb"/><rect x="89" y="473.8" width="1.02" height="19.3" fill="#89fbb9"/><rect x="90" y="473.8" width="1.02" height="19.3" fill="#8ffdba"/><rect x="91" y="473.8" width="1.02" height="19.3" fill="#8ef5b6"/><rect x="92" y="473.8" width="1.02" height="19.3" fill="#8efdbc"/><rect x="93" y="473.8" width="1.02" height="19.3" fill="#93f9b9"/><rect x="94" y="473.8" width="1.02" height="19.3" fill="#8ff8b8"/><rect x="95" y="473.8" width="1.02" height="19.3" fill="#89fbb5"/><rect x="96" y="473.8" width="1.02" height="19.3" fill="#8ef4bb"/><rect x="97" y="473.8" width="1.02" height="19.3" fill="#89fbb3"/><rect x="98" y="473.8" width="1.02" height="19.3" fill="#8bfcb6"/><rect x="99" y="473.8" width="1.02" height="19.3" fill="#8cf7b1"/><rect x="100" y="473.8" width="1.02" height="19.3" fill="#8df9b5"/><rect x="101" y="473.8" width="1.02" height="19.3" fill="#8ef6b5"/><rect x="102" y="473.8" width="1.02" height="19.3" fill="#8cf6bf"/><rect x="103" y="473.8" width="1.02" height="19.3" fill="#87fabb"/><rect x="104" y="473.8" width="1.02" height="19.3" fill="#86f3ba"/><rect x="105" y="473.8" width="1.02" height="19.3" fill="#8bf9bb"/><rect x="106" y="473.8" width="1.02" height="19.3" fill="#8bf5b0"/><rect x="107" y="473.8" width="1.02" height="19.3" fill="#8df5b9"/><rect x="108" y="473.8" width="1.02" height="19.3" fill="#8df4bd"/><rect x="109" y="473.8" width="1.02" height="19.3" fill="#8ffbb4"/><rect x="110" y="473.8" width="1.02" height="19.3" fill="#8bf6b7"/><rect x="111" y="473.8" width="1.02" height="19.3" fill="#89f9b9"/><rect x="112" y="473.8" width="1.02" height="19.3" fill="#8df6bc"/><rect x="113" y="473.8" width="1.02" height="19.3" fill="#8df0b6"/><rect x="114" y="473.8" width="1.02" height="19.3" fill="#8cfbb7"/><rect x="115" y="473.8" width="1.02" height="19.3" fill="#8bf6ba"/><rect x="116" y="473.8" width="1.02" height="19.3" fill="#8bf6b6"/><rect x="117" y="473.8" width="1.02" height="19.3" fill="#8ef6b3"/><rect x="118" y="473.8" width="1.02" height="19.3" fill="#8ef6b9"/><rect x="119" y="473.8" width="1.02" height="19.3" fill="#8dfcbb"/><rect x="120" y="473.8" width="1.02" height="19.3" fill="#8af8b4"/><rect x="121" y="473.8" width="1.02" height="19.3" fill="#91f9bc"/><rect x="122" y="473.8" width="1.02" height="19.3" fill="#8bf2bd"/><rect x="123" y="473.8" width="1.02" height="19.3" fill="#8cf8b8"/><rect x="124" y="473.8" width="1.02" height="19.3" fill="#8efab3"/><rect x="125" y="473.8" width="1.02" height="19.3" fill="#8ff6b7"/><rect x="126" y="473.8" width="1.02" height="19.3" fill="#91fbb7"/><rect x="127" y="473.8" width="1.02" height="19.3" fill="#86f8ba"/><rect x="128" y="473.8" width="1.02" height="19.3" fill="#8cf4b6"/><rect x="129" y="473.8" width="1.02" height="19.3" fill="#88f9ba"/><rect x="130" y="473.8" width="1.02" height="19.3" fill="#8ff6b9"/><rect x="131" y="473.8" width="1.02" height="19.3" fill="#8ef6b8"/><rect x="132" y="473.8" width="1.02" height="19.3" fill="#92f9bb"/><rect x="133" y="473.8" width="1.02" height="19.3" fill="#8bf8b3"/><rect x="134" y="473.8" width="1.02" height="19.3" fill="#8cfcbe"/><rect x="135" y="473.8" width="1.02" height="19.3" fill="#90fab8"/><rect x="136" y="473.8" width="1.02" height="19.3" fill="#8af8ba"/><rect x="137" y="473.8" width="1.02" height="19.3" fill="#8afbb5"/><rect x="138" y="473.8" width="1.02" height="19.3" fill="#87f5b3"/><rect x="139" y="473.8" width="1.02" height="19.3" fill="#88fbb7"/><rect x="140" y="473.8" width="1.02" height="19.3" fill="#8dfbbc"/><rect x="141" y="473.8" width="1.02" height="19.3" fill="#8afcb9"/><rect x="142" y="473.8" width="1.02" height="19.3" fill="#8cf9b4"/><rect x="143" y="473.8" width="1.02" height="19.3" fill="#8af8ba"/><rect x="144" y="473.8" width="1.02" height="19.3" fill="#8bf8bb"/><rect x="145" y="473.8" width="1.02" height="19.3" fill="#90fabc"/><rect x="146" y="473.8" width="1.02" height="19.3" fill="#8bf7b9"/><rect x="147" y="473.8" width="1.02" height="19.3" fill="#8bf6bd"/><rect x="148" y="473.8" width="1.02" height="19.3" fill="#8bf5b9"/><rect x="149" y="473.8" width="1.02" height="19.3" fill="#92f8bc"/><rect x="150" y="473.8" width="1.02" height="19.3" fill="#8bf7b6"/><rect x="151" y="473.8" width="1.02" height="19.3" fill="#8cfeb5"/><rect x="152" y="473.8" width="1.02" height="19.3" fill="#91f5b7"/><rect x="153" y="473.8" width="1.02" height="19.3" fill="#8ffab9"/><rect x="154" y="473.8" width="1.02" height="19.3" fill="#87f9b5"/><rect x="155" y="473.8" width="1.02" height="19.3" fill="#94f7b9"/><rect x="156" y="473.8" width="1.02" height="19.3" fill="#89f7b4"/><rect x="157" y="473.8" width="1.02" height="19.3" fill="#8ff7ba"/><rect x="158" y="473.8" width="1.02" height="19.3" fill="#8af6bc"/><rect x="159" y="473.8" width="1.02" height="19.3" fill="#89f3b9"/><rect x="160" y="473.8" width="1.02" height="19.3" fill="#89f7bb"/><rect x="161" y="473.8" width="1.02" height="19.3" fill="#8afbb6"/><rect x="162" y="473.8" width="1.02" height="19.3" fill="#90fcb7"/><rect x="163" y="473.8" width="1.02" height="19.3" fill="#8bf6b9"/><rect x="164" y="473.8" width="1.02" height="19.3" fill="#8ff4bb"/><rect x="165" y="473.8" width="1.02" height="19.3" fill="#88f5b3"/><rect x="166" y="473.8" width="1.02" height="19.3" fill="#92f8b9"/><rect x="167" y="473.8" width="1.02" height="19.3" fill="#8afbb2"/><rect x="168" y="473.8" width="1.02" height="19.3" fill="#8cffb7"/><rect x="169" y="473.8" width="1.02" height="19.3" fill="#8cfab6"/><rect x="170" y="473.8" width="1.02" height="19.3" fill="#8cfbb9"/><rect x="171" y="473.8" width="1.02" height="19.3" fill="#8df7b9"/><rect x="172" y="473.8" width="1.02" height="19.3" fill="#8cfcba"/><rect x="173" y="473.8" width="1.02" height="19.3" fill="#8bf1ba"/><rect x="174" y="473.8" width="1.02" height="19.3" fill="#8ef5b2"/><rect x="175" y="473.8" width="1.02" height="19.3" fill="#89fbb5"/><rect x="176" y="473.8" width="1.02" height="19.3" fill="#8bf9bc"/><rect x="177" y="473.8" width="1.02" height="19.3" fill="#8cf8b6"/><rect x="178" y="473.8" width="1.02" height="19.3" fill="#91fbb8"/><rect x="179" y="473.8" width="1.02" height="19.3" fill="#88f6ba"/><rect x="180" y="473.8" width="1.02" height="19.3" fill="#8afbb9"/><rect x="181" y="473.8" width="1.02" height="19.3" fill="#8dfab9"/><rect x="182" y="473.8" width="1.02" height="19.3" fill="#89f7bf"/><rect x="183" y="473.8" width="1.02" height="19.3" fill="#88f7bb"/><rect x="184" y="473.8" width="1.02" height="19.3" fill="#8cf6b4"/><rect x="185" y="473.8" width="1.02" height="19.3" fill="#8efbbc"/><rect x="186" y="473.8" width="1.02" height="19.3" fill="#8cfbb5"/><rect x="187" y="473.8" width="1.02" height="19.3" fill="#8df6b9"/><rect x="188" y="473.8" width="1.02" height="19.3" fill="#8efbb5"/><rect x="189" y="473.8" width="1.02" height="19.3" fill="#90f7b5"/><rect x="190" y="473.8" width="1.02" height="19.3" fill="#8bf4b8"/><rect x="191" y="473.8" width="1.02" height="19.3" fill="#8df7ba"/><rect x="192" y="473.8" width="1.02" height="19.3" fill="#8bf8b4"/><rect x="193" y="473.8" width="1.02" height="19.3" fill="#8cf5b7"/><rect x="194" y="473.8" width="1.02" height="19.3" fill="#94e57e"/><rect x="195" y="473.8" width="1.02" height="19.3" fill="#b1a340"/><rect x="196" y="473.8" width="1.02" height="19.3" fill="#c5eeca"/><rect x="197" y="473.8" width="1.02" height="19.3" fill="#aca142"/><rect x="198" y="473.8" width="1.02" height="19.3" fill="#a1f38b"/><rect x="199" y="473.8" width="2.02" height="19.3" fill="#a5b03b"/><rect x="201" y="473.8" width="1.02" height="19.3" fill="#98f18d"/><rect x="202" y="473.8" width="2.02" height="19.3" fill="#a9f787"/><rect x="204" y="473.8" width="2.02" height="19.3" fill="#a2f572"/><rect x="206" y="473.8" width="1.02" height="19.3" fill="#99f6ba"/><rect x="207" y="473.8" width="1.02" height="19.3" fill="#a5ec87"/><rect x="208" y="473.8" width="2.02" height="19.3" fill="#a3963c"/><rect x="210" y="473.8" width="1.02" height="19.3" fill="#95f78e"/><rect x="211" y="473.8" width="1.02" height="19.3" fill="#c0e054"/><rect x="212" y="473.8" width="1.02" height="19.3" fill="#a5f38b"/><rect x="213" y="473.8" width="2.02" height="19.3" fill="#a3f586"/><rect x="215" y="473.8" width="2.02" height="19.3" fill="#bdec56"/><rect x="217" y="473.8" width="1.02" height="19.3" fill="#adf293"/><rect x="218" y="473.8" width="1.02" height="19.3" fill="#9af47a"/><rect x="219" y="473.8" width="1.02" height="19.3" fill="#97f7b6"/><rect x="220" y="473.8" width="2.02" height="19.3" fill="#cbf1d5"/><rect x="222" y="473.8" width="1.02" height="19.3" fill="#9ea63e"/><rect x="223" y="473.8" width="1.02" height="19.3" fill="#aafc7b"/><rect x="224" y="473.8" width="1.02" height="19.3" fill="#96ed53"/><rect x="225" y="473.8" width="1.02" height="19.3" fill="#a7ed80"/><rect x="226" y="473.8" width="1.02" height="19.3" fill="#ae9c48"/><rect x="227" y="473.8" width="1.02" height="19.3" fill="#bee9c8"/><rect x="228" y="473.8" width="2.02" height="19.3" fill="#9de777"/><rect x="230" y="473.8" width="1.02" height="19.3" fill="#a7fa8b"/><rect x="231" y="473.8" width="1.02" height="19.3" fill="#a8ea85"/><rect x="232" y="473.8" width="1.02" height="19.3" fill="#d2eabe"/><rect x="233" y="473.8" width="1.02" height="19.3" fill="#95fad1"/><rect x="234" y="473.8" width="2.02" height="19.3" fill="#a1fb79"/><rect x="236" y="473.8" width="1.02" height="19.3" fill="#91ed53"/><rect x="237" y="473.8" width="1.02" height="19.3" fill="#afef8c"/><rect x="238" y="473.8" width="1.02" height="19.3" fill="#95f781"/><rect x="239" y="473.8" width="2.02" height="19.3" fill="#a2f78c"/><rect x="241" y="473.8" width="1.02" height="19.3" fill="#a5ee83"/><rect x="242" y="473.8" width="2.02" height="19.3" fill="#b29d3f"/><rect x="244" y="473.8" width="2.02" height="19.3" fill="#89e2bc"/><rect x="246" y="473.8" width="1.02" height="19.3" fill="#94f543"/><rect x="247" y="473.8" width="3.02" height="19.3" fill="#95e876"/><rect x="250" y="473.8" width="1.02" height="19.3" fill="#9fe881"/><rect x="251" y="473.8" width="1.02" height="19.3" fill="#96f3b7"/><rect x="252" y="473.8" width="2.02" height="19.3" fill="#caf9c4"/><rect x="254" y="473.8" width="1.02" height="19.3" fill="#9bea78"/><rect x="255" y="473.8" width="4.02" height="19.3" fill="#ae9640"/><rect x="259" y="473.8" width="1.02" height="19.3" fill="#8ef3bd"/><rect x="260" y="473.8" width="1.02" height="19.3" fill="#a4a339"/><rect x="261" y="473.8" width="2.02" height="19.3" fill="#a5a338"/><rect x="263" y="473.8" width="1.02" height="19.3" fill="#9cec84"/><rect x="264" y="473.8" width="2.02" height="19.3" fill="#93fdbf"/><rect x="266" y="473.8" width="1.02" height="19.3" fill="#d82a1d"/><rect x="267" y="473.8" width="1.02" height="19.3" fill="#da2823"/><rect x="268" y="473.8" width="1.02" height="19.3" fill="#a2f786"/><rect x="269" y="473.8" width="1.02" height="19.3" fill="#a7ef8f"/><rect x="270" y="473.8" width="1.02" height="19.3" fill="#a5ec7f"/><rect x="271" y="473.8" width="1.02" height="19.3" fill="#a2e984"/><rect x="272" y="473.8" width="1.02" height="19.3" fill="#bce84e"/><rect x="273" y="473.8" width="1.02" height="19.3" fill="#bce5bd"/><rect x="274" y="473.8" width="1.02" height="19.3" fill="#a2eb82"/><rect x="275" y="473.8" width="1.02" height="19.3" fill="#9e9a4a"/><rect x="276" y="473.8" width="1.02" height="19.3" fill="#b1ee87"/><rect x="277" y="473.8" width="1.02" height="19.3" fill="#94f8c7"/><rect x="278" y="473.8" width="2.02" height="19.3" fill="#9ff278"/><rect x="280" y="473.8" width="1.02" height="19.3" fill="#afe97a"/><rect x="281" y="473.8" width="1.02" height="19.3" fill="#bde5c7"/><rect x="282" y="473.8" width="1.02" height="19.3" fill="#a5f884"/><rect x="283" y="473.8" width="1.02" height="19.3" fill="#8cf3ca"/><rect x="284" y="473.8" width="1.02" height="19.3" fill="#a5f676"/><rect x="285" y="473.8" width="2.02" height="19.3" fill="#bfecc3"/><rect x="287" y="473.8" width="1.02" height="19.3" fill="#9aef77"/><rect x="288" y="473.8" width="2.02" height="19.3" fill="#9a9d43"/><rect x="290" y="473.8" width="1.02" height="19.3" fill="#97f37b"/><rect x="291" y="473.8" width="1.02" height="19.3" fill="#acec89"/><rect x="292" y="473.8" width="1.02" height="19.3" fill="#cbebbc"/><rect x="293" y="473.8" width="1.02" height="19.3" fill="#b2a745"/><rect x="294" y="473.8" width="2.02" height="19.3" fill="#abee94"/><rect x="78.1" y="493.1" width="0.92" height="19.3" fill="#ee8d41"/><rect x="79" y="493.1" width="1.02" height="19.3" fill="#e79141"/><rect x="80" y="493.1" width="1.02" height="19.3" fill="#da2c20"/><rect x="81" y="493.1" width="1.02" height="19.3" fill="#d7291f"/><rect x="82" y="493.1" width="1.02" height="19.3" fill="#db271e"/><rect x="83" y="493.1" width="1.02" height="19.3" fill="#d42719"/><rect x="84" y="493.1" width="1.02" height="19.3" fill="#d7271e"/><rect x="85" y="493.1" width="1.02" height="19.3" fill="#d3271d"/><rect x="86" y="493.1" width="1.02" height="19.3" fill="#d43122"/><rect x="87" y="493.1" width="1.02" height="19.3" fill="#d62520"/><rect x="88" y="493.1" width="1.02" height="19.3" fill="#d02c1f"/><rect x="89" y="493.1" width="1.02" height="19.3" fill="#d42a1e"/><rect x="90" y="493.1" width="1.02" height="19.3" fill="#cf2c1c"/><rect x="91" y="493.1" width="1.02" height="19.3" fill="#d0291e"/><rect x="92" y="493.1" width="3.02" height="19.3" fill="#e89633"/><rect x="95" y="493.1" width="2.02" height="19.3" fill="#f0d954"/><rect x="97" y="493.1" width="2.02" height="19.3" fill="#9d9eb2"/><rect x="99" y="493.1" width="2.02" height="19.3" fill="#85beea"/><rect x="101" y="493.1" width="3.02" height="19.3" fill="#cbf74f"/><rect x="104" y="493.1" width="1.02" height="19.3" fill="#8ad8f6"/><rect x="105" y="493.1" width="1.02" height="19.3" fill="#ea9133"/><rect x="106" y="493.1" width="1.02" height="19.3" fill="#2022de"/><rect x="107" y="493.1" width="4.02" height="19.3" fill="#a8ac3e"/><rect x="111" y="493.1" width="2.02" height="19.3" fill="#e29741"/><rect x="113" y="493.1" width="1.02" height="19.3" fill="#eedf55"/><rect x="114" y="493.1" width="1.02" height="19.3" fill="#b59d45"/><rect x="115" y="493.1" width="3.02" height="19.3" fill="#e98c3e"/><rect x="118" y="493.1" width="3.02" height="19.3" fill="#733aac"/><rect x="121" y="493.1" width="3.02" height="19.3" fill="#db8c3b"/><rect x="124" y="493.1" width="3.02" height="19.3" fill="#1a2ed9"/><rect x="127" y="493.1" width="1.02" height="19.3" fill="#5eada0"/><rect x="128" y="493.1" width="1.02" height="19.3" fill="#8be5ec"/><rect x="129" y="493.1" width="2.02" height="19.3" fill="#b3f14c"/><rect x="131" y="493.1" width="3.02" height="19.3" fill="#9189b0"/><rect x="134" y="493.1" width="2.02" height="19.3" fill="#2030dd"/><rect x="136" y="493.1" width="2.02" height="19.3" fill="#5e87c6"/><rect x="138" y="493.1" width="1.02" height="19.3" fill="#75b6fc"/><rect x="139" y="493.1" width="2.02" height="19.3" fill="#613ba0"/><rect x="141" y="493.1" width="2.02" height="19.3" fill="#589d99"/><rect x="143" y="493.1" width="1.02" height="19.3" fill="#95f4b6"/><rect x="144" y="493.1" width="2.02" height="19.3" fill="#282dde"/><rect x="146" y="493.1" width="3.02" height="19.3" fill="#94f6c2"/><rect x="149" y="493.1" width="1.02" height="19.3" fill="#699ec5"/><rect x="150" y="493.1" width="1.02" height="19.3" fill="#87acea"/><rect x="151" y="493.1" width="5.02" height="19.3" fill="#1e2ece"/><rect x="156" y="493.1" width="2.02" height="19.3" fill="#242eda"/><rect x="158" y="493.1" width="2.02" height="19.3" fill="#89b4ed"/><rect x="160" y="493.1" width="3.02" height="19.3" fill="#2a2cdc"/><rect x="163" y="493.1" width="1.02" height="19.3" fill="#9397a5"/><rect x="164" y="493.1" width="2.02" height="19.3" fill="#81aeea"/><rect x="166" y="493.1" width="3.02" height="19.3" fill="#9596a0"/><rect x="169" y="493.1" width="3.02" height="19.3" fill="#87b6e7"/><rect x="172" y="493.1" width="2.02" height="19.3" fill="#ebd248"/><rect x="174" y="493.1" width="3.02" height="19.3" fill="#2629d7"/><rect x="177" y="493.1" width="1.02" height="19.3" fill="#c3ee48"/><rect x="178" y="493.1" width="2.02" height="19.3" fill="#d72b28"/><rect x="180" y="493.1" width="3.02" height="19.3" fill="#e6d557"/><rect x="183" y="493.1" width="3.02" height="19.3" fill="#c3eb58"/><rect x="186" y="493.1" width="1.02" height="19.3" fill="#e69d46"/><rect x="187" y="493.1" width="2.02" height="19.3" fill="#c0e960"/><rect x="189" y="493.1" width="2.02" height="19.3" fill="#ebdb4c"/><rect x="191" y="493.1" width="2.02" height="19.3" fill="#dd272a"/><rect x="193" y="493.1" width="1.02" height="19.3" fill="#f0d654"/><rect x="194" y="493.1" width="2.02" height="19.3" fill="#2039cf"/><rect x="196" y="493.1" width="2.02" height="19.3" fill="#a2aa48"/><rect x="198" y="493.1" width="1.02" height="19.3" fill="#62a2a1"/><rect x="199" y="493.1" width="2.02" height="19.3" fill="#a16535"/><rect x="201" y="493.1" width="3.02" height="19.3" fill="#82baf0"/><rect x="204" y="493.1" width="1.02" height="19.3" fill="#2730cf"/><rect x="205" y="493.1" width="4.02" height="19.3" fill="#659f9d"/><rect x="209" y="493.1" width="2.02" height="19.3" fill="#a3a444"/><rect x="211" y="493.1" width="1.02" height="19.3" fill="#2230da"/><rect x="212" y="493.1" width="1.02" height="19.3" fill="#1d31d7"/><rect x="213" y="493.1" width="1.02" height="19.3" fill="#1f32d6"/><rect x="214" y="493.1" width="1.02" height="19.3" fill="#2037da"/><rect x="215" y="493.1" width="1.02" height="19.3" fill="#2632db"/><rect x="216" y="493.1" width="1.02" height="19.3" fill="#2436df"/><rect x="217" y="493.1" width="1.02" height="19.3" fill="#2133d8"/><rect x="218" y="493.1" width="1.02" height="19.3" fill="#172ed8"/><rect x="219" y="493.1" width="1.02" height="19.3" fill="#2430db"/><rect x="220" y="493.1" width="1.02" height="19.3" fill="#2631dc"/><rect x="221" y="493.1" width="2.02" height="19.3" fill="#6c81bd"/><rect x="223" y="493.1" width="2.02" height="19.3" fill="#6f3fac"/><rect x="225" y="493.1" width="2.02" height="19.3" fill="#5db49e"/><rect x="227" y="493.1" width="3.02" height="19.3" fill="#6839ae"/><rect x="230" y="493.1" width="2.02" height="19.3" fill="#6887aa"/><rect x="232" y="493.1" width="2.02" height="19.3" fill="#6886bf"/><rect x="234" y="493.1" width="4.02" height="19.3" fill="#6292a3"/><rect x="238" y="493.1" width="4.02" height="19.3" fill="#aea341"/><rect x="242" y="493.1" width="1.02" height="19.3" fill="#5f82b9"/><rect x="243" y="493.1" width="1.02" height="19.3" fill="#1626ed"/><rect x="244" y="493.1" width="1.02" height="19.3" fill="#1a22ee"/><rect x="245" y="493.1" width="1.02" height="19.3" fill="#1a22ec"/><rect x="246" y="493.1" width="1.02" height="19.3" fill="#1d20f1"/><rect x="247" y="493.1" width="1.02" height="19.3" fill="#141ff1"/><rect x="248" y="493.1" width="1.02" height="19.3" fill="#1a20ef"/><rect x="249" y="493.1" width="1.02" height="19.3" fill="#1722e7"/><rect x="250" y="493.1" width="1.02" height="19.3" fill="#1920f0"/><rect x="251" y="493.1" width="1.02" height="19.3" fill="#1d1ff3"/><rect x="252" y="493.1" width="1.02" height="19.3" fill="#181ce7"/><rect x="253" y="493.1" width="1.02" height="19.3" fill="#1f22ec"/><rect x="254" y="493.1" width="1.02" height="19.3" fill="#2b31e5"/><rect x="255" y="493.1" width="2.02" height="19.3" fill="#c5ead3"/><rect x="257" y="493.1" width="1.02" height="19.3" fill="#627dc4"/><rect x="258" y="493.1" width="1.02" height="19.3" fill="#2932dc"/><rect x="259" y="493.1" width="1.02" height="19.3" fill="#669ea4"/><rect x="260" y="493.1" width="1.02" height="19.3" fill="#d12923"/><rect x="261" y="493.1" width="1.02" height="19.3" fill="#d3291f"/><rect x="262" y="493.1" width="3.02" height="19.3" fill="#a1a53b"/><rect x="265" y="493.1" width="1.02" height="19.3" fill="#938da9"/><rect x="266" y="493.1" width="2.02" height="19.3" fill="#6685be"/><rect x="268" y="493.1" width="2.02" height="19.3" fill="#2635d6"/><rect x="270" y="493.1" width="1.02" height="19.3" fill="#bde7c2"/><rect x="271" y="493.1" width="2.02" height="19.3" fill="#6f389d"/><rect x="273" y="493.1" width="4.02" height="19.3" fill="#619fa0"/><rect x="277" y="493.1" width="3.02" height="19.3" fill="#d4f1cf"/><rect x="280" y="493.1" width="1.02" height="19.3" fill="#1e37d1"/><rect x="281" y="493.1" width="1.02" height="19.3" fill="#2034d4"/><rect x="282" y="493.1" width="1.02" height="19.3" fill="#2436d5"/><rect x="283" y="493.1" width="2.02" height="19.3" fill="#263be2"/><rect x="285" y="493.1" width="1.02" height="19.3" fill="#a9aa45"/><rect x="286" y="493.1" width="2.02" height="19.3" fill="#5e81c2"/><rect x="288" y="493.1" width="2.02" height="19.3" fill="#9491a3"/><rect x="290" y="493.1" width="1.02" height="19.3" fill="#c9edd5"/><rect x="291" y="493.1" width="4.02" height="19.3" fill="#599eaa"/><rect x="295" y="493.1" width="1.02" height="19.3" fill="#8e99a2"/><rect x="78.1" y="512.4" width="1.92" height="19.3" fill="#81bafa"/><rect x="80" y="512.4" width="1.02" height="19.3" fill="#6f2eaa"/><rect x="81" y="512.4" width="3.02" height="19.3" fill="#eb8a41"/><rect x="84" y="512.4" width="3.02" height="19.3" fill="#742e99"/><rect x="87" y="512.4" width="4.02" height="19.3" fill="#cd3a24"/><rect x="91" y="512.4" width="3.02" height="19.3" fill="#ed8538"/><rect x="94" y="512.4" width="1.02" height="19.3" fill="#9b79b6"/><rect x="95" y="512.4" width="2.02" height="19.3" fill="#e4903e"/><rect x="97" y="512.4" width="3.02" height="19.3" fill="#c7fad4"/><rect x="100" y="512.4" width="1.02" height="19.3" fill="#7235b0"/><rect x="101" y="512.4" width="4.02" height="19.3" fill="#bde8ba"/><rect x="105" y="512.4" width="2.02" height="19.3" fill="#82bff9"/><rect x="107" y="512.4" width="3.02" height="19.3" fill="#662ea0"/><rect x="110" y="512.4" width="3.02" height="19.3" fill="#de271d"/><rect x="113" y="512.4" width="1.02" height="19.3" fill="#e58842"/><rect x="114" y="512.4" width="5.02" height="19.3" fill="#a581ba"/><rect x="119" y="512.4" width="4.02" height="19.3" fill="#9b5337"/><rect x="123" y="512.4" width="2.02" height="19.3" fill="#e39642"/><rect x="125" y="512.4" width="3.02" height="19.3" fill="#fce550"/><rect x="128" y="512.4" width="4.02" height="19.3" fill="#84b8f4"/><rect x="132" y="512.4" width="2.02" height="19.3" fill="#9381ba"/><rect x="134" y="512.4" width="2.02" height="19.3" fill="#2125dd"/><rect x="136" y="512.4" width="1.02" height="19.3" fill="#cf401d"/><rect x="137" y="512.4" width="5.02" height="19.3" fill="#ec8d36"/><rect x="142" y="512.4" width="1.02" height="19.3" fill="#e39e90"/><rect x="143" y="512.4" width="1.02" height="19.3" fill="#9c5b3d"/><rect x="144" y="512.4" width="2.02" height="19.3" fill="#e59447"/><rect x="146" y="512.4" width="1.02" height="19.3" fill="#d53a18"/><rect x="147" y="512.4" width="4.02" height="19.3" fill="#e5a98e"/><rect x="151" y="512.4" width="1.02" height="19.3" fill="#d12a18"/><rect x="152" y="512.4" width="2.02" height="19.3" fill="#996333"/><rect x="154" y="512.4" width="3.02" height="19.3" fill="#d6291a"/><rect x="157" y="512.4" width="2.02" height="19.3" fill="#b91040"/><rect x="159" y="512.4" width="1.02" height="19.3" fill="#d8a18f"/><rect x="160" y="512.4" width="2.02" height="19.3" fill="#e8d65b"/><rect x="162" y="512.4" width="1.02" height="19.3" fill="#d7221e"/><rect x="163" y="512.4" width="3.02" height="19.3" fill="#a72143"/><rect x="166" y="512.4" width="2.02" height="19.3" fill="#9e563b"/><rect x="168" y="512.4" width="2.02" height="19.3" fill="#6a33a2"/><rect x="170" y="512.4" width="2.02" height="19.3" fill="#ef9346"/><rect x="172" y="512.4" width="2.02" height="19.3" fill="#7ab2f8"/><rect x="174" y="512.4" width="3.02" height="19.3" fill="#8d242e"/><rect x="177" y="512.4" width="1.02" height="19.3" fill="#b01b49"/><rect x="178" y="512.4" width="2.02" height="19.3" fill="#5e38ae"/><rect x="180" y="512.4" width="5.02" height="19.3" fill="#e48534"/><rect x="185" y="512.4" width="3.02" height="19.3" fill="#ae124b"/><rect x="188" y="512.4" width="1.02" height="19.3" fill="#ed9433"/><rect x="189" y="512.4" width="1.02" height="19.3" fill="#ad1750"/><rect x="190" y="512.4" width="3.02" height="19.3" fill="#88133e"/><rect x="193" y="512.4" width="1.02" height="19.3" fill="#c6ef53"/><rect x="194" y="512.4" width="2.02" height="19.3" fill="#667dc9"/><rect x="196" y="512.4" width="2.02" height="19.3" fill="#693aa5"/><rect x="198" y="512.4" width="2.02" height="19.3" fill="#2a27cb"/><rect x="200" y="512.4" width="1.02" height="19.3" fill="#81b0f6"/><rect x="201" y="512.4" width="2.02" height="19.3" fill="#5f88bc"/><rect x="203" y="512.4" width="1.02" height="19.3" fill="#162ad5"/><rect x="204" y="512.4" width="3.02" height="19.3" fill="#c7e2c8"/><rect x="207" y="512.4" width="3.02" height="19.3" fill="#1f3cc8"/><rect x="210" y="512.4" width="1.02" height="19.3" fill="#75bde7"/><rect x="211" y="512.4" width="1.02" height="19.3" fill="#6737a7"/><rect x="212" y="512.4" width="1.02" height="19.3" fill="#c2ecc1"/><rect x="213" y="512.4" width="1.02" height="19.3" fill="#6b8fb9"/><rect x="214" y="512.4" width="2.02" height="19.3" fill="#241dd4"/><rect x="216" y="512.4" width="1.02" height="19.3" fill="#5e84c4"/><rect x="217" y="512.4" width="2.02" height="19.3" fill="#2829d8"/><rect x="219" y="512.4" width="2.02" height="19.3" fill="#6eb7f3"/><rect x="221" y="512.4" width="3.02" height="19.3" fill="#1b34d6"/><rect x="224" y="512.4" width="2.02" height="19.3" fill="#241a93"/><rect x="226" y="512.4" width="2.02" height="19.3" fill="#272bda"/><rect x="228" y="512.4" width="1.02" height="19.3" fill="#c8f2c3"/><rect x="229" y="512.4" width="3.02" height="19.3" fill="#2234d4"/><rect x="232" y="512.4" width="3.02" height="19.3" fill="#7ac2fc"/><rect x="235" y="512.4" width="2.02" height="19.3" fill="#6587b6"/><rect x="237" y="512.4" width="4.02" height="19.3" fill="#183cd9"/><rect x="241" y="512.4" width="1.02" height="19.3" fill="#2a1da3"/><rect x="242" y="512.4" width="2.02" height="19.3" fill="#1239d8"/><rect x="244" y="512.4" width="3.02" height="19.3" fill="#cd2717"/><rect x="247" y="512.4" width="3.02" height="19.3" fill="#6a3cae"/><rect x="250" y="512.4" width="2.02" height="19.3" fill="#cef1c4"/><rect x="252" y="512.4" width="4.02" height="19.3" fill="#5e7bbe"/><rect x="256" y="512.4" width="4.02" height="19.3" fill="#67369a"/><rect x="260" y="512.4" width="1.02" height="19.3" fill="#1926db"/><rect x="261" y="512.4" width="1.02" height="19.3" fill="#1f2692"/><rect x="262" y="512.4" width="3.02" height="19.3" fill="#6733ae"/><rect x="265" y="512.4" width="2.02" height="19.3" fill="#85bef3"/><rect x="267" y="512.4" width="1.02" height="19.3" fill="#c11a42"/><rect x="268" y="512.4" width="1.02" height="19.3" fill="#6c2e9a"/><rect x="269" y="512.4" width="1.02" height="19.3" fill="#caedd0"/><rect x="270" y="512.4" width="4.02" height="19.3" fill="#6274c1"/><rect x="274" y="512.4" width="2.02" height="19.3" fill="#231d91"/><rect x="276" y="512.4" width="1.02" height="19.3" fill="#8bb9f3"/><rect x="277" y="512.4" width="2.02" height="19.3" fill="#7037a1"/><rect x="279" y="512.4" width="2.02" height="19.3" fill="#2532d5"/><rect x="281" y="512.4" width="2.02" height="19.3" fill="#76b3ed"/><rect x="283" y="512.4" width="1.02" height="19.3" fill="#2432d3"/><rect x="284" y="512.4" width="1.02" height="19.3" fill="#2435db"/><rect x="285" y="512.4" width="1.02" height="19.3" fill="#2733da"/><rect x="286" y="512.4" width="1.02" height="19.3" fill="#2731dd"/><rect x="287" y="512.4" width="3.02" height="19.3" fill="#6445a7"/><rect x="290" y="512.4" width="3.02" height="19.3" fill="#6387c2"/><rect x="293" y="512.4" width="3.02" height="19.3" fill="#292fd8"/><rect x="78.1" y="531.7" width="0.92" height="19.3" fill="#93f458"/><rect x="79" y="531.7" width="1.02" height="19.3" fill="#91ef55"/><rect x="80" y="531.7" width="1.02" height="19.3" fill="#8ff352"/><rect x="81" y="531.7" width="1.02" height="19.3" fill="#92f450"/><rect x="82" y="531.7" width="1.02" height="19.3" fill="#8ff450"/><rect x="83" y="531.7" width="1.02" height="19.3" fill="#8df150"/><rect x="84" y="531.7" width="1.02" height="19.3" fill="#8ff558"/><rect x="85" y="531.7" width="1.02" height="19.3" fill="#92f555"/><rect x="86" y="531.7" width="1.02" height="19.3" fill="#92f154"/><rect x="87" y="531.7" width="1.02" height="19.3" fill="#8ff251"/><rect x="88" y="531.7" width="1.02" height="19.3" fill="#8cf14e"/><rect x="89" y="531.7" width="1.02" height="19.3" fill="#90f252"/><rect x="90" y="531.7" width="1.02" height="19.3" fill="#8ff450"/><rect x="91" y="531.7" width="1.02" height="19.3" fill="#8eed4b"/><rect x="92" y="531.7" width="1.02" height="19.3" fill="#88f74d"/><rect x="93" y="531.7" width="1.02" height="19.3" fill="#8ff651"/><rect x="94" y="531.7" width="1.02" height="19.3" fill="#93f855"/><rect x="95" y="531.7" width="1.02" height="19.3" fill="#95f450"/><rect x="96" y="531.7" width="1.02" height="19.3" fill="#90f14e"/><rect x="97" y="531.7" width="1.02" height="19.3" fill="#8af950"/><rect x="98" y="531.7" width="1.02" height="19.3" fill="#8ef052"/><rect x="99" y="531.7" width="1.02" height="19.3" fill="#8df14e"/><rect x="100" y="531.7" width="1.02" height="19.3" fill="#8af053"/><rect x="101" y="531.7" width="1.02" height="19.3" fill="#94f558"/><rect x="102" y="531.7" width="1.02" height="19.3" fill="#8ff24e"/><rect x="103" y="531.7" width="1.02" height="19.3" fill="#8eec51"/><rect x="104" y="531.7" width="1.02" height="19.3" fill="#93f355"/><rect x="105" y="531.7" width="1.02" height="19.3" fill="#8dee51"/><rect x="106" y="531.7" width="1.02" height="19.3" fill="#8df658"/><rect x="107" y="531.7" width="1.02" height="19.3" fill="#8cf152"/><rect x="108" y="531.7" width="1.02" height="19.3" fill="#8dee52"/><rect x="109" y="531.7" width="1.02" height="19.3" fill="#8ff34e"/><rect x="110" y="531.7" width="1.02" height="19.3" fill="#8eed55"/><rect x="111" y="531.7" width="1.02" height="19.3" fill="#8bf151"/><rect x="112" y="531.7" width="1.02" height="19.3" fill="#8cef4d"/><rect x="113" y="531.7" width="1.02" height="19.3" fill="#93f353"/><rect x="114" y="531.7" width="1.02" height="19.3" fill="#94f254"/><rect x="115" y="531.7" width="1.02" height="19.3" fill="#8ef654"/><rect x="116" y="531.7" width="1.02" height="19.3" fill="#8ff153"/><rect x="117" y="531.7" width="1.02" height="19.3" fill="#92ec52"/><rect x="118" y="531.7" width="1.02" height="19.3" fill="#8df14c"/><rect x="119" y="531.7" width="1.02" height="19.3" fill="#90f051"/><rect x="120" y="531.7" width="1.02" height="19.3" fill="#8ded51"/><rect x="121" y="531.7" width="1.02" height="19.3" fill="#89ef51"/><rect x="122" y="531.7" width="1.02" height="19.3" fill="#8ef252"/><rect x="123" y="531.7" width="1.02" height="19.3" fill="#95f34e"/><rect x="124" y="531.7" width="1.02" height="19.3" fill="#8cf052"/><rect x="125" y="531.7" width="1.02" height="19.3" fill="#8cf057"/><rect x="126" y="531.7" width="1.02" height="19.3" fill="#8ef151"/><rect x="127" y="531.7" width="1.02" height="19.3" fill="#8df654"/><rect x="128" y="531.7" width="1.02" height="19.3" fill="#91e953"/><rect x="129" y="531.7" width="1.02" height="19.3" fill="#91f852"/><rect x="130" y="531.7" width="1.02" height="19.3" fill="#89f450"/><rect x="131" y="531.7" width="1.02" height="19.3" fill="#89f055"/><rect x="132" y="531.7" width="1.02" height="19.3" fill="#92f44f"/><rect x="133" y="531.7" width="1.02" height="19.3" fill="#96ef52"/><rect x="134" y="531.7" width="1.02" height="19.3" fill="#8af653"/><rect x="135" y="531.7" width="1.02" height="19.3" fill="#91f252"/><rect x="136" y="531.7" width="1.02" height="19.3" fill="#8fec55"/><rect x="137" y="531.7" width="1.02" height="19.3" fill="#91f152"/><rect x="138" y="531.7" width="1.02" height="19.3" fill="#8ff753"/><rect x="139" y="531.7" width="1.02" height="19.3" fill="#8ef14e"/><rect x="140" y="531.7" width="1.02" height="19.3" fill="#8cf251"/><rect x="141" y="531.7" width="1.02" height="19.3" fill="#8ef453"/><rect x="142" y="531.7" width="1.02" height="19.3" fill="#8ff453"/><rect x="143" y="531.7" width="1.02" height="19.3" fill="#8ef44d"/><rect x="144" y="531.7" width="1.02" height="19.3" fill="#92ee55"/><rect x="145" y="531.7" width="1.02" height="19.3" fill="#8ef552"/><rect x="146" y="531.7" width="1.02" height="19.3" fill="#8bf553"/><rect x="147" y="531.7" width="1.02" height="19.3" fill="#8ff255"/><rect x="148" y="531.7" width="1.02" height="19.3" fill="#91f34d"/><rect x="149" y="531.7" width="1.02" height="19.3" fill="#8df258"/><rect x="150" y="531.7" width="1.02" height="19.3" fill="#8ff256"/><rect x="151" y="531.7" width="1.02" height="19.3" fill="#8ef253"/><rect x="152" y="531.7" width="1.02" height="19.3" fill="#8af553"/><rect x="153" y="531.7" width="1.02" height="19.3" fill="#8def53"/><rect x="154" y="531.7" width="1.02" height="19.3" fill="#92f04f"/><rect x="155" y="531.7" width="1.02" height="19.3" fill="#8fed4c"/><rect x="156" y="531.7" width="1.02" height="19.3" fill="#8df051"/><rect x="157" y="531.7" width="1.02" height="19.3" fill="#8df352"/><rect x="158" y="531.7" width="1.02" height="19.3" fill="#8cf154"/><rect x="159" y="531.7" width="1.02" height="19.3" fill="#91f554"/><rect x="160" y="531.7" width="1.02" height="19.3" fill="#84ef51"/><rect x="161" y="531.7" width="1.02" height="19.3" fill="#8fed56"/><rect x="162" y="531.7" width="1.02" height="19.3" fill="#8ff053"/><rect x="163" y="531.7" width="1.02" height="19.3" fill="#8df054"/><rect x="164" y="531.7" width="1.02" height="19.3" fill="#8dee50"/><rect x="165" y="531.7" width="1.02" height="19.3" fill="#8eef56"/><rect x="166" y="531.7" width="1.02" height="19.3" fill="#8bf755"/><rect x="167" y="531.7" width="1.02" height="19.3" fill="#8bf356"/><rect x="168" y="531.7" width="1.02" height="19.3" fill="#8eef53"/><rect x="169" y="531.7" width="1.02" height="19.3" fill="#94ee54"/><rect x="170" y="531.7" width="1.02" height="19.3" fill="#8ef251"/><rect x="171" y="531.7" width="1.02" height="19.3" fill="#8df554"/><rect x="172" y="531.7" width="1.02" height="19.3" fill="#8bf74e"/><rect x="173" y="531.7" width="1.02" height="19.3" fill="#90f356"/><rect x="174" y="531.7" width="1.02" height="19.3" fill="#8ff552"/><rect x="175" y="531.7" width="1.02" height="19.3" fill="#91f359"/><rect x="176" y="531.7" width="1.02" height="19.3" fill="#8cf654"/><rect x="177" y="531.7" width="1.02" height="19.3" fill="#8ff154"/><rect x="178" y="531.7" width="1.02" height="19.3" fill="#8aee54"/><rect x="179" y="531.7" width="1.02" height="19.3" fill="#8af751"/><rect x="180" y="531.7" width="1.02" height="19.3" fill="#8ff253"/><rect x="181" y="531.7" width="1.02" height="19.3" fill="#8df152"/><rect x="182" y="531.7" width="1.02" height="19.3" fill="#91f656"/><rect x="183" y="531.7" width="1.02" height="19.3" fill="#8ff24d"/><rect x="184" y="531.7" width="1.02" height="19.3" fill="#90f551"/><rect x="185" y="531.7" width="1.02" height="19.3" fill="#91f653"/><rect x="186" y="531.7" width="1.02" height="19.3" fill="#91f34d"/><rect x="187" y="531.7" width="1.02" height="19.3" fill="#8df154"/><rect x="188" y="531.7" width="1.02" height="19.3" fill="#8cf14f"/><rect x="189" y="531.7" width="1.02" height="19.3" fill="#8ef255"/><rect x="190" y="531.7" width="1.02" height="19.3" fill="#91f353"/><rect x="191" y="531.7" width="1.02" height="19.3" fill="#8ff357"/><rect x="192" y="531.7" width="1.02" height="19.3" fill="#87f253"/><rect x="193" y="531.7" width="1.02" height="19.3" fill="#92ef53"/><rect x="194" y="531.7" width="1.02" height="19.3" fill="#99ef4b"/><rect x="195" y="531.7" width="1.02" height="19.3" fill="#95ed52"/><rect x="196" y="531.7" width="1.02" height="19.3" fill="#94f651"/><rect x="197" y="531.7" width="1.02" height="19.3" fill="#a5af44"/><rect x="198" y="531.7" width="1.02" height="19.3" fill="#97f550"/><rect x="199" y="531.7" width="1.02" height="19.3" fill="#99ed51"/><rect x="200" y="531.7" width="1.02" height="19.3" fill="#a3f14f"/><rect x="201" y="531.7" width="1.02" height="19.3" fill="#a2e84d"/><rect x="202" y="531.7" width="1.02" height="19.3" fill="#a6f74c"/><rect x="203" y="531.7" width="1.02" height="19.3" fill="#a1ef51"/><rect x="204" y="531.7" width="1.02" height="19.3" fill="#a2ee4b"/><rect x="205" y="531.7" width="1.02" height="19.3" fill="#a3f155"/><rect x="206" y="531.7" width="1.02" height="19.3" fill="#a3ed51"/><rect x="207" y="531.7" width="1.02" height="19.3" fill="#a7ef4e"/><rect x="208" y="531.7" width="1.02" height="19.3" fill="#94f34e"/><rect x="209" y="531.7" width="1.02" height="19.3" fill="#a0ad47"/><rect x="210" y="531.7" width="1.02" height="19.3" fill="#a7ac44"/><rect x="211" y="531.7" width="1.02" height="19.3" fill="#93f150"/><rect x="212" y="531.7" width="1.02" height="19.3" fill="#99f151"/><rect x="213" y="531.7" width="1.02" height="19.3" fill="#97f051"/><rect x="214" y="531.7" width="1.02" height="19.3" fill="#99f34f"/><rect x="215" y="531.7" width="1.02" height="19.3" fill="#a3a943"/><rect x="216" y="531.7" width="1.02" height="19.3" fill="#8fef52"/><rect x="217" y="531.7" width="1.02" height="19.3" fill="#94ed55"/><rect x="218" y="531.7" width="1.02" height="19.3" fill="#9aef54"/><rect x="219" y="531.7" width="1.02" height="19.3" fill="#9aed58"/><rect x="220" y="531.7" width="1.02" height="19.3" fill="#93ef4d"/><rect x="221" y="531.7" width="1.02" height="19.3" fill="#96ec50"/><rect x="222" y="531.7" width="1.02" height="19.3" fill="#99f14f"/><rect x="223" y="531.7" width="1.02" height="19.3" fill="#9bed53"/><rect x="224" y="531.7" width="1.02" height="19.3" fill="#a2aa49"/><rect x="225" y="531.7" width="1.02" height="19.3" fill="#97f04e"/><rect x="226" y="531.7" width="1.02" height="19.3" fill="#94f150"/><rect x="227" y="531.7" width="1.02" height="19.3" fill="#93ee4e"/><rect x="228" y="531.7" width="1.02" height="19.3" fill="#96f150"/><rect x="229" y="531.7" width="1.02" height="19.3" fill="#a0ac44"/><rect x="230" y="531.7" width="1.02" height="19.3" fill="#a8ad45"/><rect x="231" y="531.7" width="1.02" height="19.3" fill="#93ec52"/><rect x="232" y="531.7" width="1.02" height="19.3" fill="#92f14f"/><rect x="233" y="531.7" width="1.02" height="19.3" fill="#92eb51"/><rect x="234" y="531.7" width="1.02" height="19.3" fill="#97f256"/><rect x="235" y="531.7" width="1.02" height="19.3" fill="#a6ac44"/><rect x="236" y="531.7" width="1.02" height="19.3" fill="#a8ae4b"/><rect x="237" y="531.7" width="1.02" height="19.3" fill="#9cea51"/><rect x="238" y="531.7" width="1.02" height="19.3" fill="#97f04d"/><rect x="239" y="531.7" width="1.02" height="19.3" fill="#95ef4d"/><rect x="240" y="531.7" width="1.02" height="19.3" fill="#96ef4e"/><rect x="241" y="531.7" width="1.02" height="19.3" fill="#98ed51"/><rect x="242" y="531.7" width="1.02" height="19.3" fill="#94f150"/><rect x="243" y="531.7" width="1.02" height="19.3" fill="#97ed4e"/><rect x="244" y="531.7" width="1.02" height="19.3" fill="#93f152"/><rect x="245" y="531.7" width="1.02" height="19.3" fill="#99ee50"/><rect x="246" y="531.7" width="1.02" height="19.3" fill="#91e94d"/><rect x="247" y="531.7" width="1.02" height="19.3" fill="#94eb4b"/><rect x="248" y="531.7" width="1.02" height="19.3" fill="#98ee4b"/><rect x="249" y="531.7" width="1.02" height="19.3" fill="#9df04f"/><rect x="250" y="531.7" width="1.02" height="19.3" fill="#98ee55"/><rect x="251" y="531.7" width="1.02" height="19.3" fill="#91ec50"/><rect x="252" y="531.7" width="1.02" height="19.3" fill="#94f44b"/><rect x="253" y="531.7" width="1.02" height="19.3" fill="#94f152"/><rect x="254" y="531.7" width="1.02" height="19.3" fill="#99f157"/><rect x="255" y="531.7" width="1.02" height="19.3" fill="#a7ae46"/><rect x="256" y="531.7" width="1.02" height="19.3" fill="#95ef4f"/><rect x="257" y="531.7" width="1.02" height="19.3" fill="#94ed4e"/><rect x="258" y="531.7" width="1.02" height="19.3" fill="#91f14b"/><rect x="259" y="531.7" width="1.02" height="19.3" fill="#9cf553"/><rect x="260" y="531.7" width="1.02" height="19.3" fill="#95ee54"/><rect x="261" y="531.7" width="1.02" height="19.3" fill="#96f24e"/><rect x="262" y="531.7" width="1.02" height="19.3" fill="#99ed50"/><rect x="263" y="531.7" width="1.02" height="19.3" fill="#91ee51"/><rect x="264" y="531.7" width="1.02" height="19.3" fill="#95ef52"/><rect x="265" y="531.7" width="1.02" height="19.3" fill="#96f449"/><rect x="266" y="531.7" width="1.02" height="19.3" fill="#98f14b"/><rect x="267" y="531.7" width="1.02" height="19.3" fill="#92f24d"/><rect x="268" y="531.7" width="1.02" height="19.3" fill="#a1ae46"/><rect x="269" y="531.7" width="1.02" height="19.3" fill="#97ed51"/><rect x="270" y="531.7" width="1.02" height="19.3" fill="#99f149"/><rect x="271" y="531.7" width="1.02" height="19.3" fill="#98f04d"/><rect x="272" y="531.7" width="1.02" height="19.3" fill="#9aeb55"/><rect x="273" y="531.7" width="1.02" height="19.3" fill="#94f550"/><rect x="274" y="531.7" width="1.02" height="19.3" fill="#92f051"/><rect x="275" y="531.7" width="1.02" height="19.3" fill="#a6ac44"/><rect x="276" y="531.7" width="1.02" height="19.3" fill="#97f24f"/><rect x="277" y="531.7" width="1.02" height="19.3" fill="#93ed52"/><rect x="278" y="531.7" width="1.02" height="19.3" fill="#98ed4c"/><rect x="279" y="531.7" width="1.02" height="19.3" fill="#9aeb50"/><rect x="280" y="531.7" width="1.02" height="19.3" fill="#93eb50"/><rect x="281" y="531.7" width="1.02" height="19.3" fill="#95f457"/><rect x="282" y="531.7" width="1.02" height="19.3" fill="#95f353"/><rect x="283" y="531.7" width="1.02" height="19.3" fill="#94ed55"/><rect x="284" y="531.7" width="1.02" height="19.3" fill="#95f04f"/><rect x="285" y="531.7" width="1.02" height="19.3" fill="#95ee52"/><rect x="286" y="531.7" width="1.02" height="19.3" fill="#9aef4c"/><rect x="287" y="531.7" width="1.02" height="19.3" fill="#96eb4e"/><rect x="288" y="531.7" width="1.02" height="19.3" fill="#9af751"/><rect x="289" y="531.7" width="1.02" height="19.3" fill="#93f249"/><rect x="290" y="531.7" width="1.02" height="19.3" fill="#94f452"/><rect x="291" y="531.7" width="1.02" height="19.3" fill="#92eb52"/><rect x="292" y="531.7" width="1.02" height="19.3" fill="#a1ae4a"/><rect x="293" y="531.7" width="1.02" height="19.3" fill="#a3ad4a"/><rect x="294" y="531.7" width="1.02" height="19.3" fill="#94ed4c"/><rect x="295" y="531.7" width="1.02" height="19.3" fill="#97ed52"/><rect x="78.1" y="551" width="0.92" height="19.3" fill="#8bf14f"/><rect x="79" y="551" width="1.02" height="19.3" fill="#91f350"/><rect x="80" y="551" width="1.02" height="19.3" fill="#89f155"/><rect x="81" y="551" width="1.02" height="19.3" fill="#8df154"/><rect x="82" y="551" width="1.02" height="19.3" fill="#8af254"/><rect x="83" y="551" width="1.02" height="19.3" fill="#8cef53"/><rect x="84" y="551" width="1.02" height="19.3" fill="#8ef153"/><rect x="85" y="551" width="1.02" height="19.3" fill="#8fef50"/><rect x="86" y="551" width="1.02" height="19.3" fill="#8ff556"/><rect x="87" y="551" width="1.02" height="19.3" fill="#8bf554"/><rect x="88" y="551" width="1.02" height="19.3" fill="#8ef354"/><rect x="89" y="551" width="1.02" height="19.3" fill="#93ef54"/><rect x="90" y="551" width="1.02" height="19.3" fill="#8df155"/><rect x="91" y="551" width="1.02" height="19.3" fill="#90ef51"/><rect x="92" y="551" width="1.02" height="19.3" fill="#8fee54"/><rect x="93" y="551" width="1.02" height="19.3" fill="#8ef253"/><rect x="94" y="551" width="1.02" height="19.3" fill="#93f251"/><rect x="95" y="551" width="1.02" height="19.3" fill="#93f050"/><rect x="96" y="551" width="1.02" height="19.3" fill="#8af553"/><rect x="97" y="551" width="1.02" height="19.3" fill="#8ff252"/><rect x="98" y="551" width="1.02" height="19.3" fill="#8cf053"/><rect x="99" y="551" width="1.02" height="19.3" fill="#8ef750"/><rect x="100" y="551" width="1.02" height="19.3" fill="#8cef56"/><rect x="101" y="551" width="1.02" height="19.3" fill="#8af456"/><rect x="102" y="551" width="1.02" height="19.3" fill="#8df44c"/><rect x="103" y="551" width="1.02" height="19.3" fill="#8ded52"/><rect x="104" y="551" width="1.02" height="19.3" fill="#8ef055"/><rect x="105" y="551" width="1.02" height="19.3" fill="#8ff050"/><rect x="106" y="551" width="1.02" height="19.3" fill="#8af158"/><rect x="107" y="551" width="1.02" height="19.3" fill="#8cf350"/><rect x="108" y="551" width="1.02" height="19.3" fill="#90f351"/><rect x="109" y="551" width="1.02" height="19.3" fill="#89f055"/><rect x="110" y="551" width="1.02" height="19.3" fill="#8df450"/><rect x="111" y="551" width="1.02" height="19.3" fill="#88f353"/><rect x="112" y="551" width="1.02" height="19.3" fill="#8cf153"/><rect x="113" y="551" width="1.02" height="19.3" fill="#8cf351"/><rect x="114" y="551" width="1.02" height="19.3" fill="#87f150"/><rect x="115" y="551" width="1.02" height="19.3" fill="#8bf350"/><rect x="116" y="551" width="1.02" height="19.3" fill="#90f552"/><rect x="117" y="551" width="1.02" height="19.3" fill="#89f055"/><rect x="118" y="551" width="1.02" height="19.3" fill="#8df052"/><rect x="119" y="551" width="1.02" height="19.3" fill="#8ff354"/><rect x="120" y="551" width="1.02" height="19.3" fill="#8bf151"/><rect x="121" y="551" width="1.02" height="19.3" fill="#8eec51"/><rect x="122" y="551" width="1.02" height="19.3" fill="#8af657"/><rect x="123" y="551" width="1.02" height="19.3" fill="#93f451"/><rect x="124" y="551" width="1.02" height="19.3" fill="#91f154"/><rect x="125" y="551" width="1.02" height="19.3" fill="#8bf053"/><rect x="126" y="551" width="1.02" height="19.3" fill="#93f259"/><rect x="127" y="551" width="1.02" height="19.3" fill="#96ee52"/><rect x="128" y="551" width="1.02" height="19.3" fill="#8bf250"/><rect x="129" y="551" width="1.02" height="19.3" fill="#8ef555"/><rect x="130" y="551" width="1.02" height="19.3" fill="#8ff252"/><rect x="131" y="551" width="1.02" height="19.3" fill="#8ef452"/><rect x="132" y="551" width="1.02" height="19.3" fill="#8fee54"/><rect x="133" y="551" width="1.02" height="19.3" fill="#93f24e"/><rect x="134" y="551" width="1.02" height="19.3" fill="#92f149"/><rect x="135" y="551" width="1.02" height="19.3" fill="#8df453"/><rect x="136" y="551" width="1.02" height="19.3" fill="#92f452"/><rect x="137" y="551" width="1.02" height="19.3" fill="#88ef52"/><rect x="138" y="551" width="1.02" height="19.3" fill="#90ef50"/><rect x="139" y="551" width="1.02" height="19.3" fill="#8fec4c"/><rect x="140" y="551" width="1.02" height="19.3" fill="#8df351"/><rect x="141" y="551" width="1.02" height="19.3" fill="#87f24e"/><rect x="142" y="551" width="1.02" height="19.3" fill="#90f253"/><rect x="143" y="551" width="1.02" height="19.3" fill="#90f054"/><rect x="144" y="551" width="1.02" height="19.3" fill="#92f356"/><rect x="145" y="551" width="1.02" height="19.3" fill="#8cf553"/><rect x="146" y="551" width="1.02" height="19.3" fill="#8bf250"/><rect x="147" y="551" width="1.02" height="19.3" fill="#8cf255"/><rect x="148" y="551" width="1.02" height="19.3" fill="#8df24e"/><rect x="149" y="551" width="1.02" height="19.3" fill="#8ef554"/><rect x="150" y="551" width="1.02" height="19.3" fill="#8ff04f"/><rect x="151" y="551" width="1.02" height="19.3" fill="#8eee4e"/><rect x="152" y="551" width="1.02" height="19.3" fill="#91ef57"/><rect x="153" y="551" width="1.02" height="19.3" fill="#8af34e"/><rect x="154" y="551" width="1.02" height="19.3" fill="#8eef52"/><rect x="155" y="551" width="1.02" height="19.3" fill="#8ef153"/><rect x="156" y="551" width="1.02" height="19.3" fill="#92f055"/><rect x="157" y="551" width="1.02" height="19.3" fill="#8ef258"/><rect x="158" y="551" width="1.02" height="19.3" fill="#88f04d"/><rect x="159" y="551" width="1.02" height="19.3" fill="#8df15d"/><rect x="160" y="551" width="1.02" height="19.3" fill="#8ff756"/><rect x="161" y="551" width="1.02" height="19.3" fill="#8df357"/><rect x="162" y="551" width="1.02" height="19.3" fill="#8ef353"/><rect x="163" y="551" width="1.02" height="19.3" fill="#89f053"/><rect x="164" y="551" width="1.02" height="19.3" fill="#90ef51"/><rect x="165" y="551" width="1.02" height="19.3" fill="#8ef254"/><rect x="166" y="551" width="1.02" height="19.3" fill="#8ef24e"/><rect x="167" y="551" width="1.02" height="19.3" fill="#8bf34d"/><rect x="168" y="551" width="1.02" height="19.3" fill="#8ff050"/><rect x="169" y="551" width="1.02" height="19.3" fill="#90f04f"/><rect x="170" y="551" width="1.02" height="19.3" fill="#8cf25a"/><rect x="171" y="551" width="1.02" height="19.3" fill="#88f251"/><rect x="172" y="551" width="1.02" height="19.3" fill="#91f14b"/><rect x="173" y="551" width="1.02" height="19.3" fill="#92ef52"/><rect x="174" y="551" width="1.02" height="19.3" fill="#8aef50"/><rect x="175" y="551" width="1.02" height="19.3" fill="#90f450"/><rect x="176" y="551" width="1.02" height="19.3" fill="#8ff152"/><rect x="177" y="551" width="1.02" height="19.3" fill="#8ef450"/><rect x="178" y="551" width="1.02" height="19.3" fill="#8ef352"/><rect x="179" y="551" width="1.02" height="19.3" fill="#8cf751"/><rect x="180" y="551" width="1.02" height="19.3" fill="#90f356"/><rect x="181" y="551" width="1.02" height="19.3" fill="#87f851"/><rect x="182" y="551" width="1.02" height="19.3" fill="#8af259"/><rect x="183" y="551" width="1.02" height="19.3" fill="#8fee51"/><rect x="184" y="551" width="1.02" height="19.3" fill="#92ee51"/><rect x="185" y="551" width="1.02" height="19.3" fill="#8df851"/><rect x="186" y="551" width="1.02" height="19.3" fill="#92f050"/><rect x="187" y="551" width="1.02" height="19.3" fill="#91f44d"/><rect x="188" y="551" width="1.02" height="19.3" fill="#90f450"/><rect x="189" y="551" width="1.02" height="19.3" fill="#8ff350"/><rect x="190" y="551" width="1.02" height="19.3" fill="#8cf051"/><rect x="191" y="551" width="1.02" height="19.3" fill="#8af24d"/><rect x="192" y="551" width="1.02" height="19.3" fill="#8ef24f"/><rect x="193" y="551" width="1.02" height="19.3" fill="#90f856"/><rect x="194" y="551" width="1.02" height="19.3" fill="#8ef653"/><rect x="195" y="551" width="1.02" height="19.3" fill="#92f052"/><rect x="196" y="551" width="1.02" height="19.3" fill="#96f451"/><rect x="197" y="551" width="1.02" height="19.3" fill="#90f154"/><rect x="198" y="551" width="1.02" height="19.3" fill="#97ef52"/><rect x="199" y="551" width="1.02" height="19.3" fill="#a0ab47"/><rect x="200" y="551" width="1.02" height="19.3" fill="#94ee4f"/><rect x="201" y="551" width="1.02" height="19.3" fill="#95f353"/><rect x="202" y="551" width="1.02" height="19.3" fill="#a7b040"/><rect x="203" y="551" width="1.02" height="19.3" fill="#90ef52"/><rect x="204" y="551" width="1.02" height="19.3" fill="#95ef55"/><rect x="205" y="551" width="1.02" height="19.3" fill="#94ef52"/><rect x="206" y="551" width="1.02" height="19.3" fill="#92f454"/><rect x="207" y="551" width="1.02" height="19.3" fill="#a4ae4a"/><rect x="208" y="551" width="1.02" height="19.3" fill="#a9a945"/><rect x="209" y="551" width="1.02" height="19.3" fill="#a1ae42"/><rect x="210" y="551" width="1.02" height="19.3" fill="#8ff456"/><rect x="211" y="551" width="1.02" height="19.3" fill="#8ef351"/><rect x="212" y="551" width="1.02" height="19.3" fill="#91f24f"/><rect x="213" y="551" width="1.02" height="19.3" fill="#8ff454"/><rect x="214" y="551" width="1.02" height="19.3" fill="#90ee59"/><rect x="215" y="551" width="1.02" height="19.3" fill="#a7af47"/><rect x="216" y="551" width="1.02" height="19.3" fill="#90f34f"/><rect x="217" y="551" width="1.02" height="19.3" fill="#97f253"/><rect x="218" y="551" width="1.02" height="19.3" fill="#8fef50"/><rect x="219" y="551" width="1.02" height="19.3" fill="#93f151"/><rect x="220" y="551" width="1.02" height="19.3" fill="#93f356"/><rect x="221" y="551" width="1.02" height="19.3" fill="#9daa48"/><rect x="222" y="551" width="1.02" height="19.3" fill="#96f052"/><rect x="223" y="551" width="1.02" height="19.3" fill="#91f353"/><rect x="224" y="551" width="1.02" height="19.3" fill="#90f155"/><rect x="225" y="551" width="1.02" height="19.3" fill="#95f554"/><rect x="226" y="551" width="1.02" height="19.3" fill="#91f155"/><rect x="227" y="551" width="1.02" height="19.3" fill="#b1a945"/><rect x="228" y="551" width="1.02" height="19.3" fill="#aca543"/><rect x="229" y="551" width="1.02" height="19.3" fill="#ac8c3c"/><rect x="230" y="551" width="1.02" height="19.3" fill="#b1a44d"/><rect x="231" y="551" width="1.02" height="19.3" fill="#b2a04b"/><rect x="232" y="551" width="1.02" height="19.3" fill="#aa8b3f"/><rect x="233" y="551" width="1.02" height="19.3" fill="#ab903e"/><rect x="234" y="551" width="1.02" height="19.3" fill="#aea247"/><rect x="235" y="551" width="1.02" height="19.3" fill="#99f754"/><rect x="236" y="551" width="1.02" height="19.3" fill="#94f051"/><rect x="237" y="551" width="1.02" height="19.3" fill="#93f24f"/><rect x="238" y="551" width="1.02" height="19.3" fill="#90f353"/><rect x="239" y="551" width="1.02" height="19.3" fill="#8cf256"/><rect x="240" y="551" width="1.02" height="19.3" fill="#a0ab46"/><rect x="241" y="551" width="1.02" height="19.3" fill="#94ef4e"/><rect x="242" y="551" width="1.02" height="19.3" fill="#91f950"/><rect x="243" y="551" width="1.02" height="19.3" fill="#8ef353"/><rect x="244" y="551" width="1.02" height="19.3" fill="#97ee4d"/><rect x="245" y="551" width="1.02" height="19.3" fill="#91f353"/><rect x="246" y="551" width="1.02" height="19.3" fill="#a7ad47"/><rect x="247" y="551" width="1.02" height="19.3" fill="#a3ac46"/><rect x="248" y="551" width="1.02" height="19.3" fill="#91ef55"/><rect x="249" y="551" width="1.02" height="19.3" fill="#95fa51"/><rect x="250" y="551" width="1.02" height="19.3" fill="#97ee50"/><rect x="251" y="551" width="1.02" height="19.3" fill="#90f14f"/><rect x="252" y="551" width="1.02" height="19.3" fill="#90f251"/><rect x="253" y="551" width="1.02" height="19.3" fill="#94f252"/><rect x="254" y="551" width="1.02" height="19.3" fill="#96f352"/><rect x="255" y="551" width="1.02" height="19.3" fill="#92f254"/><rect x="256" y="551" width="1.02" height="19.3" fill="#90f557"/><rect x="257" y="551" width="1.02" height="19.3" fill="#95f04d"/><rect x="258" y="551" width="1.02" height="19.3" fill="#91f254"/><rect x="259" y="551" width="1.02" height="19.3" fill="#91f156"/><rect x="260" y="551" width="1.02" height="19.3" fill="#90f555"/><rect x="261" y="551" width="1.02" height="19.3" fill="#8ef350"/><rect x="262" y="551" width="1.02" height="19.3" fill="#8fec4d"/><rect x="263" y="551" width="1.02" height="19.3" fill="#93f153"/><rect x="264" y="551" width="1.02" height="19.3" fill="#8ff151"/><rect x="265" y="551" width="1.02" height="19.3" fill="#8ded53"/><rect x="266" y="551" width="1.02" height="19.3" fill="#92ef52"/><rect x="267" y="551" width="1.02" height="19.3" fill="#94f74f"/><rect x="268" y="551" width="1.02" height="19.3" fill="#94f852"/><rect x="269" y="551" width="1.02" height="19.3" fill="#96ea56"/><rect x="270" y="551" width="1.02" height="19.3" fill="#92ec54"/><rect x="271" y="551" width="1.02" height="19.3" fill="#a2a944"/><rect x="272" y="551" width="1.02" height="19.3" fill="#a4b049"/><rect x="273" y="551" width="1.02" height="19.3" fill="#a2aa48"/><rect x="274" y="551" width="1.02" height="19.3" fill="#92f453"/><rect x="275" y="551" width="1.02" height="19.3" fill="#99f84f"/><rect x="276" y="551" width="1.02" height="19.3" fill="#a6ab49"/><rect x="277" y="551" width="1.02" height="19.3" fill="#9faf45"/><rect x="278" y="551" width="1.02" height="19.3" fill="#91f451"/><rect x="279" y="551" width="1.02" height="19.3" fill="#a7ac48"/><rect x="280" y="551" width="1.02" height="19.3" fill="#93f54f"/><rect x="281" y="551" width="1.02" height="19.3" fill="#a8aa46"/><rect x="282" y="551" width="1.02" height="19.3" fill="#94ef56"/><rect x="283" y="551" width="1.02" height="19.3" fill="#8ef553"/><rect x="284" y="551" width="1.02" height="19.3" fill="#8fef51"/><rect x="285" y="551" width="1.02" height="19.3" fill="#a3ad41"/><rect x="286" y="551" width="1.02" height="19.3" fill="#8ef252"/><rect x="287" y="551" width="1.02" height="19.3" fill="#8cf34e"/><rect x="288" y="551" width="1.02" height="19.3" fill="#8bf051"/><rect x="289" y="551" width="1.02" height="19.3" fill="#95f056"/><rect x="290" y="551" width="1.02" height="19.3" fill="#96f556"/><rect x="291" y="551" width="1.02" height="19.3" fill="#93f054"/><rect x="292" y="551" width="1.02" height="19.3" fill="#95f351"/><rect x="293" y="551" width="1.02" height="19.3" fill="#a3ab44"/><rect x="294" y="551" width="1.02" height="19.3" fill="#a3a74a"/><rect x="295" y="551" width="1.02" height="19.3" fill="#92f454"/><rect x="298.9" y="453.2" width="0.12" height="19.43" fill="#8ff44e"/><rect x="299" y="453.2" width="1.02" height="19.43" fill="#8ff553"/><rect x="300" y="453.2" width="1.02" height="19.43" fill="#8df34e"/><rect x="301" y="453.2" width="1.02" height="19.43" fill="#8af254"/><rect x="302" y="453.2" width="1.02" height="19.43" fill="#91ec53"/><rect x="303" y="453.2" width="1.02" height="19.43" fill="#90ef49"/><rect x="304" y="453.2" width="1.02" height="19.43" fill="#a89945"/><rect x="305" y="453.2" width="4.02" height="19.43" fill="#657dbf"/><rect x="309" y="453.2" width="1.02" height="19.43" fill="#b8e853"/><rect x="310" y="453.2" width="3.02" height="19.43" fill="#995f2f"/><rect x="313" y="453.2" width="2.02" height="19.43" fill="#c1ea51"/><rect x="315" y="453.2" width="2.02" height="19.43" fill="#6285bb"/><rect x="317" y="453.2" width="2.02" height="19.43" fill="#8eef50"/><rect x="319" y="453.2" width="3.02" height="19.43" fill="#b6e351"/><rect x="322" y="453.2" width="2.02" height="19.43" fill="#6184c2"/><rect x="324" y="453.2" width="4.02" height="19.43" fill="#c6e052"/><rect x="328" y="453.2" width="3.02" height="19.43" fill="#94623b"/><rect x="331" y="453.2" width="2.02" height="19.43" fill="#6377be"/><rect x="333" y="453.2" width="1.02" height="19.43" fill="#9c5b38"/><rect x="334" y="453.2" width="1.02" height="19.43" fill="#e9e04e"/><rect x="335" y="453.2" width="1.02" height="19.43" fill="#619b9b"/><rect x="336" y="453.2" width="2.02" height="19.43" fill="#97ef57"/><rect x="338" y="453.2" width="2.02" height="19.43" fill="#2636cf"/><rect x="340" y="453.2" width="1.02" height="19.43" fill="#8fff50"/><rect x="341" y="453.2" width="4.02" height="19.43" fill="#b9e152"/><rect x="345" y="453.2" width="2.02" height="19.43" fill="#a39938"/><rect x="347" y="453.2" width="4.02" height="19.43" fill="#bcda50"/><rect x="351" y="453.2" width="4.02" height="19.43" fill="#a79543"/><rect x="355" y="453.2" width="3.02" height="19.43" fill="#8ee952"/><rect x="358" y="453.2" width="2.02" height="19.43" fill="#c2e74c"/><rect x="360" y="453.2" width="2.02" height="19.43" fill="#609d90"/><rect x="362" y="453.2" width="1.02" height="19.43" fill="#a49645"/><rect x="363" y="453.2" width="1.02" height="19.43" fill="#252595"/><rect x="364" y="453.2" width="2.02" height="19.43" fill="#a49645"/><rect x="366" y="453.2" width="3.02" height="19.43" fill="#c7edc7"/><rect x="369" y="453.2" width="1.02" height="19.43" fill="#bbeb4d"/><rect x="370" y="453.2" width="3.02" height="19.43" fill="#92f44b"/><rect x="373" y="453.2" width="1.02" height="19.43" fill="#617cc0"/><rect x="374" y="453.2" width="4.02" height="19.43" fill="#89f25a"/><rect x="378" y="453.2" width="1.02" height="19.43" fill="#c7f250"/><rect x="379" y="453.2" width="1.02" height="19.43" fill="#5f9c9a"/><rect x="380" y="453.2" width="1.02" height="19.43" fill="#ad9d49"/><rect x="381" y="453.2" width="2.02" height="19.43" fill="#ede553"/><rect x="383" y="453.2" width="1.02" height="19.43" fill="#8af252"/><rect x="384" y="453.2" width="1.02" height="19.43" fill="#59a397"/><rect x="385" y="453.2" width="4.02" height="19.43" fill="#bee94a"/><rect x="389" y="453.2" width="2.02" height="19.43" fill="#c2e556"/><rect x="391" y="453.2" width="3.02" height="19.43" fill="#87f543"/><rect x="394" y="453.2" width="1.02" height="19.43" fill="#c1ec4c"/><rect x="395" y="453.2" width="4.02" height="19.43" fill="#5b7ec4"/><rect x="399" y="453.2" width="5.02" height="19.43" fill="#9ae252"/><rect x="404" y="453.2" width="2.02" height="19.43" fill="#68a59a"/><rect x="406" y="453.2" width="2.02" height="19.43" fill="#bdec5b"/><rect x="408" y="453.2" width="1.02" height="19.43" fill="#c3f1c1"/><rect x="409" y="453.2" width="1.02" height="19.43" fill="#1d2edb"/><rect x="410" y="453.2" width="1.02" height="19.43" fill="#2433d7"/><rect x="411" y="453.2" width="1.02" height="19.43" fill="#c3f1c1"/><rect x="412" y="453.2" width="3.02" height="19.43" fill="#a34f3e"/><rect x="415" y="453.2" width="1.02" height="19.43" fill="#81b5ec"/><rect x="416" y="453.2" width="1.02" height="19.43" fill="#6541af"/><rect x="417" y="453.2" width="2.02" height="19.43" fill="#5f85c5"/><rect x="419" y="453.2" width="2.02" height="19.43" fill="#c9ebc3"/><rect x="421" y="453.2" width="2.02" height="19.43" fill="#242cdd"/><rect x="423" y="453.2" width="3.02" height="19.43" fill="#9c5245"/><rect x="426" y="453.2" width="1.02" height="19.43" fill="#5e8ac1"/><rect x="427" y="453.2" width="2.02" height="19.43" fill="#2231d7"/><rect x="429" y="453.2" width="4.02" height="19.43" fill="#a55036"/><rect x="433" y="453.2" width="3.02" height="19.43" fill="#83aef3"/><rect x="436" y="453.2" width="3.02" height="19.43" fill="#273ed9"/><rect x="439" y="453.2" width="1.02" height="19.43" fill="#2c34d4"/><rect x="440" y="453.2" width="3.02" height="19.43" fill="#517ec7"/><rect x="443" y="453.2" width="1.02" height="19.43" fill="#2226e5"/><rect x="444" y="453.2" width="2.02" height="19.43" fill="#7bbcf0"/><rect x="446" y="453.2" width="2.02" height="19.43" fill="#c8e5bc"/><rect x="448" y="453.2" width="4.02" height="19.43" fill="#9f5736"/><rect x="452" y="453.2" width="3.02" height="19.43" fill="#86b1ee"/><rect x="455" y="453.2" width="1.02" height="19.43" fill="#2534d4"/><rect x="456" y="453.2" width="3.02" height="19.43" fill="#7bbdf0"/><rect x="459" y="453.2" width="1.02" height="19.43" fill="#1c30df"/><rect x="460" y="453.2" width="1.02" height="19.43" fill="#203be3"/><rect x="461" y="453.2" width="4.02" height="19.43" fill="#7fb7ed"/><rect x="465" y="453.2" width="1.02" height="19.43" fill="#6383c9"/><rect x="466" y="453.2" width="1.02" height="19.43" fill="#7db7f5"/><rect x="467" y="453.2" width="2.02" height="19.43" fill="#c9e3c7"/><rect x="469" y="453.2" width="1.02" height="19.43" fill="#6f39b4"/><rect x="470" y="453.2" width="6.02" height="19.43" fill="#2027e2"/><rect x="476" y="453.2" width="1.02" height="19.43" fill="#84adf6"/><rect x="477" y="453.2" width="2.02" height="19.43" fill="#9d4c41"/><rect x="479" y="453.2" width="1.02" height="19.43" fill="#c2f0d2"/><rect x="480" y="453.2" width="2.02" height="19.43" fill="#6e37b7"/><rect x="482" y="453.2" width="1.02" height="19.43" fill="#1d38cd"/><rect x="483" y="453.2" width="5.02" height="19.43" fill="#7dbcfc"/><rect x="488" y="453.2" width="1.02" height="19.43" fill="#2131d5"/><rect x="489" y="453.2" width="1.02" height="19.43" fill="#a15637"/><rect x="490" y="453.2" width="1.02" height="19.43" fill="#9d5937"/><rect x="491" y="453.2" width="1.02" height="19.43" fill="#a35a36"/><rect x="492" y="453.2" width="1.02" height="19.43" fill="#5f7cc4"/><rect x="493" y="453.2" width="4.02" height="19.43" fill="#1c34d8"/><rect x="497" y="453.2" width="2.02" height="19.43" fill="#83b1f7"/><rect x="499" y="453.2" width="1.02" height="19.43" fill="#772ea2"/><rect x="500" y="453.2" width="2.02" height="19.43" fill="#618bc3"/><rect x="502" y="453.2" width="1.02" height="19.43" fill="#1f2bd9"/><rect x="503" y="453.2" width="1.02" height="19.43" fill="#222ed5"/><rect x="504" y="453.2" width="1.02" height="19.43" fill="#2131d0"/><rect x="505" y="453.2" width="1.02" height="19.43" fill="#2532d8"/><rect x="506" y="453.2" width="1.02" height="19.43" fill="#81b5f0"/><rect x="507" y="453.2" width="1.02" height="19.43" fill="#83bbf1"/><rect x="508" y="453.2" width="1.02" height="19.43" fill="#2946ec"/><rect x="509" y="453.2" width="1.02" height="19.43" fill="#2c47e2"/><rect x="510" y="453.2" width="1.02" height="19.43" fill="#2742ec"/><rect x="511" y="453.2" width="1.02" height="19.43" fill="#2b46e7"/><rect x="512" y="453.2" width="1.02" height="19.43" fill="#324ce4"/><rect x="513" y="453.2" width="1.02" height="19.43" fill="#2a44e3"/><rect x="514" y="453.2" width="1.02" height="19.43" fill="#232999"/><rect x="515" y="453.2" width="1.02" height="19.43" fill="#222195"/><rect x="516" y="453.2" width="1.02" height="19.43" fill="#251e8f"/><rect x="517" y="453.2" width="0.82" height="19.43" fill="#282399"/><rect x="298.9" y="472.63" width="0.12" height="19.43" fill="#8ef050"/><rect x="299" y="472.63" width="1.02" height="19.43" fill="#95f8e1"/><rect x="300" y="472.63" width="1.02" height="19.43" fill="#93ffd9"/><rect x="301" y="472.63" width="1.02" height="19.43" fill="#93ffe4"/><rect x="302" y="472.63" width="1.02" height="19.43" fill="#89f9e0"/><rect x="303" y="472.63" width="1.02" height="19.43" fill="#8fffde"/><rect x="304" y="472.63" width="1.02" height="19.43" fill="#94fddc"/><rect x="305" y="472.63" width="1.02" height="19.43" fill="#8dfae0"/><rect x="306" y="472.63" width="1.02" height="19.43" fill="#93fae3"/><rect x="307" y="472.63" width="1.02" height="19.43" fill="#8bf2df"/><rect x="308" y="472.63" width="1.02" height="19.43" fill="#91fadd"/><rect x="309" y="472.63" width="1.02" height="19.43" fill="#91ffe0"/><rect x="310" y="472.63" width="1.02" height="19.43" fill="#8ef8e6"/><rect x="311" y="472.63" width="1.02" height="19.43" fill="#90fde4"/><rect x="312" y="472.63" width="1.02" height="19.43" fill="#93f8e3"/><rect x="313" y="472.63" width="1.02" height="19.43" fill="#93fce3"/><rect x="314" y="472.63" width="1.02" height="19.43" fill="#8efbde"/><rect x="315" y="472.63" width="1.02" height="19.43" fill="#92f9e1"/><rect x="316" y="472.63" width="1.02" height="19.43" fill="#8dfbdf"/><rect x="317" y="472.63" width="1.02" height="19.43" fill="#90fbdf"/><rect x="318" y="472.63" width="1.02" height="19.43" fill="#8ff5e3"/><rect x="319" y="472.63" width="1.02" height="19.43" fill="#8efade"/><rect x="320" y="472.63" width="1.02" height="19.43" fill="#93f8e2"/><rect x="321" y="472.63" width="1.02" height="19.43" fill="#94ffe4"/><rect x="322" y="472.63" width="1.02" height="19.43" fill="#92f7e4"/><rect x="323" y="472.63" width="1.02" height="19.43" fill="#94fee2"/><rect x="324" y="472.63" width="1.02" height="19.43" fill="#90f9e3"/><rect x="325" y="472.63" width="1.02" height="19.43" fill="#94f8e3"/><rect x="326" y="472.63" width="1.02" height="19.43" fill="#91fee1"/><rect x="327" y="472.63" width="1.02" height="19.43" fill="#93fee3"/><rect x="328" y="472.63" width="1.02" height="19.43" fill="#8cfde0"/><rect x="329" y="472.63" width="1.02" height="19.43" fill="#8dfddc"/><rect x="330" y="472.63" width="1.02" height="19.43" fill="#93ffdf"/><rect x="331" y="472.63" width="1.02" height="19.43" fill="#93fce2"/><rect x="332" y="472.63" width="1.02" height="19.43" fill="#8cfde0"/><rect x="333" y="472.63" width="1.02" height="19.43" fill="#92fbe3"/><rect x="334" y="472.63" width="1.02" height="19.43" fill="#91fde4"/><rect x="335" y="472.63" width="1.02" height="19.43" fill="#91fee1"/><rect x="336" y="472.63" width="1.02" height="19.43" fill="#92fae2"/><rect x="337" y="472.63" width="1.02" height="19.43" fill="#94fbe2"/><rect x="338" y="472.63" width="1.02" height="19.43" fill="#91f8e1"/><rect x="339" y="472.63" width="1.02" height="19.43" fill="#94fadb"/><rect x="340" y="472.63" width="1.02" height="19.43" fill="#91f9e6"/><rect x="341" y="472.63" width="1.02" height="19.43" fill="#90fbde"/><rect x="342" y="472.63" width="1.02" height="19.43" fill="#91f9dd"/><rect x="343" y="472.63" width="1.02" height="19.43" fill="#90f9e4"/><rect x="344" y="472.63" width="1.02" height="19.43" fill="#8dfbde"/><rect x="345" y="472.63" width="1.02" height="19.43" fill="#8cffda"/><rect x="346" y="472.63" width="1.02" height="19.43" fill="#94f7e0"/><rect x="347" y="472.63" width="1.02" height="19.43" fill="#97f5dc"/><rect x="348" y="472.63" width="1.02" height="19.43" fill="#94fcde"/><rect x="349" y="472.63" width="1.02" height="19.43" fill="#90f8e0"/><rect x="350" y="472.63" width="1.02" height="19.43" fill="#95fae1"/><rect x="351" y="472.63" width="1.02" height="19.43" fill="#94ffde"/><rect x="352" y="472.63" width="1.02" height="19.43" fill="#91f9de"/><rect x="353" y="472.63" width="1.02" height="19.43" fill="#8ff9db"/><rect x="354" y="472.63" width="1.02" height="19.43" fill="#8af9e0"/><rect x="355" y="472.63" width="1.02" height="19.43" fill="#94fae0"/><rect x="356" y="472.63" width="1.02" height="19.43" fill="#92fde0"/><rect x="357" y="472.63" width="1.02" height="19.43" fill="#90ffdf"/><rect x="358" y="472.63" width="1.02" height="19.43" fill="#8ff6e1"/><rect x="359" y="472.63" width="1.02" height="19.43" fill="#8fffdf"/><rect x="360" y="472.63" width="1.02" height="19.43" fill="#a99f7a"/><rect x="361" y="472.63" width="1.02" height="19.43" fill="#8cffe0"/><rect x="362" y="472.63" width="1.02" height="19.43" fill="#90fadf"/><rect x="363" y="472.63" width="1.02" height="19.43" fill="#8ff4e2"/><rect x="364" y="472.63" width="1.02" height="19.43" fill="#90f8e0"/><rect x="365" y="472.63" width="1.02" height="19.43" fill="#97fcdf"/><rect x="366" y="472.63" width="1.02" height="19.43" fill="#95f9e0"/><rect x="367" y="472.63" width="1.02" height="19.43" fill="#8efae2"/><rect x="368" y="472.63" width="1.02" height="19.43" fill="#92f9e0"/><rect x="369" y="472.63" width="1.02" height="19.43" fill="#90fae0"/><rect x="370" y="472.63" width="1.02" height="19.43" fill="#8ef9e0"/><rect x="371" y="472.63" width="1.02" height="19.43" fill="#8dfce0"/><rect x="372" y="472.63" width="1.02" height="19.43" fill="#8df9df"/><rect x="373" y="472.63" width="1.02" height="19.43" fill="#90fbdf"/><rect x="374" y="472.63" width="1.02" height="19.43" fill="#8effe3"/><rect x="375" y="472.63" width="1.02" height="19.43" fill="#90fee1"/><rect x="376" y="472.63" width="1.02" height="19.43" fill="#8ffbe8"/><rect x="377" y="472.63" width="1.02" height="19.43" fill="#93fedf"/><rect x="378" y="472.63" width="1.02" height="19.43" fill="#92ffe1"/><rect x="379" y="472.63" width="1.02" height="19.43" fill="#93ffe2"/><rect x="380" y="472.63" width="1.02" height="19.43" fill="#95fce2"/><rect x="381" y="472.63" width="1.02" height="19.43" fill="#8effe1"/><rect x="382" y="472.63" width="1.02" height="19.43" fill="#90ffdf"/><rect x="383" y="472.63" width="1.02" height="19.43" fill="#90f9e0"/><rect x="384" y="472.63" width="1.02" height="19.43" fill="#8ffde0"/><rect x="385" y="472.63" width="1.02" height="19.43" fill="#8efae0"/><rect x="386" y="472.63" width="1.02" height="19.43" fill="#8ffee2"/><rect x="387" y="472.63" width="1.02" height="19.43" fill="#91f8e2"/><rect x="388" y="472.63" width="1.02" height="19.43" fill="#8cfce0"/><rect x="389" y="472.63" width="1.02" height="19.43" fill="#8ef9de"/><rect x="390" y="472.63" width="1.02" height="19.43" fill="#96fadf"/><rect x="391" y="472.63" width="1.02" height="19.43" fill="#93fce3"/><rect x="392" y="472.63" width="1.02" height="19.43" fill="#8df8ea"/><rect x="393" y="472.63" width="1.02" height="19.43" fill="#90fae1"/><rect x="394" y="472.63" width="1.02" height="19.43" fill="#93f8e1"/><rect x="395" y="472.63" width="1.02" height="19.43" fill="#90fde1"/><rect x="396" y="472.63" width="1.02" height="19.43" fill="#9ff6a9"/><rect x="397" y="472.63" width="1.02" height="19.43" fill="#a3f4af"/><rect x="398" y="472.63" width="1.02" height="19.43" fill="#a5f7b2"/><rect x="399" y="472.63" width="1.02" height="19.43" fill="#9ffab0"/><rect x="400" y="472.63" width="1.02" height="19.43" fill="#9ffcaf"/><rect x="401" y="472.63" width="1.02" height="19.43" fill="#9cf7b2"/><rect x="402" y="472.63" width="1.02" height="19.43" fill="#8dfde2"/><rect x="403" y="472.63" width="1.02" height="19.43" fill="#96f9e2"/><rect x="404" y="472.63" width="1.02" height="19.43" fill="#8bfae0"/><rect x="405" y="472.63" width="1.02" height="19.43" fill="#91fbe0"/><rect x="406" y="472.63" width="1.02" height="19.43" fill="#8efae1"/><rect x="407" y="472.63" width="1.02" height="19.43" fill="#92fde3"/><rect x="408" y="472.63" width="1.02" height="19.43" fill="#a4eb5f"/><rect x="409" y="472.63" width="1.02" height="19.43" fill="#a0ee63"/><rect x="410" y="472.63" width="1.02" height="19.43" fill="#a2f060"/><rect x="411" y="472.63" width="1.02" height="19.43" fill="#a4ef5f"/><rect x="412" y="472.63" width="1.02" height="19.43" fill="#a3f164"/><rect x="413" y="472.63" width="1.02" height="19.43" fill="#a1f2e7"/><rect x="414" y="472.63" width="1.02" height="19.43" fill="#9df0e0"/><rect x="415" y="472.63" width="1.02" height="19.43" fill="#a1f3e8"/><rect x="416" y="472.63" width="1.02" height="19.43" fill="#9ff3e8"/><rect x="417" y="472.63" width="1.02" height="19.43" fill="#a3f6ea"/><rect x="418" y="472.63" width="1.02" height="19.43" fill="#93f9d1"/><rect x="419" y="472.63" width="1.02" height="19.43" fill="#91f8d3"/><rect x="420" y="472.63" width="1.02" height="19.43" fill="#8bf7d2"/><rect x="421" y="472.63" width="1.02" height="19.43" fill="#8ef8ce"/><rect x="422" y="472.63" width="1.02" height="19.43" fill="#91fbd4"/><rect x="423" y="472.63" width="1.02" height="19.43" fill="#a2eea1"/><rect x="424" y="472.63" width="1.02" height="19.43" fill="#a2f49a"/><rect x="425" y="472.63" width="1.02" height="19.43" fill="#a1eba2"/><rect x="426" y="472.63" width="1.02" height="19.43" fill="#a1f2a3"/><rect x="427" y="472.63" width="1.02" height="19.43" fill="#a1eea1"/><rect x="428" y="472.63" width="1.02" height="19.43" fill="#a4f0a0"/><rect x="429" y="472.63" width="1.02" height="19.43" fill="#9df39f"/><rect x="430" y="472.63" width="1.02" height="19.43" fill="#9eef9e"/><rect x="431" y="472.63" width="1.02" height="19.43" fill="#9ff4a2"/><rect x="432" y="472.63" width="3.02" height="19.43" fill="#f2a037"/><rect x="435" y="472.63" width="2.02" height="19.43" fill="#88f34b"/><rect x="437" y="472.63" width="1.02" height="19.43" fill="#ea933f"/><rect x="438" y="472.63" width="1.02" height="19.43" fill="#a7f48e"/><rect x="439" y="472.63" width="1.02" height="19.43" fill="#bcdd4d"/><rect x="440" y="472.63" width="1.02" height="19.43" fill="#b69f34"/><rect x="441" y="472.63" width="1.02" height="19.43" fill="#dd9145"/><rect x="442" y="472.63" width="1.02" height="19.43" fill="#e65f30"/><rect x="443" y="472.63" width="1.02" height="19.43" fill="#bbe047"/><rect x="444" y="472.63" width="1.02" height="19.43" fill="#e47f4c"/><rect x="445" y="472.63" width="1.02" height="19.43" fill="#91e651"/><rect x="446" y="472.63" width="1.02" height="19.43" fill="#ee8a41"/><rect x="447" y="472.63" width="3.02" height="19.43" fill="#a7fe7e"/><rect x="450" y="472.63" width="1.02" height="19.43" fill="#aaa441"/><rect x="451" y="472.63" width="1.02" height="19.43" fill="#a7e586"/><rect x="452" y="472.63" width="1.02" height="19.43" fill="#a39e40"/><rect x="453" y="472.63" width="1.02" height="19.43" fill="#a55b3b"/><rect x="454" y="472.63" width="2.02" height="19.43" fill="#c0e747"/><rect x="456" y="472.63" width="1.02" height="19.43" fill="#95ef54"/><rect x="457" y="472.63" width="1.02" height="19.43" fill="#c8e951"/><rect x="458" y="472.63" width="3.02" height="19.43" fill="#89eb52"/><rect x="461" y="472.63" width="2.02" height="19.43" fill="#cdecc7"/><rect x="463" y="472.63" width="1.02" height="19.43" fill="#b5ed8f"/><rect x="464" y="472.63" width="1.02" height="19.43" fill="#e7903e"/><rect x="465" y="472.63" width="2.02" height="19.43" fill="#8af14b"/><rect x="467" y="472.63" width="1.02" height="19.43" fill="#a1a946"/><rect x="468" y="472.63" width="2.02" height="19.43" fill="#d2f34c"/><rect x="470" y="472.63" width="1.02" height="19.43" fill="#8ff055"/><rect x="471" y="472.63" width="1.02" height="19.43" fill="#a3f990"/><rect x="472" y="472.63" width="1.02" height="19.43" fill="#efdc45"/><rect x="473" y="472.63" width="1.02" height="19.43" fill="#8fdf52"/><rect x="474" y="472.63" width="1.02" height="19.43" fill="#d2efc3"/><rect x="475" y="472.63" width="1.02" height="19.43" fill="#ec8e3b"/><rect x="476" y="472.63" width="1.02" height="19.43" fill="#e88c3f"/><rect x="477" y="472.63" width="1.02" height="19.43" fill="#83ea46"/><rect x="478" y="472.63" width="2.02" height="19.43" fill="#cceed7"/><rect x="480" y="472.63" width="1.02" height="19.43" fill="#93e44a"/><rect x="481" y="472.63" width="1.02" height="19.43" fill="#a0572f"/><rect x="482" y="472.63" width="1.02" height="19.43" fill="#c7eb4e"/><rect x="483" y="472.63" width="2.02" height="19.43" fill="#a6e48c"/><rect x="485" y="472.63" width="1.02" height="19.43" fill="#91f25e"/><rect x="486" y="472.63" width="1.02" height="19.43" fill="#e4923c"/><rect x="487" y="472.63" width="1.02" height="19.43" fill="#ada745"/><rect x="488" y="472.63" width="1.02" height="19.43" fill="#c3e0c5"/><rect x="489" y="472.63" width="1.02" height="19.43" fill="#ea8f3f"/><rect x="490" y="472.63" width="1.02" height="19.43" fill="#8de355"/><rect x="491" y="472.63" width="1.02" height="19.43" fill="#c1ed4e"/><rect x="492" y="472.63" width="1.02" height="19.43" fill="#aff187"/><rect x="493" y="472.63" width="1.02" height="19.43" fill="#c2e54b"/><rect x="494" y="472.63" width="1.02" height="19.43" fill="#8ff14f"/><rect x="495" y="472.63" width="1.02" height="19.43" fill="#f2983c"/><rect x="496" y="472.63" width="1.02" height="19.43" fill="#9f5634"/><rect x="497" y="472.63" width="1.02" height="19.43" fill="#a35832"/><rect x="498" y="472.63" width="1.02" height="19.43" fill="#a14f39"/><rect x="499" y="472.63" width="1.02" height="19.43" fill="#9f5438"/><rect x="500" y="472.63" width="1.02" height="19.43" fill="#9f5e37"/><rect x="501" y="472.63" width="1.02" height="19.43" fill="#edd54d"/><rect x="502" y="472.63" width="1.02" height="19.43" fill="#cce54d"/><rect x="503" y="472.63" width="1.02" height="19.43" fill="#91fac6"/><rect x="504" y="472.63" width="1.02" height="19.43" fill="#8dfecb"/><rect x="505" y="472.63" width="1.02" height="19.43" fill="#8bf3c6"/><rect x="506" y="472.63" width="1.02" height="19.43" fill="#91fac7"/><rect x="507" y="472.63" width="1.02" height="19.43" fill="#8bf9ca"/><rect x="508" y="472.63" width="1.02" height="19.43" fill="#90f6ca"/><rect x="509" y="472.63" width="1.02" height="19.43" fill="#90f5c8"/><rect x="510" y="472.63" width="1.02" height="19.43" fill="#8af351"/><rect x="511" y="472.63" width="1.02" height="19.43" fill="#8bf154"/><rect x="512" y="472.63" width="1.02" height="19.43" fill="#88f055"/><rect x="513" y="472.63" width="1.02" height="19.43" fill="#89ef4c"/><rect x="514" y="472.63" width="1.02" height="19.43" fill="#8ee94b"/><rect x="515" y="472.63" width="1.02" height="19.43" fill="#8cf051"/><rect x="516" y="472.63" width="1.02" height="19.43" fill="#8ff352"/><rect x="517" y="472.63" width="0.82" height="19.43" fill="#90ed4f"/><rect x="298.9" y="492.06" width="0.12" height="19.43" fill="#8ef050"/><rect x="299" y="492.06" width="2.02" height="19.43" fill="#1c2b93"/><rect x="301" y="492.06" width="5.02" height="19.43" fill="#608ecb"/><rect x="306" y="492.06" width="5.02" height="19.43" fill="#8da0ba"/><rect x="311" y="492.06" width="2.02" height="19.43" fill="#bfe958"/><rect x="313" y="492.06" width="2.02" height="19.43" fill="#efd452"/><rect x="315" y="492.06" width="1.02" height="19.43" fill="#cee2c5"/><rect x="316" y="492.06" width="3.02" height="19.43" fill="#f59244"/><rect x="319" y="492.06" width="2.02" height="19.43" fill="#c5e24c"/><rect x="321" y="492.06" width="2.02" height="19.43" fill="#f2dc4d"/><rect x="323" y="492.06" width="3.02" height="19.43" fill="#6d39a8"/><rect x="326" y="492.06" width="2.02" height="19.43" fill="#a29d38"/><rect x="328" y="492.06" width="1.02" height="19.43" fill="#5b22ac"/><rect x="329" y="492.06" width="2.02" height="19.43" fill="#f7e341"/><rect x="331" y="492.06" width="1.02" height="19.43" fill="#c3eace"/><rect x="332" y="492.06" width="1.02" height="19.43" fill="#bbdf54"/><rect x="333" y="492.06" width="3.02" height="19.43" fill="#569ea7"/><rect x="336" y="492.06" width="2.02" height="19.43" fill="#232398"/><rect x="338" y="492.06" width="2.02" height="19.43" fill="#d0efcd"/><rect x="340" y="492.06" width="4.02" height="19.43" fill="#2819aa"/><rect x="344" y="492.06" width="1.02" height="19.43" fill="#9786a6"/><rect x="345" y="492.06" width="3.02" height="19.43" fill="#bde943"/><rect x="348" y="492.06" width="1.02" height="19.43" fill="#a3a558"/><rect x="349" y="492.06" width="2.02" height="19.43" fill="#c3eed2"/><rect x="351" y="492.06" width="1.02" height="19.43" fill="#bef944"/><rect x="352" y="492.06" width="1.02" height="19.43" fill="#921030"/><rect x="353" y="492.06" width="1.02" height="19.43" fill="#e7d454"/><rect x="354" y="492.06" width="3.02" height="19.43" fill="#a19ba7"/><rect x="357" y="492.06" width="4.02" height="19.43" fill="#67339f"/><rect x="361" y="492.06" width="1.02" height="19.43" fill="#aaa036"/><rect x="362" y="492.06" width="3.02" height="19.43" fill="#691fa4"/><rect x="365" y="492.06" width="3.02" height="19.43" fill="#ebef55"/><rect x="368" y="492.06" width="3.02" height="19.43" fill="#a5a047"/><rect x="371" y="492.06" width="3.02" height="19.43" fill="#c1dfc3"/><rect x="374" y="492.06" width="2.02" height="19.43" fill="#ecd655"/><rect x="376" y="492.06" width="6.02" height="19.43" fill="#999ca9"/><rect x="382" y="492.06" width="2.02" height="19.43" fill="#c7f3bf"/><rect x="384" y="492.06" width="1.02" height="19.43" fill="#b09942"/><rect x="385" y="492.06" width="5.02" height="19.43" fill="#b6e949"/><rect x="390" y="492.06" width="1.02" height="19.43" fill="#bbe6d2"/><rect x="391" y="492.06" width="4.02" height="19.43" fill="#639493"/><rect x="395" y="492.06" width="3.02" height="19.43" fill="#fada4e"/><rect x="398" y="492.06" width="6.02" height="19.43" fill="#1c1a98"/><rect x="404" y="492.06" width="1.02" height="19.43" fill="#c7efc5"/><rect x="405" y="492.06" width="5.02" height="19.43" fill="#231ea8"/><rect x="410" y="492.06" width="2.02" height="19.43" fill="#587cbd"/><rect x="412" y="492.06" width="4.02" height="19.43" fill="#6a369c"/><rect x="416" y="492.06" width="3.02" height="19.43" fill="#bee449"/><rect x="419" y="492.06" width="2.02" height="19.43" fill="#aaa23f"/><rect x="421" y="492.06" width="1.02" height="19.43" fill="#83203a"/><rect x="422" y="492.06" width="2.02" height="19.43" fill="#9f963f"/><rect x="424" y="492.06" width="2.02" height="19.43" fill="#884d3a"/><rect x="426" y="492.06" width="3.02" height="19.43" fill="#cef8c8"/><rect x="429" y="492.06" width="4.02" height="19.43" fill="#7286b7"/><rect x="433" y="492.06" width="1.02" height="19.43" fill="#919faf"/><rect x="434" y="492.06" width="4.02" height="19.43" fill="#1829d8"/><rect x="438" y="492.06" width="3.02" height="19.43" fill="#7533b2"/><rect x="441" y="492.06" width="2.02" height="19.43" fill="#c2e54b"/><rect x="443" y="492.06" width="2.02" height="19.43" fill="#9096a6"/><rect x="445" y="492.06" width="4.02" height="19.43" fill="#ac9e3f"/><rect x="449" y="492.06" width="2.02" height="19.43" fill="#f3d048"/><rect x="451" y="492.06" width="2.02" height="19.43" fill="#d1edd0"/><rect x="453" y="492.06" width="1.02" height="19.43" fill="#172cd4"/><rect x="454" y="492.06" width="3.02" height="19.43" fill="#6738aa"/><rect x="457" y="492.06" width="2.02" height="19.43" fill="#beeac7"/><rect x="459" y="492.06" width="1.02" height="19.43" fill="#ab9946"/><rect x="460" y="492.06" width="2.02" height="19.43" fill="#ead154"/><rect x="462" y="492.06" width="1.02" height="19.43" fill="#9598a8"/><rect x="463" y="492.06" width="1.02" height="19.43" fill="#5b83c4"/><rect x="464" y="492.06" width="3.02" height="19.43" fill="#1b28e0"/><rect x="467" y="492.06" width="1.02" height="19.43" fill="#5783ba"/><rect x="468" y="492.06" width="2.02" height="19.43" fill="#d0ddca"/><rect x="470" y="492.06" width="1.02" height="19.43" fill="#c5e449"/><rect x="471" y="492.06" width="2.02" height="19.43" fill="#311f8f"/><rect x="473" y="492.06" width="5.02" height="19.43" fill="#a99e3f"/><rect x="478" y="492.06" width="4.02" height="19.43" fill="#f4df56"/><rect x="482" y="492.06" width="1.02" height="19.43" fill="#8f96a9"/><rect x="483" y="492.06" width="2.02" height="19.43" fill="#beebd3"/><rect x="485" y="492.06" width="2.02" height="19.43" fill="#1c2bd5"/><rect x="487" y="492.06" width="3.02" height="19.43" fill="#9f533b"/><rect x="490" y="492.06" width="1.02" height="19.43" fill="#2530d5"/><rect x="491" y="492.06" width="1.02" height="19.43" fill="#2332da"/><rect x="492" y="492.06" width="1.02" height="19.43" fill="#2430d9"/><rect x="493" y="492.06" width="1.02" height="19.43" fill="#2531d7"/><rect x="494" y="492.06" width="2.02" height="19.43" fill="#c0e24f"/><rect x="496" y="492.06" width="1.02" height="19.43" fill="#242ada"/><rect x="497" y="492.06" width="2.02" height="19.43" fill="#6d40a1"/><rect x="499" y="492.06" width="1.02" height="19.43" fill="#1e39d9"/><rect x="500" y="492.06" width="1.02" height="19.43" fill="#1f249a"/><rect x="501" y="492.06" width="1.02" height="19.43" fill="#1e2497"/><rect x="502" y="492.06" width="1.02" height="19.43" fill="#202191"/><rect x="503" y="492.06" width="2.02" height="19.43" fill="#f3dc51"/><rect x="505" y="492.06" width="1.02" height="19.43" fill="#ae9840"/><rect x="506" y="492.06" width="2.02" height="19.43" fill="#6634ae"/><rect x="508" y="492.06" width="3.02" height="19.43" fill="#20238e"/><rect x="511" y="492.06" width="2.02" height="19.43" fill="#8e8daa"/><rect x="513" y="492.06" width="1.02" height="19.43" fill="#2033da"/><rect x="514" y="492.06" width="1.02" height="19.43" fill="#2235d9"/><rect x="515" y="492.06" width="1.02" height="19.43" fill="#1f36dc"/><rect x="516" y="492.06" width="1.82" height="19.43" fill="#d2e7cc"/><rect x="298.9" y="511.49" width="0.12" height="19.43" fill="#8ef050"/><rect x="299" y="511.49" width="2.02" height="19.43" fill="#c9f9b7"/><rect x="301" y="511.49" width="2.02" height="19.43" fill="#5c8cc3"/><rect x="303" y="511.49" width="2.02" height="19.43" fill="#9c8aaa"/><rect x="305" y="511.49" width="2.02" height="19.43" fill="#e5d95b"/><rect x="307" y="511.49" width="1.02" height="19.43" fill="#2539d0"/><rect x="308" y="511.49" width="1.02" height="19.43" fill="#c5f4d3"/><rect x="309" y="511.49" width="4.02" height="19.43" fill="#ec9441"/><rect x="313" y="511.49" width="3.02" height="19.43" fill="#d5f04b"/><rect x="316" y="511.49" width="1.02" height="19.43" fill="#9c82c2"/><rect x="317" y="511.49" width="2.02" height="19.43" fill="#5788c0"/><rect x="319" y="511.49" width="1.02" height="19.43" fill="#ac74ba"/><rect x="320" y="511.49" width="2.02" height="19.43" fill="#519da2"/><rect x="322" y="511.49" width="2.02" height="19.43" fill="#c3e44b"/><rect x="324" y="511.49" width="2.02" height="19.43" fill="#233cd4"/><rect x="326" y="511.49" width="1.02" height="19.43" fill="#f2d750"/><rect x="327" y="511.49" width="2.02" height="19.43" fill="#c9e3c6"/><rect x="329" y="511.49" width="1.02" height="19.43" fill="#999bae"/><rect x="330" y="511.49" width="2.02" height="19.43" fill="#b6eb51"/><rect x="332" y="511.49" width="2.02" height="19.43" fill="#aa9838"/><rect x="334" y="511.49" width="3.02" height="19.43" fill="#c3d4c8"/><rect x="337" y="511.49" width="3.02" height="19.43" fill="#c4e151"/><rect x="340" y="511.49" width="1.02" height="19.43" fill="#f1cf4e"/><rect x="341" y="511.49" width="1.02" height="19.43" fill="#8b9ba1"/><rect x="342" y="511.49" width="3.02" height="19.43" fill="#629aa5"/><rect x="345" y="511.49" width="2.02" height="19.43" fill="#c2da5d"/><rect x="347" y="511.49" width="2.02" height="19.43" fill="#f4d45c"/><rect x="349" y="511.49" width="1.02" height="19.43" fill="#6aaba9"/><rect x="350" y="511.49" width="2.02" height="19.43" fill="#d5f2d3"/><rect x="352" y="511.49" width="2.02" height="19.43" fill="#577dc1"/><rect x="354" y="511.49" width="1.02" height="19.43" fill="#a080c1"/><rect x="355" y="511.49" width="2.02" height="19.43" fill="#c2e556"/><rect x="357" y="511.49" width="1.02" height="19.43" fill="#c8eec3"/><rect x="358" y="511.49" width="1.02" height="19.43" fill="#637eb8"/><rect x="359" y="511.49" width="3.02" height="19.43" fill="#eecf4f"/><rect x="362" y="511.49" width="2.02" height="19.43" fill="#c4e8c8"/><rect x="364" y="511.49" width="1.02" height="19.43" fill="#608fb9"/><rect x="365" y="511.49" width="3.02" height="19.43" fill="#ad9d3b"/><rect x="368" y="511.49" width="3.02" height="19.43" fill="#a66ebe"/><rect x="371" y="511.49" width="4.02" height="19.43" fill="#619eab"/><rect x="375" y="511.49" width="2.02" height="19.43" fill="#bde849"/><rect x="377" y="511.49" width="1.02" height="19.43" fill="#9a98a3"/><rect x="378" y="511.49" width="2.02" height="19.43" fill="#d2dcb9"/><rect x="380" y="511.49" width="3.02" height="19.43" fill="#2838da"/><rect x="383" y="511.49" width="1.02" height="19.43" fill="#c4f558"/><rect x="384" y="511.49" width="1.02" height="19.43" fill="#efdb51"/><rect x="385" y="511.49" width="5.02" height="19.43" fill="#c0f8cb"/><rect x="390" y="511.49" width="2.02" height="19.43" fill="#c2e745"/><rect x="392" y="511.49" width="3.02" height="19.43" fill="#1633e1"/><rect x="395" y="511.49" width="2.02" height="19.43" fill="#baed4e"/><rect x="397" y="511.49" width="3.02" height="19.43" fill="#232ed8"/><rect x="400" y="511.49" width="1.02" height="19.43" fill="#e7d254"/><rect x="401" y="511.49" width="2.02" height="19.43" fill="#c1fbbe"/><rect x="403" y="511.49" width="1.02" height="19.43" fill="#9497a6"/><rect x="404" y="511.49" width="2.02" height="19.43" fill="#5aafaa"/><rect x="406" y="511.49" width="3.02" height="19.43" fill="#5c83bb"/><rect x="409" y="511.49" width="1.02" height="19.43" fill="#d13520"/><rect x="410" y="511.49" width="1.02" height="19.43" fill="#d7281f"/><rect x="411" y="511.49" width="1.02" height="19.43" fill="#d0271a"/><rect x="412" y="511.49" width="1.02" height="19.43" fill="#d72c20"/><rect x="413" y="511.49" width="1.02" height="19.43" fill="#d92b1b"/><rect x="414" y="511.49" width="1.02" height="19.43" fill="#7cc6f1"/><rect x="415" y="511.49" width="1.02" height="19.43" fill="#6684b7"/><rect x="416" y="511.49" width="3.02" height="19.43" fill="#79b2eb"/><rect x="419" y="511.49" width="1.02" height="19.43" fill="#2a2ace"/><rect x="420" y="511.49" width="1.02" height="19.43" fill="#262fd9"/><rect x="421" y="511.49" width="1.02" height="19.43" fill="#2330d8"/><rect x="422" y="511.49" width="1.02" height="19.43" fill="#2231d8"/><rect x="423" y="511.49" width="1.02" height="19.43" fill="#222fd4"/><rect x="424" y="511.49" width="1.02" height="19.43" fill="#2033dc"/><rect x="425" y="511.49" width="1.02" height="19.43" fill="#2733db"/><rect x="426" y="511.49" width="1.02" height="19.43" fill="#2336d9"/><rect x="427" y="511.49" width="1.02" height="19.43" fill="#2331d8"/><rect x="428" y="511.49" width="1.02" height="19.43" fill="#282ed8"/><rect x="429" y="511.49" width="1.02" height="19.43" fill="#2035de"/><rect x="430" y="511.49" width="2.02" height="19.43" fill="#202ad0"/><rect x="432" y="511.49" width="1.02" height="19.43" fill="#83bde8"/><rect x="433" y="511.49" width="1.02" height="19.43" fill="#292ee5"/><rect x="434" y="511.49" width="1.02" height="19.43" fill="#d0e6c5"/><rect x="435" y="511.49" width="2.02" height="19.43" fill="#82baeb"/><rect x="437" y="511.49" width="1.02" height="19.43" fill="#2036d2"/><rect x="438" y="511.49" width="2.02" height="19.43" fill="#cff5cd"/><rect x="440" y="511.49" width="2.02" height="19.43" fill="#ce2926"/><rect x="442" y="511.49" width="2.02" height="19.43" fill="#d12d21"/><rect x="444" y="511.49" width="3.02" height="19.43" fill="#c7e4cc"/><rect x="447" y="511.49" width="3.02" height="19.43" fill="#dd2d23"/><rect x="450" y="511.49" width="2.02" height="19.43" fill="#e5988d"/><rect x="452" y="511.49" width="2.02" height="19.43" fill="#ad164a"/><rect x="454" y="511.49" width="1.02" height="19.43" fill="#d53a22"/><rect x="455" y="511.49" width="1.02" height="19.43" fill="#b91e36"/><rect x="456" y="511.49" width="5.02" height="19.43" fill="#733b9d"/><rect x="461" y="511.49" width="1.02" height="19.43" fill="#af2041"/><rect x="462" y="511.49" width="1.02" height="19.43" fill="#5680c4"/><rect x="463" y="511.49" width="3.02" height="19.43" fill="#1e38e0"/><rect x="466" y="511.49" width="2.02" height="19.43" fill="#6b2eb0"/><rect x="468" y="511.49" width="3.02" height="19.43" fill="#bf1f3a"/><rect x="471" y="511.49" width="1.02" height="19.43" fill="#d62924"/><rect x="472" y="511.49" width="3.02" height="19.43" fill="#98153d"/><rect x="475" y="511.49" width="1.02" height="19.43" fill="#dfa98b"/><rect x="476" y="511.49" width="3.02" height="19.43" fill="#b6133c"/><rect x="479" y="511.49" width="2.02" height="19.43" fill="#d12b31"/><rect x="481" y="511.49" width="3.02" height="19.43" fill="#b11a4e"/><rect x="484" y="511.49" width="5.02" height="19.43" fill="#d51b16"/><rect x="489" y="511.49" width="3.02" height="19.43" fill="#b20b46"/><rect x="492" y="511.49" width="3.02" height="19.43" fill="#da3019"/><rect x="495" y="511.49" width="3.02" height="19.43" fill="#6931a5"/><rect x="498" y="511.49" width="2.02" height="19.43" fill="#cd341c"/><rect x="500" y="511.49" width="1.02" height="19.43" fill="#7f1137"/><rect x="501" y="511.49" width="1.02" height="19.43" fill="#b31549"/><rect x="502" y="511.49" width="1.02" height="19.43" fill="#9d1a32"/><rect x="503" y="511.49" width="1.02" height="19.43" fill="#2935dc"/><rect x="504" y="511.49" width="1.02" height="19.43" fill="#2134da"/><rect x="505" y="511.49" width="1.02" height="19.43" fill="#1d34d8"/><rect x="506" y="511.49" width="1.02" height="19.43" fill="#84bcee"/><rect x="507" y="511.49" width="1.02" height="19.43" fill="#7eb9f2"/><rect x="508" y="511.49" width="1.02" height="19.43" fill="#7fb8f2"/><rect x="509" y="511.49" width="1.02" height="19.43" fill="#82bcf1"/><rect x="510" y="511.49" width="1.02" height="19.43" fill="#1f2ddb"/><rect x="511" y="511.49" width="1.02" height="19.43" fill="#2131d7"/><rect x="512" y="511.49" width="1.02" height="19.43" fill="#1d31d0"/><rect x="513" y="511.49" width="1.02" height="19.43" fill="#212fde"/><rect x="514" y="511.49" width="1.02" height="19.43" fill="#2432d9"/><rect x="515" y="511.49" width="1.02" height="19.43" fill="#2430d7"/><rect x="516" y="511.49" width="1.02" height="19.43" fill="#213ad8"/><rect x="517" y="511.49" width="0.82" height="19.43" fill="#1c35e0"/><rect x="298.9" y="530.92" width="0.12" height="19.43" fill="#8ef050"/><rect x="299" y="530.92" width="1.02" height="19.43" fill="#95fdb4"/><rect x="300" y="530.92" width="1.02" height="19.43" fill="#70ddf4"/><rect x="301" y="530.92" width="2.02" height="19.43" fill="#8cece9"/><rect x="303" y="530.92" width="1.02" height="19.43" fill="#9dfabc"/><rect x="304" y="530.92" width="1.02" height="19.43" fill="#a2d7d9"/><rect x="305" y="530.92" width="4.02" height="19.43" fill="#80daf5"/><rect x="309" y="530.92" width="4.02" height="19.43" fill="#8ce3f6"/><rect x="313" y="530.92" width="3.02" height="19.43" fill="#90eaaf"/><rect x="316" y="530.92" width="3.02" height="19.43" fill="#92e7e9"/><rect x="319" y="530.92" width="2.02" height="19.43" fill="#86e6f3"/><rect x="321" y="530.92" width="4.02" height="19.43" fill="#80d3ff"/><rect x="325" y="530.92" width="2.02" height="19.43" fill="#97fdbc"/><rect x="327" y="530.92" width="3.02" height="19.43" fill="#98ecf6"/><rect x="330" y="530.92" width="2.02" height="19.43" fill="#94f2c4"/><rect x="332" y="530.92" width="2.02" height="19.43" fill="#91e4f3"/><rect x="334" y="530.92" width="5.02" height="19.43" fill="#8effc1"/><rect x="339" y="530.92" width="3.02" height="19.43" fill="#a4e8e1"/><rect x="342" y="530.92" width="2.02" height="19.43" fill="#80e6f3"/><rect x="344" y="530.92" width="3.02" height="19.43" fill="#8cf9c4"/><rect x="347" y="530.92" width="2.02" height="19.43" fill="#98e5ec"/><rect x="349" y="530.92" width="2.02" height="19.43" fill="#8df6bb"/><rect x="351" y="530.92" width="4.02" height="19.43" fill="#92ede9"/><rect x="355" y="530.92" width="2.02" height="19.43" fill="#92efbc"/><rect x="357" y="530.92" width="1.02" height="19.43" fill="#a39c9d"/><rect x="358" y="530.92" width="2.02" height="19.43" fill="#99e8ed"/><rect x="360" y="530.92" width="3.02" height="19.43" fill="#77e3ee"/><rect x="363" y="530.92" width="2.02" height="19.43" fill="#8ce4ef"/><rect x="365" y="530.92" width="1.02" height="19.43" fill="#a4e4e9"/><rect x="366" y="530.92" width="4.02" height="19.43" fill="#89ebdc"/><rect x="370" y="530.92" width="1.02" height="19.43" fill="#7de1f5"/><rect x="371" y="530.92" width="3.02" height="19.43" fill="#8dfdc4"/><rect x="374" y="530.92" width="2.02" height="19.43" fill="#95f1ef"/><rect x="376" y="530.92" width="1.02" height="19.43" fill="#8defc4"/><rect x="377" y="530.92" width="2.02" height="19.43" fill="#8bdee4"/><rect x="379" y="530.92" width="1.02" height="19.43" fill="#7fdbf5"/><rect x="380" y="530.92" width="3.02" height="19.43" fill="#8ef8be"/><rect x="383" y="530.92" width="1.02" height="19.43" fill="#98ddf3"/><rect x="384" y="530.92" width="2.02" height="19.43" fill="#9bfeba"/><rect x="386" y="530.92" width="2.02" height="19.43" fill="#83eae6"/><rect x="388" y="530.92" width="1.02" height="19.43" fill="#a2eee4"/><rect x="389" y="530.92" width="5.02" height="19.43" fill="#7ccfe9"/><rect x="394" y="530.92" width="2.02" height="19.43" fill="#9aefc1"/><rect x="396" y="530.92" width="2.02" height="19.43" fill="#94eeef"/><rect x="398" y="530.92" width="2.02" height="19.43" fill="#84ecf9"/><rect x="400" y="530.92" width="3.02" height="19.43" fill="#7fd0f8"/><rect x="403" y="530.92" width="7.02" height="19.43" fill="#94ffc0"/><rect x="410" y="530.92" width="2.02" height="19.43" fill="#81d6ee"/><rect x="412" y="530.92" width="1.02" height="19.43" fill="#a5e7db"/><rect x="413" y="530.92" width="1.02" height="19.43" fill="#99dfde"/><rect x="414" y="530.92" width="1.02" height="19.43" fill="#8def4c"/><rect x="415" y="530.92" width="1.02" height="19.43" fill="#84d3ef"/><rect x="416" y="530.92" width="1.02" height="19.43" fill="#7adcf1"/><rect x="417" y="530.92" width="1.02" height="19.43" fill="#92ef52"/><rect x="418" y="530.92" width="1.02" height="19.43" fill="#8ef250"/><rect x="419" y="530.92" width="1.02" height="19.43" fill="#92f252"/><rect x="420" y="530.92" width="1.02" height="19.43" fill="#8d93ae"/><rect x="421" y="530.92" width="1.02" height="19.43" fill="#9099a9"/><rect x="422" y="530.92" width="1.02" height="19.43" fill="#8df54e"/><rect x="423" y="530.92" width="1.02" height="19.43" fill="#8ef14a"/><rect x="424" y="530.92" width="1.02" height="19.43" fill="#a6e6e4"/><rect x="425" y="530.92" width="1.02" height="19.43" fill="#a1e8da"/><rect x="426" y="530.92" width="1.02" height="19.43" fill="#8ff152"/><rect x="427" y="530.92" width="1.02" height="19.43" fill="#83d6ef"/><rect x="428" y="530.92" width="1.02" height="19.43" fill="#8bf54e"/><rect x="429" y="530.92" width="1.02" height="19.43" fill="#8cf04c"/><rect x="430" y="530.92" width="1.02" height="19.43" fill="#8df04e"/><rect x="431" y="530.92" width="1.02" height="19.43" fill="#9198ac"/><rect x="432" y="530.92" width="1.02" height="19.43" fill="#8aef52"/><rect x="433" y="530.92" width="1.02" height="19.43" fill="#a2ad47"/><rect x="434" y="530.92" width="1.02" height="19.43" fill="#90ef50"/><rect x="435" y="530.92" width="1.02" height="19.43" fill="#8bf14d"/><rect x="436" y="530.92" width="1.02" height="19.43" fill="#93f04f"/><rect x="437" y="530.92" width="1.02" height="19.43" fill="#d0722f"/><rect x="438" y="530.92" width="1.02" height="19.43" fill="#8eee4d"/><rect x="439" y="530.92" width="1.02" height="19.43" fill="#8cf34e"/><rect x="440" y="530.92" width="1.02" height="19.43" fill="#e4381c"/><rect x="441" y="530.92" width="1.02" height="19.43" fill="#e03e1f"/><rect x="442" y="530.92" width="1.02" height="19.43" fill="#de3921"/><rect x="443" y="530.92" width="1.02" height="19.43" fill="#8af351"/><rect x="444" y="530.92" width="1.02" height="19.43" fill="#8bf553"/><rect x="445" y="530.92" width="1.02" height="19.43" fill="#92ec4f"/><rect x="446" y="530.92" width="1.02" height="19.43" fill="#9099a3"/><rect x="447" y="530.92" width="1.02" height="19.43" fill="#88f050"/><rect x="448" y="530.92" width="1.02" height="19.43" fill="#91f04c"/><rect x="449" y="530.92" width="1.02" height="19.43" fill="#8ded4e"/><rect x="450" y="530.92" width="1.02" height="19.43" fill="#a5eadd"/><rect x="451" y="530.92" width="1.02" height="19.43" fill="#a4eae5"/><rect x="452" y="530.92" width="1.02" height="19.43" fill="#90ec49"/><rect x="453" y="530.92" width="1.02" height="19.43" fill="#7cddf0"/><rect x="454" y="530.92" width="1.02" height="19.43" fill="#7adaef"/><rect x="455" y="530.92" width="1.02" height="19.43" fill="#92f054"/><rect x="456" y="530.92" width="1.02" height="19.43" fill="#8fee4c"/><rect x="457" y="530.92" width="1.02" height="19.43" fill="#8ef34c"/><rect x="458" y="530.92" width="1.02" height="19.43" fill="#89f248"/><rect x="459" y="530.92" width="1.02" height="19.43" fill="#a1ab40"/><rect x="460" y="530.92" width="1.02" height="19.43" fill="#94ec4d"/><rect x="461" y="530.92" width="1.02" height="19.43" fill="#a2e7df"/><rect x="462" y="530.92" width="1.02" height="19.43" fill="#a4e8de"/><rect x="463" y="530.92" width="1.02" height="19.43" fill="#8eef50"/><rect x="464" y="530.92" width="1.02" height="19.43" fill="#8ff450"/><rect x="465" y="530.92" width="1.02" height="19.43" fill="#a1ac49"/><rect x="466" y="530.92" width="1.02" height="19.43" fill="#93f451"/><rect x="467" y="530.92" width="1.02" height="19.43" fill="#8bee50"/><rect x="468" y="530.92" width="1.02" height="19.43" fill="#8fef4c"/><rect x="469" y="530.92" width="1.02" height="19.43" fill="#8cf253"/><rect x="470" y="530.92" width="1.02" height="19.43" fill="#7ed5f3"/><rect x="471" y="530.92" width="1.02" height="19.43" fill="#80d8f7"/><rect x="472" y="530.92" width="1.02" height="19.43" fill="#7cd9eb"/><rect x="473" y="530.92" width="1.02" height="19.43" fill="#88f04f"/><rect x="474" y="530.92" width="1.02" height="19.43" fill="#93eb51"/><rect x="475" y="530.92" width="1.02" height="19.43" fill="#8f9aac"/><rect x="476" y="530.92" width="1.02" height="19.43" fill="#89f255"/><rect x="477" y="530.92" width="1.02" height="19.43" fill="#8ef14e"/><rect x="478" y="530.92" width="1.02" height="19.43" fill="#e49343"/><rect x="479" y="530.92" width="1.02" height="19.43" fill="#8ef153"/><rect x="480" y="530.92" width="1.02" height="19.43" fill="#89f04e"/><rect x="481" y="530.92" width="1.02" height="19.43" fill="#90f351"/><rect x="482" y="530.92" width="1.02" height="19.43" fill="#92ed4f"/><rect x="483" y="530.92" width="1.02" height="19.43" fill="#8bf050"/><rect x="484" y="530.92" width="1.02" height="19.43" fill="#a06038"/><rect x="485" y="530.92" width="1.02" height="19.43" fill="#9d5932"/><rect x="486" y="530.92" width="1.02" height="19.43" fill="#92f14a"/><rect x="487" y="530.92" width="1.02" height="19.43" fill="#8dec53"/><rect x="488" y="530.92" width="1.02" height="19.43" fill="#959ba7"/><rect x="489" y="530.92" width="1.02" height="19.43" fill="#8ae94e"/><rect x="490" y="530.92" width="1.02" height="19.43" fill="#ec9041"/><rect x="491" y="530.92" width="1.02" height="19.43" fill="#8ff255"/><rect x="492" y="530.92" width="1.02" height="19.43" fill="#90ef50"/><rect x="493" y="530.92" width="1.02" height="19.43" fill="#90ed54"/><rect x="494" y="530.92" width="1.02" height="19.43" fill="#91ef4e"/><rect x="495" y="530.92" width="1.02" height="19.43" fill="#9af353"/><rect x="496" y="530.92" width="1.02" height="19.43" fill="#94f351"/><rect x="497" y="530.92" width="1.02" height="19.43" fill="#90ed52"/><rect x="498" y="530.92" width="1.02" height="19.43" fill="#d2522e"/><rect x="499" y="530.92" width="1.02" height="19.43" fill="#ce4c22"/><rect x="500" y="530.92" width="1.02" height="19.43" fill="#cf4b28"/><rect x="501" y="530.92" width="1.02" height="19.43" fill="#d14f25"/><rect x="502" y="530.92" width="1.02" height="19.43" fill="#94f252"/><rect x="503" y="530.92" width="1.02" height="19.43" fill="#8fef52"/><rect x="504" y="530.92" width="1.02" height="19.43" fill="#8ff04c"/><rect x="505" y="530.92" width="1.02" height="19.43" fill="#8df24f"/><rect x="506" y="530.92" width="1.02" height="19.43" fill="#8ff04d"/><rect x="507" y="530.92" width="1.02" height="19.43" fill="#8bee4f"/><rect x="508" y="530.92" width="1.02" height="19.43" fill="#8df44d"/><rect x="509" y="530.92" width="1.02" height="19.43" fill="#88f24f"/><rect x="510" y="530.92" width="1.02" height="19.43" fill="#8ef855"/><rect x="511" y="530.92" width="1.02" height="19.43" fill="#90f350"/><rect x="512" y="530.92" width="1.02" height="19.43" fill="#91ee4e"/><rect x="513" y="530.92" width="1.02" height="19.43" fill="#8df555"/><rect x="514" y="530.92" width="1.02" height="19.43" fill="#8cf450"/><rect x="515" y="530.92" width="1.02" height="19.43" fill="#91ef53"/><rect x="516" y="530.92" width="1.02" height="19.43" fill="#8eef50"/><rect x="517" y="530.92" width="0.82" height="19.43" fill="#8fee4c"/><rect x="298.9" y="550.35" width="0.12" height="19.43" fill="#8ef050"/><rect x="299" y="550.35" width="1.02" height="19.43" fill="#96f24f"/><rect x="300" y="550.35" width="1.02" height="19.43" fill="#8df04e"/><rect x="301" y="550.35" width="1.02" height="19.43" fill="#8df252"/><rect x="302" y="550.35" width="1.02" height="19.43" fill="#90ed4e"/><rect x="303" y="550.35" width="1.02" height="19.43" fill="#91f156"/><rect x="304" y="550.35" width="1.02" height="19.43" fill="#8fee54"/><rect x="305" y="550.35" width="1.02" height="19.43" fill="#8bf356"/><rect x="306" y="550.35" width="1.02" height="19.43" fill="#95f254"/><rect x="307" y="550.35" width="1.02" height="19.43" fill="#8ff54a"/><rect x="308" y="550.35" width="1.02" height="19.43" fill="#8df354"/><rect x="309" y="550.35" width="1.02" height="19.43" fill="#8cf556"/><rect x="310" y="550.35" width="1.02" height="19.43" fill="#8ef151"/><rect x="311" y="550.35" width="1.02" height="19.43" fill="#8ff657"/><rect x="312" y="550.35" width="1.02" height="19.43" fill="#8def50"/><rect x="313" y="550.35" width="1.02" height="19.43" fill="#91f353"/><rect x="314" y="550.35" width="1.02" height="19.43" fill="#90f352"/><rect x="315" y="550.35" width="1.02" height="19.43" fill="#8bf052"/><rect x="316" y="550.35" width="1.02" height="19.43" fill="#8ff151"/><rect x="317" y="550.35" width="1.02" height="19.43" fill="#92f153"/><rect x="318" y="550.35" width="1.02" height="19.43" fill="#8def4d"/><rect x="319" y="550.35" width="1.02" height="19.43" fill="#8cf055"/><rect x="320" y="550.35" width="1.02" height="19.43" fill="#8bf154"/><rect x="321" y="550.35" width="1.02" height="19.43" fill="#8ef455"/><rect x="322" y="550.35" width="1.02" height="19.43" fill="#89f14f"/><rect x="323" y="550.35" width="1.02" height="19.43" fill="#92f254"/><rect x="324" y="550.35" width="1.02" height="19.43" fill="#93f152"/><rect x="325" y="550.35" width="1.02" height="19.43" fill="#8ff156"/><rect x="326" y="550.35" width="1.02" height="19.43" fill="#91f552"/><rect x="327" y="550.35" width="1.02" height="19.43" fill="#8df151"/><rect x="328" y="550.35" width="1.02" height="19.43" fill="#89f355"/><rect x="329" y="550.35" width="1.02" height="19.43" fill="#8ef152"/><rect x="330" y="550.35" width="1.02" height="19.43" fill="#8ff358"/><rect x="331" y="550.35" width="1.02" height="19.43" fill="#8cf354"/><rect x="332" y="550.35" width="1.02" height="19.43" fill="#8ef14f"/><rect x="333" y="550.35" width="1.02" height="19.43" fill="#8cf457"/><rect x="334" y="550.35" width="1.02" height="19.43" fill="#8cf454"/><rect x="335" y="550.35" width="1.02" height="19.43" fill="#91f353"/><rect x="336" y="550.35" width="1.02" height="19.43" fill="#91ef52"/><rect x="337" y="550.35" width="1.02" height="19.43" fill="#89ec50"/><rect x="338" y="550.35" width="1.02" height="19.43" fill="#89f455"/><rect x="339" y="550.35" width="1.02" height="19.43" fill="#8df251"/><rect x="340" y="550.35" width="1.02" height="19.43" fill="#8df353"/><rect x="341" y="550.35" width="1.02" height="19.43" fill="#8df051"/><rect x="342" y="550.35" width="1.02" height="19.43" fill="#91f157"/><rect x="343" y="550.35" width="1.02" height="19.43" fill="#8df64e"/><rect x="344" y="550.35" width="1.02" height="19.43" fill="#8cf454"/><rect x="345" y="550.35" width="1.02" height="19.43" fill="#8ef852"/><rect x="346" y="550.35" width="1.02" height="19.43" fill="#8ff057"/><rect x="347" y="550.35" width="1.02" height="19.43" fill="#91f34d"/><rect x="348" y="550.35" width="1.02" height="19.43" fill="#8ff153"/><rect x="349" y="550.35" width="1.02" height="19.43" fill="#91f053"/><rect x="350" y="550.35" width="1.02" height="19.43" fill="#91f351"/><rect x="351" y="550.35" width="1.02" height="19.43" fill="#8bf04e"/><rect x="352" y="550.35" width="1.02" height="19.43" fill="#91f24e"/><rect x="353" y="550.35" width="1.02" height="19.43" fill="#8eee48"/><rect x="354" y="550.35" width="1.02" height="19.43" fill="#92f64e"/><rect x="355" y="550.35" width="1.02" height="19.43" fill="#8cf351"/><rect x="356" y="550.35" width="1.02" height="19.43" fill="#8cf151"/><rect x="357" y="550.35" width="1.02" height="19.43" fill="#8cf351"/><rect x="358" y="550.35" width="1.02" height="19.43" fill="#8cf24d"/><rect x="359" y="550.35" width="1.02" height="19.43" fill="#92ed52"/><rect x="360" y="550.35" width="1.02" height="19.43" fill="#8ff353"/><rect x="361" y="550.35" width="1.02" height="19.43" fill="#92ef52"/><rect x="362" y="550.35" width="1.02" height="19.43" fill="#8ff150"/><rect x="363" y="550.35" width="1.02" height="19.43" fill="#92f051"/><rect x="364" y="550.35" width="1.02" height="19.43" fill="#8df153"/><rect x="365" y="550.35" width="1.02" height="19.43" fill="#8df352"/><rect x="366" y="550.35" width="1.02" height="19.43" fill="#90f650"/><rect x="367" y="550.35" width="1.02" height="19.43" fill="#93f154"/><rect x="368" y="550.35" width="1.02" height="19.43" fill="#8ff14c"/><rect x="369" y="550.35" width="1.02" height="19.43" fill="#93f050"/><rect x="370" y="550.35" width="1.02" height="19.43" fill="#91f258"/><rect x="371" y="550.35" width="1.02" height="19.43" fill="#93f453"/><rect x="372" y="550.35" width="1.02" height="19.43" fill="#90ee53"/><rect x="373" y="550.35" width="1.02" height="19.43" fill="#8ff153"/><rect x="374" y="550.35" width="1.02" height="19.43" fill="#8af556"/><rect x="375" y="550.35" width="1.02" height="19.43" fill="#8af357"/><rect x="376" y="550.35" width="1.02" height="19.43" fill="#8fef4f"/><rect x="377" y="550.35" width="1.02" height="19.43" fill="#91f84f"/><rect x="378" y="550.35" width="1.02" height="19.43" fill="#8ef051"/><rect x="379" y="550.35" width="1.02" height="19.43" fill="#8ff250"/><rect x="380" y="550.35" width="1.02" height="19.43" fill="#94f252"/><rect x="381" y="550.35" width="1.02" height="19.43" fill="#91f251"/><rect x="382" y="550.35" width="1.02" height="19.43" fill="#91ef54"/><rect x="383" y="550.35" width="1.02" height="19.43" fill="#91f452"/><rect x="384" y="550.35" width="1.02" height="19.43" fill="#8eed52"/><rect x="385" y="550.35" width="1.02" height="19.43" fill="#8ff552"/><rect x="386" y="550.35" width="1.02" height="19.43" fill="#8df052"/><rect x="387" y="550.35" width="1.02" height="19.43" fill="#8ef652"/><rect x="388" y="550.35" width="1.02" height="19.43" fill="#8df251"/><rect x="389" y="550.35" width="1.02" height="19.43" fill="#8deb4d"/><rect x="390" y="550.35" width="1.02" height="19.43" fill="#8bf352"/><rect x="391" y="550.35" width="1.02" height="19.43" fill="#8ef64f"/><rect x="392" y="550.35" width="1.02" height="19.43" fill="#91f350"/><rect x="393" y="550.35" width="1.02" height="19.43" fill="#92ee4f"/><rect x="394" y="550.35" width="1.02" height="19.43" fill="#8df351"/><rect x="395" y="550.35" width="1.02" height="19.43" fill="#88f152"/><rect x="396" y="550.35" width="1.02" height="19.43" fill="#96f652"/><rect x="397" y="550.35" width="1.02" height="19.43" fill="#8bf34f"/><rect x="398" y="550.35" width="1.02" height="19.43" fill="#8ff351"/><rect x="399" y="550.35" width="1.02" height="19.43" fill="#8ff150"/><rect x="400" y="550.35" width="1.02" height="19.43" fill="#93f451"/><rect x="401" y="550.35" width="1.02" height="19.43" fill="#8cf354"/><rect x="402" y="550.35" width="1.02" height="19.43" fill="#91f653"/><rect x="403" y="550.35" width="1.02" height="19.43" fill="#8bf855"/><rect x="404" y="550.35" width="1.02" height="19.43" fill="#91f64e"/><rect x="405" y="550.35" width="1.02" height="19.43" fill="#8df156"/><rect x="406" y="550.35" width="1.02" height="19.43" fill="#8bf157"/><rect x="407" y="550.35" width="1.02" height="19.43" fill="#90f158"/><rect x="408" y="550.35" width="1.02" height="19.43" fill="#8af351"/><rect x="409" y="550.35" width="1.02" height="19.43" fill="#90f150"/><rect x="410" y="550.35" width="1.02" height="19.43" fill="#8fee54"/><rect x="411" y="550.35" width="1.02" height="19.43" fill="#8df551"/><rect x="412" y="550.35" width="1.02" height="19.43" fill="#8cf356"/><rect x="413" y="550.35" width="1.02" height="19.43" fill="#88f254"/><rect x="414" y="550.35" width="1.02" height="19.43" fill="#8aef54"/><rect x="415" y="550.35" width="1.02" height="19.43" fill="#8cf057"/><rect x="416" y="550.35" width="1.02" height="19.43" fill="#8bef4b"/><rect x="417" y="550.35" width="1.02" height="19.43" fill="#8bee57"/><rect x="418" y="550.35" width="1.02" height="19.43" fill="#92ee58"/><rect x="419" y="550.35" width="1.02" height="19.43" fill="#90f154"/><rect x="420" y="550.35" width="1.02" height="19.43" fill="#8ff04d"/><rect x="421" y="550.35" width="1.02" height="19.43" fill="#8bf251"/><rect x="422" y="550.35" width="1.02" height="19.43" fill="#8cf54f"/><rect x="423" y="550.35" width="1.02" height="19.43" fill="#91f152"/><rect x="424" y="550.35" width="1.02" height="19.43" fill="#8bf250"/><rect x="425" y="550.35" width="1.02" height="19.43" fill="#89f252"/><rect x="426" y="550.35" width="1.02" height="19.43" fill="#90f34f"/><rect x="427" y="550.35" width="1.02" height="19.43" fill="#8ceb4f"/><rect x="428" y="550.35" width="1.02" height="19.43" fill="#92f754"/><rect x="429" y="550.35" width="1.02" height="19.43" fill="#8ff453"/><rect x="430" y="550.35" width="1.02" height="19.43" fill="#89ef56"/><rect x="431" y="550.35" width="1.02" height="19.43" fill="#92f351"/><rect x="432" y="550.35" width="1.02" height="19.43" fill="#8df04f"/><rect x="433" y="550.35" width="1.02" height="19.43" fill="#88f251"/><rect x="434" y="550.35" width="1.02" height="19.43" fill="#8df754"/><rect x="435" y="550.35" width="1.02" height="19.43" fill="#8cf44e"/><rect x="436" y="550.35" width="1.02" height="19.43" fill="#91f351"/><rect x="437" y="550.35" width="1.02" height="19.43" fill="#90f651"/><rect x="438" y="550.35" width="1.02" height="19.43" fill="#8bf852"/><rect x="439" y="550.35" width="1.02" height="19.43" fill="#b6903e"/><rect x="440" y="550.35" width="1.02" height="19.43" fill="#8cf451"/><rect x="441" y="550.35" width="1.02" height="19.43" fill="#8cf753"/><rect x="442" y="550.35" width="1.02" height="19.43" fill="#88f14f"/><rect x="443" y="550.35" width="1.02" height="19.43" fill="#8af051"/><rect x="444" y="550.35" width="1.02" height="19.43" fill="#8ef04c"/><rect x="445" y="550.35" width="1.02" height="19.43" fill="#8cf54e"/><rect x="446" y="550.35" width="1.02" height="19.43" fill="#90f351"/><rect x="447" y="550.35" width="1.02" height="19.43" fill="#8ff051"/><rect x="448" y="550.35" width="1.02" height="19.43" fill="#8bf356"/><rect x="449" y="550.35" width="1.02" height="19.43" fill="#8cf64c"/><rect x="450" y="550.35" width="1.02" height="19.43" fill="#8bef57"/><rect x="451" y="550.35" width="1.02" height="19.43" fill="#8cf44c"/><rect x="452" y="550.35" width="1.02" height="19.43" fill="#8ef452"/><rect x="453" y="550.35" width="1.02" height="19.43" fill="#86f354"/><rect x="454" y="550.35" width="1.02" height="19.43" fill="#92f34d"/><rect x="455" y="550.35" width="1.02" height="19.43" fill="#8df550"/><rect x="456" y="550.35" width="1.02" height="19.43" fill="#90f152"/><rect x="457" y="550.35" width="1.02" height="19.43" fill="#90f05b"/><rect x="458" y="550.35" width="1.02" height="19.43" fill="#8ef350"/><rect x="459" y="550.35" width="1.02" height="19.43" fill="#8ef14e"/><rect x="460" y="550.35" width="1.02" height="19.43" fill="#89f352"/><rect x="461" y="550.35" width="1.02" height="19.43" fill="#86ec51"/><rect x="462" y="550.35" width="1.02" height="19.43" fill="#8ef44e"/><rect x="463" y="550.35" width="1.02" height="19.43" fill="#90f150"/><rect x="464" y="550.35" width="1.02" height="19.43" fill="#8ef554"/><rect x="465" y="550.35" width="1.02" height="19.43" fill="#91f051"/><rect x="466" y="550.35" width="1.02" height="19.43" fill="#8bf051"/><rect x="467" y="550.35" width="1.02" height="19.43" fill="#8df453"/><rect x="468" y="550.35" width="1.02" height="19.43" fill="#90f255"/><rect x="469" y="550.35" width="1.02" height="19.43" fill="#8ef554"/><rect x="470" y="550.35" width="1.02" height="19.43" fill="#90f24e"/><rect x="471" y="550.35" width="1.02" height="19.43" fill="#8af853"/><rect x="472" y="550.35" width="1.02" height="19.43" fill="#8ff151"/><rect x="473" y="550.35" width="1.02" height="19.43" fill="#97ef52"/><rect x="474" y="550.35" width="1.02" height="19.43" fill="#8eef4e"/><rect x="475" y="550.35" width="1.02" height="19.43" fill="#8cf151"/><rect x="476" y="550.35" width="1.02" height="19.43" fill="#90ee53"/><rect x="477" y="550.35" width="1.02" height="19.43" fill="#92f54f"/><rect x="478" y="550.35" width="1.02" height="19.43" fill="#85f553"/><rect x="479" y="550.35" width="1.02" height="19.43" fill="#8cf651"/><rect x="480" y="550.35" width="1.02" height="19.43" fill="#8eef53"/><rect x="481" y="550.35" width="1.02" height="19.43" fill="#8df055"/><rect x="482" y="550.35" width="1.02" height="19.43" fill="#8fee54"/><rect x="483" y="550.35" width="1.02" height="19.43" fill="#91f051"/><rect x="484" y="550.35" width="1.02" height="19.43" fill="#8ef152"/><rect x="485" y="550.35" width="1.02" height="19.43" fill="#90f158"/><rect x="486" y="550.35" width="1.02" height="19.43" fill="#8cf058"/><rect x="487" y="550.35" width="1.02" height="19.43" fill="#95f251"/><rect x="488" y="550.35" width="1.02" height="19.43" fill="#8bf553"/><rect x="489" y="550.35" width="1.02" height="19.43" fill="#8bf356"/><rect x="490" y="550.35" width="1.02" height="19.43" fill="#d76d1f"/><rect x="491" y="550.35" width="1.02" height="19.43" fill="#8ff254"/><rect x="492" y="550.35" width="1.02" height="19.43" fill="#92f555"/><rect x="493" y="550.35" width="1.02" height="19.43" fill="#8ff456"/><rect x="494" y="550.35" width="1.02" height="19.43" fill="#8eee57"/><rect x="495" y="550.35" width="1.02" height="19.43" fill="#90f153"/><rect x="496" y="550.35" width="1.02" height="19.43" fill="#8ded51"/><rect x="497" y="550.35" width="1.02" height="19.43" fill="#8af352"/><rect x="498" y="550.35" width="1.02" height="19.43" fill="#91f253"/><rect x="499" y="550.35" width="1.02" height="19.43" fill="#8df14e"/><rect x="500" y="550.35" width="1.02" height="19.43" fill="#91f350"/><rect x="501" y="550.35" width="1.02" height="19.43" fill="#8ff150"/><rect x="502" y="550.35" width="1.02" height="19.43" fill="#8ff651"/><rect x="503" y="550.35" width="1.02" height="19.43" fill="#8af057"/><rect x="504" y="550.35" width="1.02" height="19.43" fill="#8cf651"/><rect x="505" y="550.35" width="1.02" height="19.43" fill="#90f24d"/><rect x="506" y="550.35" width="1.02" height="19.43" fill="#8df852"/><rect x="507" y="550.35" width="1.02" height="19.43" fill="#90f152"/><rect x="508" y="550.35" width="1.02" height="19.43" fill="#8ff359"/><rect x="509" y="550.35" width="1.02" height="19.43" fill="#8ef150"/><rect x="510" y="550.35" width="1.02" height="19.43" fill="#8aed54"/><rect x="511" y="550.35" width="1.02" height="19.43" fill="#88f655"/><rect x="512" y="550.35" width="1.02" height="19.43" fill="#8def52"/><rect x="513" y="550.35" width="1.02" height="19.43" fill="#8ef550"/><rect x="514" y="550.35" width="1.02" height="19.43" fill="#8df251"/><rect x="515" y="550.35" width="1.02" height="19.43" fill="#8ced4d"/><rect x="516" y="550.35" width="1.02" height="19.43" fill="#8cf155"/><rect x="517" y="550.35" width="0.82" height="19.43" fill="#95f753"/></g>
<defs><linearGradient id="cb" x1="0" x2="1" y1="0" y2="0"><stop offset="0.0" stop-color="#1010f0"/><stop offset="0.1" stop-color="#2050ff"/><stop offset="0.18" stop-color="#60b0ff"/><stop offset="0.24" stop-color="#80ecff"/><stop offset="0.31" stop-color="#80ffd0"/><stop offset="0.4" stop-color="#80ff80"/><stop offset="0.5" stop-color="#80ff40"/><stop offset="0.6" stop-color="#acf540"/><stop offset="0.74" stop-color="#f0f040"/><stop offset="0.84" stop-color="#f0a020"/><stop offset="0.92" stop-color="#eb4018"/><stop offset="1.0" stop-color="#e01010"/></linearGradient></defs>
<rect x="253.8" y="578.4" width="90.2" height="9" fill="url(#cb)" stroke="#4a4a4a" stroke-width="0.5"/>
<line x1="253.9" y1="587.4" x2="253.9" y2="591" stroke="#555" stroke-width="0.8"/>
<text x="251" y="601.7" text-anchor="middle" font-size="7.3" font-family='"Liberation Serif", serif' font-weight="bold" fill="#000">&lt;-0.6</text>
<line x1="268.83" y1="587.4" x2="268.83" y2="591" stroke="#555" stroke-width="0.8"/>
<text x="268.6" y="601.7" text-anchor="middle" font-size="7.3" font-family='"Liberation Serif", serif' font-weight="bold" fill="#000">-0.4</text>
<line x1="283.76" y1="587.4" x2="283.76" y2="591" stroke="#555" stroke-width="0.8"/>
<text x="283.8" y="601.7" text-anchor="middle" font-size="7.3" font-family='"Liberation Serif", serif' font-weight="bold" fill="#000">-0.2</text>
<line x1="298.69" y1="587.4" x2="298.69" y2="591" stroke="#555" stroke-width="0.8"/>
<text x="298.8" y="601.7" text-anchor="middle" font-size="7.3" font-family='"Liberation Serif", serif' font-weight="bold" fill="#000">0</text>
<line x1="313.62" y1="587.4" x2="313.62" y2="591" stroke="#555" stroke-width="0.8"/>
<text x="313.9" y="601.7" text-anchor="middle" font-size="7.3" font-family='"Liberation Serif", serif' font-weight="bold" fill="#000">0.2</text>
<line x1="328.55" y1="587.4" x2="328.55" y2="591" stroke="#555" stroke-width="0.8"/>
<text x="328.3" y="601.7" text-anchor="middle" font-size="7.3" font-family='"Liberation Serif", serif' font-weight="bold" fill="#000">0.4</text>
<line x1="343.48" y1="587.4" x2="343.48" y2="591" stroke="#555" stroke-width="0.8"/>
<text x="346.7" y="601.7" text-anchor="middle" font-size="7.3" font-family='"Liberation Serif", serif' font-weight="bold" fill="#000">&gt;0.6</text>
</svg></body></html>
